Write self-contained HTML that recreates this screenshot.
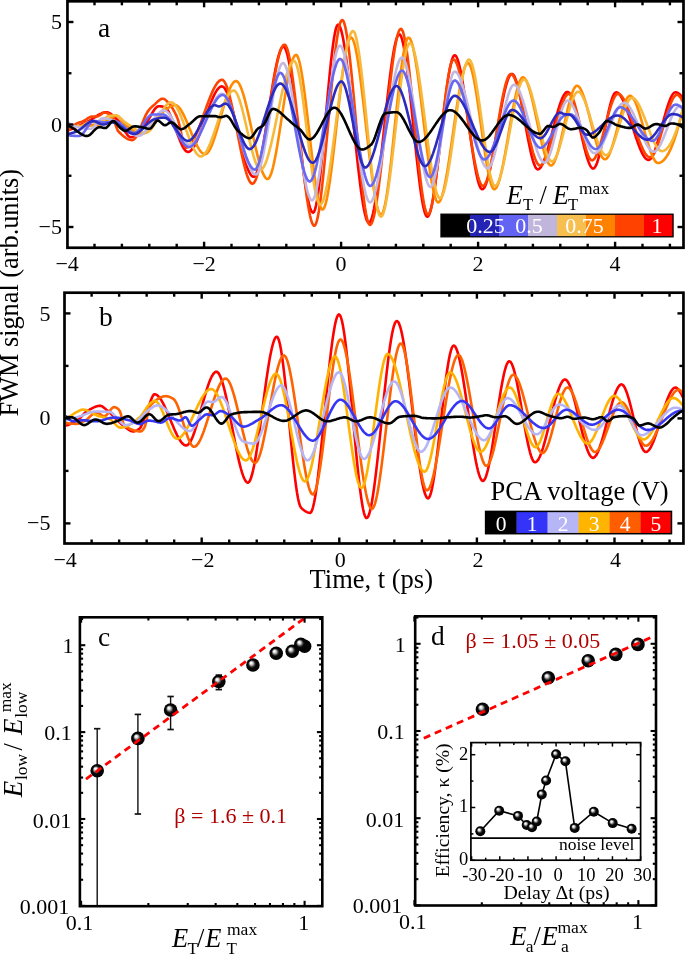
<!DOCTYPE html><html><head><meta charset="utf-8"><style>html,body{margin:0;padding:0;background:#fff;overflow:hidden}svg{display:block;will-change:transform}</style></head><body><svg width="685" height="955" viewBox="0 0 685 955" font-family="'Liberation Serif', serif">
<rect width="685" height="955" fill="#fff"/>
<defs><clipPath id="ca"><rect x="68" y="2" width="615" height="245"/></clipPath><clipPath id="cb"><rect x="66" y="294" width="617" height="249"/></clipPath></defs><g clip-path="url(#ca)">
<path d="M67.0,130.7 L68.0,130.3 L69.0,130.0 L70.0,129.6 L71.0,129.3 L72.0,128.9 L73.0,128.5 L74.0,128.0 L75.0,127.6 L76.0,127.2 L77.0,126.7 L78.0,126.2 L79.0,125.8 L80.0,125.3 L81.0,124.8 L82.0,124.3 L83.0,123.8 L84.0,123.4 L85.0,122.9 L86.0,122.4 L87.0,121.9 L88.0,121.4 L89.0,120.9 L90.0,120.4 L91.0,119.8 L92.0,119.1 L93.0,118.5 L94.0,117.8 L95.0,117.1 L96.0,116.5 L97.0,115.8 L98.0,115.2 L99.0,114.6 L100.0,114.0 L101.0,113.6 L102.0,113.1 L103.0,112.8 L104.0,112.5 L105.0,112.3 L106.0,112.2 L107.0,112.2 L108.0,112.5 L109.0,112.9 L110.0,113.4 L111.0,114.1 L112.0,114.8 L113.0,115.7 L114.0,116.6 L115.0,117.5 L116.0,118.5 L117.0,119.5 L118.0,120.4 L119.0,121.5 L120.0,122.8 L121.0,124.3 L122.0,126.0 L123.0,127.8 L124.0,129.6 L125.0,131.3 L126.0,132.9 L127.0,134.4 L128.0,135.6 L129.0,136.5 L130.0,137.1 L131.0,137.2 L132.0,137.1 L133.0,136.7 L134.0,136.2 L135.0,135.5 L136.0,134.6 L137.0,133.7 L138.0,132.6 L139.0,131.5 L140.0,130.4 L141.0,129.2 L142.0,128.0 L143.0,126.8 L144.0,125.6 L145.0,124.5 L146.0,123.3 L147.0,121.9 L148.0,120.3 L149.0,118.6 L150.0,116.9 L151.0,115.1 L152.0,113.4 L153.0,111.7 L154.0,110.2 L155.0,108.8 L156.0,107.7 L157.0,106.9 L158.0,106.4 L159.0,106.3 L160.0,106.3 L161.0,106.4 L162.0,106.5 L163.0,106.7 L164.0,106.9 L165.0,107.3 L166.0,108.1 L167.0,109.2 L168.0,110.7 L169.0,112.5 L170.0,114.5 L171.0,116.8 L172.0,119.2 L173.0,121.8 L174.0,124.5 L175.0,127.2 L176.0,130.0 L177.0,132.7 L178.0,135.5 L179.0,138.1 L180.0,140.6 L181.0,143.0 L182.0,145.1 L183.0,147.1 L184.0,148.7 L185.0,150.1 L186.0,151.1 L187.0,151.7 L188.0,152.0 L189.0,151.8 L190.0,151.3 L191.0,150.5 L192.0,149.4 L193.0,148.1 L194.0,146.5 L195.0,144.7 L196.0,142.7 L197.0,140.6 L198.0,138.2 L199.0,135.7 L200.0,133.1 L201.0,130.4 L202.0,127.6 L203.0,124.8 L204.0,121.9 L205.0,119.0 L206.0,116.1 L207.0,113.2 L208.0,110.4 L209.0,107.6 L210.0,104.9 L211.0,102.4 L212.0,99.9 L213.0,97.6 L214.0,95.4 L215.0,93.4 L216.0,91.6 L217.0,90.1 L218.0,88.8 L219.0,87.7 L220.0,87.0 L221.0,86.5 L222.0,86.4 L223.0,86.7 L224.0,87.5 L225.0,88.8 L226.0,90.5 L227.0,92.6 L228.0,95.1 L229.0,97.9 L230.0,101.1 L231.0,104.4 L232.0,108.1 L233.0,111.9 L234.0,115.8 L235.0,119.9 L236.0,124.1 L237.0,128.4 L238.0,132.6 L239.0,136.9 L240.0,141.1 L241.0,145.3 L242.0,149.3 L243.0,153.2 L244.0,156.9 L245.0,160.4 L246.0,163.7 L247.0,166.7 L248.0,169.3 L249.0,171.6 L250.0,173.5 L251.0,175.1 L252.0,176.1 L253.0,176.7 L254.0,176.7 L255.0,175.9 L256.0,174.4 L257.0,172.1 L258.0,169.1 L259.0,165.5 L260.0,161.3 L261.0,156.7 L262.0,151.6 L263.0,146.1 L264.0,140.3 L265.0,134.2 L266.0,127.9 L267.0,121.5 L268.0,115.0 L269.0,108.4 L270.0,101.9 L271.0,95.5 L272.0,89.2 L273.0,83.1 L274.0,77.3 L275.0,71.8 L276.0,66.7 L277.0,62.0 L278.0,57.9 L279.0,54.3 L280.0,51.3 L281.0,49.0 L282.0,47.4 L283.0,46.7 L284.0,46.8 L285.0,48.0 L286.0,50.2 L287.0,53.3 L288.0,57.3 L289.0,62.1 L290.0,67.6 L291.0,73.7 L292.0,80.3 L293.0,87.4 L294.0,95.0 L295.0,102.8 L296.0,110.9 L297.0,119.2 L298.0,127.5 L299.0,135.9 L300.0,144.2 L301.0,152.4 L302.0,160.4 L303.0,168.1 L304.0,175.4 L305.0,182.3 L306.0,188.7 L307.0,194.5 L308.0,199.6 L309.0,204.0 L310.0,207.6 L311.0,210.3 L312.0,212.0 L313.0,212.6 L314.0,211.9 L315.0,209.6 L316.0,205.6 L317.0,200.4 L318.0,193.8 L319.0,186.2 L320.0,177.6 L321.0,168.2 L322.0,158.1 L323.0,147.6 L324.0,136.6 L325.0,125.4 L326.0,114.1 L327.0,102.9 L328.0,91.9 L329.0,81.3 L330.0,71.1 L331.0,61.5 L332.0,52.8 L333.0,44.9 L334.0,38.2 L335.0,32.6 L336.0,28.4 L337.0,25.7 L338.0,24.7 L339.0,25.2 L340.0,26.8 L341.0,29.6 L342.0,33.4 L343.0,38.1 L344.0,43.7 L345.0,50.1 L346.0,57.1 L347.0,64.8 L348.0,72.9 L349.0,81.6 L350.0,90.6 L351.0,99.9 L352.0,109.3 L353.0,119.0 L354.0,128.6 L355.0,138.2 L356.0,147.7 L357.0,157.0 L358.0,166.0 L359.0,174.6 L360.0,182.8 L361.0,190.5 L362.0,197.5 L363.0,203.9 L364.0,209.4 L365.0,214.2 L366.0,218.0 L367.0,220.7 L368.0,222.4 L369.0,222.9 L370.0,222.2 L371.0,220.3 L372.0,217.4 L373.0,213.5 L374.0,208.8 L375.0,203.2 L376.0,196.8 L377.0,189.9 L378.0,182.3 L379.0,174.3 L380.0,165.8 L381.0,157.0 L382.0,148.0 L383.0,138.8 L384.0,129.5 L385.0,120.2 L386.0,111.0 L387.0,101.9 L388.0,93.1 L389.0,84.6 L390.0,76.5 L391.0,68.8 L392.0,61.7 L393.0,55.2 L394.0,49.5 L395.0,44.6 L396.0,40.5 L397.0,37.4 L398.0,35.3 L399.0,34.4 L400.0,34.6 L401.0,36.2 L402.0,39.1 L403.0,43.0 L404.0,48.0 L405.0,53.9 L406.0,60.6 L407.0,68.1 L408.0,76.2 L409.0,84.8 L410.0,93.9 L411.0,103.2 L412.0,112.9 L413.0,122.6 L414.0,132.4 L415.0,142.1 L416.0,151.6 L417.0,160.8 L418.0,169.7 L419.0,178.2 L420.0,186.0 L421.0,193.2 L422.0,199.6 L423.0,205.2 L424.0,209.7 L425.0,213.3 L426.0,215.6 L427.0,216.7 L428.0,216.4 L429.0,215.0 L430.0,212.4 L431.0,208.7 L432.0,204.1 L433.0,198.7 L434.0,192.5 L435.0,185.6 L436.0,178.2 L437.0,170.3 L438.0,162.1 L439.0,153.5 L440.0,144.8 L441.0,136.0 L442.0,127.2 L443.0,118.4 L444.0,109.9 L445.0,101.6 L446.0,93.7 L447.0,86.3 L448.0,79.5 L449.0,73.3 L450.0,67.8 L451.0,63.3 L452.0,59.6 L453.0,57.0 L454.0,55.5 L455.0,55.3 L456.0,56.1 L457.0,57.9 L458.0,60.5 L459.0,64.0 L460.0,68.2 L461.0,73.1 L462.0,78.5 L463.0,84.5 L464.0,90.8 L465.0,97.5 L466.0,104.5 L467.0,111.7 L468.0,119.0 L469.0,126.3 L470.0,133.5 L471.0,140.7 L472.0,147.6 L473.0,154.3 L474.0,160.6 L475.0,166.5 L476.0,171.9 L477.0,176.7 L478.0,180.9 L479.0,184.3 L480.0,186.8 L481.0,188.5 L482.0,189.3 L483.0,189.0 L484.0,188.1 L485.0,186.4 L486.0,184.1 L487.0,181.2 L488.0,177.8 L489.0,173.9 L490.0,169.6 L491.0,164.9 L492.0,159.9 L493.0,154.6 L494.0,149.1 L495.0,143.4 L496.0,137.7 L497.0,131.9 L498.0,126.0 L499.0,120.3 L500.0,114.6 L501.0,109.1 L502.0,103.8 L503.0,98.7 L504.0,94.0 L505.0,89.7 L506.0,85.7 L507.0,82.3 L508.0,79.3 L509.0,77.0 L510.0,75.2 L511.0,74.2 L512.0,73.9 L513.0,74.4 L514.0,75.6 L515.0,77.6 L516.0,80.3 L517.0,83.5 L518.0,87.3 L519.0,91.5 L520.0,96.1 L521.0,101.0 L522.0,106.1 L523.0,111.5 L524.0,116.9 L525.0,122.5 L526.0,128.0 L527.0,133.4 L528.0,138.7 L529.0,143.8 L530.0,148.6 L531.0,153.1 L532.0,157.2 L533.0,160.8 L534.0,163.8 L535.0,166.3 L536.0,168.1 L537.0,169.1 L538.0,169.4 L539.0,169.0 L540.0,168.2 L541.0,166.9 L542.0,165.2 L543.0,163.1 L544.0,160.7 L545.0,157.9 L546.0,154.9 L547.0,151.7 L548.0,148.3 L549.0,144.6 L550.0,140.9 L551.0,137.1 L552.0,133.2 L553.0,129.3 L554.0,125.4 L555.0,121.5 L556.0,117.8 L557.0,114.1 L558.0,110.6 L559.0,107.3 L560.0,104.2 L561.0,101.4 L562.0,98.9 L563.0,96.7 L564.0,94.9 L565.0,93.5 L566.0,92.5 L567.0,92.0 L568.0,92.0 L569.0,92.7 L570.0,93.9 L571.0,95.8 L572.0,98.1 L573.0,100.9 L574.0,104.1 L575.0,107.7 L576.0,111.5 L577.0,115.6 L578.0,119.8 L579.0,124.2 L580.0,128.7 L581.0,133.1 L582.0,137.6 L583.0,141.9 L584.0,146.1 L585.0,150.1 L586.0,153.9 L587.0,157.3 L588.0,160.4 L589.0,163.1 L590.0,165.3 L591.0,167.0 L592.0,168.1 L593.0,168.6 L594.0,168.3 L595.0,167.2 L596.0,165.4 L597.0,163.0 L598.0,159.9 L599.0,156.4 L600.0,152.4 L601.0,148.1 L602.0,143.4 L603.0,138.6 L604.0,133.7 L605.0,128.7 L606.0,123.7 L607.0,118.9 L608.0,114.2 L609.0,109.8 L610.0,105.7 L611.0,102.0 L612.0,98.8 L613.0,96.1 L614.0,94.1 L615.0,92.8 L616.0,92.3 L617.0,92.5 L618.0,93.0 L619.0,93.8 L620.0,95.0 L621.0,96.5 L622.0,98.2 L623.0,100.2 L624.0,102.4 L625.0,104.8 L626.0,107.4 L627.0,110.1 L628.0,113.0 L629.0,115.9 L630.0,119.0 L631.0,122.1 L632.0,125.2 L633.0,128.3 L634.0,131.4 L635.0,134.5 L636.0,137.5 L637.0,140.4 L638.0,143.3 L639.0,145.9 L640.0,148.4 L641.0,150.8 L642.0,152.9 L643.0,154.8 L644.0,156.4 L645.0,157.8 L646.0,158.8 L647.0,159.5 L648.0,159.9 L649.0,159.9 L650.0,159.4 L651.0,158.3 L652.0,156.8 L653.0,155.0 L654.0,152.7 L655.0,150.1 L656.0,147.2 L657.0,144.1 L658.0,140.7 L659.0,137.2 L660.0,133.6 L661.0,129.9 L662.0,126.1 L663.0,122.4 L664.0,118.7 L665.0,115.1 L666.0,111.5 L667.0,108.2 L668.0,105.1 L669.0,102.2 L670.0,99.6 L671.0,97.3 L672.0,95.4 L673.0,93.9 L674.0,92.9 L675.0,92.4 L676.0,92.3 L677.0,92.6 L678.0,93.0 L679.0,93.7 L680.0,94.5 L681.0,95.6 L682.0,96.8 L683.0,98.3 L684.0,99.9" fill="none" stroke="#ff0000" stroke-width="2.6" stroke-linejoin="round" stroke-linecap="round"/>
<path d="M67.0,131.7 L68.0,130.6 L69.0,129.6 L70.0,128.6 L71.0,127.6 L72.0,126.8 L73.0,126.0 L74.0,125.2 L75.0,124.5 L76.0,123.9 L77.0,123.4 L78.0,123.0 L79.0,122.6 L80.0,122.3 L81.0,122.0 L82.0,121.6 L83.0,121.2 L84.0,120.8 L85.0,120.2 L86.0,119.5 L87.0,118.8 L88.0,118.2 L89.0,117.6 L90.0,117.1 L91.0,116.8 L92.0,116.6 L93.0,116.6 L94.0,116.5 L95.0,116.5 L96.0,116.4 L97.0,116.4 L98.0,116.2 L99.0,115.8 L100.0,115.1 L101.0,114.4 L102.0,113.6 L103.0,113.0 L104.0,112.7 L105.0,112.6 L106.0,112.8 L107.0,113.1 L108.0,113.5 L109.0,114.0 L110.0,114.6 L111.0,115.3 L112.0,116.2 L113.0,118.0 L114.0,120.4 L115.0,123.3 L116.0,126.2 L117.0,128.8 L118.0,130.8 L119.0,132.0 L120.0,133.0 L121.0,134.0 L122.0,134.9 L123.0,135.7 L124.0,136.6 L125.0,137.3 L126.0,138.0 L127.0,138.6 L128.0,139.1 L129.0,139.5 L130.0,139.8 L131.0,140.0 L132.0,140.1 L133.0,140.0 L134.0,139.4 L135.0,138.4 L136.0,137.0 L137.0,135.3 L138.0,133.3 L139.0,131.1 L140.0,128.8 L141.0,126.4 L142.0,123.9 L143.0,121.4 L144.0,119.0 L145.0,116.8 L146.0,114.6 L147.0,112.8 L148.0,111.2 L149.0,109.9 L150.0,108.7 L151.0,107.7 L152.0,106.7 L153.0,105.8 L154.0,105.0 L155.0,104.1 L156.0,103.1 L157.0,102.2 L158.0,101.2 L159.0,100.4 L160.0,99.7 L161.0,99.1 L162.0,98.8 L163.0,98.7 L164.0,98.9 L165.0,99.5 L166.0,100.4 L167.0,101.4 L168.0,102.4 L169.0,103.4 L170.0,104.6 L171.0,106.0 L172.0,107.5 L173.0,109.2 L174.0,111.0 L175.0,112.9 L176.0,114.9 L177.0,117.1 L178.0,119.7 L179.0,123.3 L180.0,127.6 L181.0,132.3 L182.0,136.9 L183.0,141.1 L184.0,144.5 L185.0,146.8 L186.0,147.7 L187.0,147.5 L188.0,147.1 L189.0,146.3 L190.0,145.3 L191.0,144.1 L192.0,142.6 L193.0,141.0 L194.0,139.1 L195.0,137.1 L196.0,134.9 L197.0,132.5 L198.0,130.1 L199.0,127.5 L200.0,124.9 L201.0,122.1 L202.0,119.4 L203.0,116.6 L204.0,113.7 L205.0,110.9 L206.0,108.1 L207.0,105.3 L208.0,102.6 L209.0,100.0 L210.0,97.4 L211.0,94.9 L212.0,92.6 L213.0,90.4 L214.0,88.4 L215.0,86.5 L216.0,84.8 L217.0,83.4 L218.0,82.1 L219.0,81.1 L220.0,80.4 L221.0,80.0 L222.0,79.8 L223.0,80.1 L224.0,81.1 L225.0,82.6 L226.0,84.7 L227.0,87.3 L228.0,90.4 L229.0,93.8 L230.0,97.6 L231.0,101.7 L232.0,106.2 L233.0,110.8 L234.0,115.6 L235.0,120.6 L236.0,125.6 L237.0,130.8 L238.0,135.9 L239.0,141.0 L240.0,146.0 L241.0,150.9 L242.0,155.6 L243.0,160.1 L244.0,164.3 L245.0,168.3 L246.0,171.9 L247.0,175.1 L248.0,177.8 L249.0,180.1 L250.0,181.9 L251.0,183.1 L252.0,183.7 L253.0,183.6 L254.0,182.7 L255.0,181.2 L256.0,178.9 L257.0,176.0 L258.0,172.5 L259.0,168.5 L260.0,164.0 L261.0,159.1 L262.0,153.8 L263.0,148.2 L264.0,142.4 L265.0,136.2 L266.0,130.0 L267.0,123.6 L268.0,117.1 L269.0,110.6 L270.0,104.1 L271.0,97.7 L272.0,91.4 L273.0,85.3 L274.0,79.5 L275.0,73.9 L276.0,68.7 L277.0,63.8 L278.0,59.4 L279.0,55.4 L280.0,52.0 L281.0,49.2 L282.0,47.0 L283.0,45.4 L284.0,44.7 L285.0,44.7 L286.0,45.9 L287.0,48.2 L288.0,51.5 L289.0,55.7 L290.0,60.8 L291.0,66.7 L292.0,73.2 L293.0,80.4 L294.0,88.1 L295.0,96.2 L296.0,104.7 L297.0,113.5 L298.0,122.4 L299.0,131.5 L300.0,140.6 L301.0,149.7 L302.0,158.6 L303.0,167.4 L304.0,175.8 L305.0,183.8 L306.0,191.4 L307.0,198.5 L308.0,204.9 L309.0,210.6 L310.0,215.5 L311.0,219.6 L312.0,222.7 L313.0,224.8 L314.0,225.7 L315.0,225.4 L316.0,223.6 L317.0,220.4 L318.0,215.9 L319.0,210.2 L320.0,203.5 L321.0,195.9 L322.0,187.4 L323.0,178.2 L324.0,168.4 L325.0,158.2 L326.0,147.5 L327.0,136.7 L328.0,125.6 L329.0,114.6 L330.0,103.6 L331.0,92.8 L332.0,82.4 L333.0,72.3 L334.0,62.8 L335.0,54.0 L336.0,45.9 L337.0,38.7 L338.0,32.5 L339.0,27.5 L340.0,23.6 L341.0,21.1 L342.0,20.0 L343.0,20.4 L344.0,22.4 L345.0,25.8 L346.0,30.4 L347.0,36.2 L348.0,43.0 L349.0,50.7 L350.0,59.3 L351.0,68.6 L352.0,78.4 L353.0,88.7 L354.0,99.4 L355.0,110.3 L356.0,121.3 L357.0,132.4 L358.0,143.3 L359.0,154.1 L360.0,164.5 L361.0,174.4 L362.0,183.8 L363.0,192.5 L364.0,200.4 L365.0,207.4 L366.0,213.4 L367.0,218.3 L368.0,221.9 L369.0,224.2 L370.0,224.9 L371.0,224.3 L372.0,222.6 L373.0,219.8 L374.0,215.9 L375.0,211.2 L376.0,205.6 L377.0,199.3 L378.0,192.3 L379.0,184.7 L380.0,176.6 L381.0,168.1 L382.0,159.2 L383.0,150.0 L384.0,140.6 L385.0,131.1 L386.0,121.6 L387.0,112.1 L388.0,102.8 L389.0,93.6 L390.0,84.8 L391.0,76.3 L392.0,68.2 L393.0,60.7 L394.0,53.7 L395.0,47.5 L396.0,42.0 L397.0,37.4 L398.0,33.6 L399.0,30.9 L400.0,29.3 L401.0,28.8 L402.0,29.7 L403.0,31.9 L404.0,35.5 L405.0,40.2 L406.0,46.0 L407.0,52.8 L408.0,60.4 L409.0,68.7 L410.0,77.6 L411.0,87.0 L412.0,96.8 L413.0,106.9 L414.0,117.1 L415.0,127.4 L416.0,137.6 L417.0,147.7 L418.0,157.4 L419.0,166.8 L420.0,175.7 L421.0,183.9 L422.0,191.4 L423.0,198.0 L424.0,203.7 L425.0,208.4 L426.0,211.8 L427.0,214.0 L428.0,214.7 L429.0,214.0 L430.0,212.0 L431.0,208.8 L432.0,204.5 L433.0,199.3 L434.0,193.1 L435.0,186.2 L436.0,178.7 L437.0,170.6 L438.0,162.2 L439.0,153.4 L440.0,144.4 L441.0,135.3 L442.0,126.2 L443.0,117.3 L444.0,108.6 L445.0,100.3 L446.0,92.4 L447.0,85.1 L448.0,78.5 L449.0,72.7 L450.0,67.9 L451.0,64.0 L452.0,61.3 L453.0,59.8 L454.0,59.6 L455.0,60.3 L456.0,61.9 L457.0,64.2 L458.0,67.2 L459.0,70.7 L460.0,74.9 L461.0,79.5 L462.0,84.6 L463.0,90.0 L464.0,95.8 L465.0,101.8 L466.0,108.0 L467.0,114.4 L468.0,120.8 L469.0,127.3 L470.0,133.7 L471.0,140.0 L472.0,146.1 L473.0,152.1 L474.0,157.7 L475.0,163.0 L476.0,167.9 L477.0,172.3 L478.0,176.3 L479.0,179.6 L480.0,182.3 L481.0,184.3 L482.0,185.6 L483.0,186.0 L484.0,185.6 L485.0,184.3 L486.0,182.4 L487.0,179.7 L488.0,176.4 L489.0,172.6 L490.0,168.3 L491.0,163.5 L492.0,158.4 L493.0,153.0 L494.0,147.3 L495.0,141.4 L496.0,135.5 L497.0,129.4 L498.0,123.4 L499.0,117.4 L500.0,111.6 L501.0,106.0 L502.0,100.6 L503.0,95.6 L504.0,90.9 L505.0,86.7 L506.0,82.9 L507.0,79.8 L508.0,77.2 L509.0,75.4 L510.0,74.3 L511.0,74.1 L512.0,74.5 L513.0,75.5 L514.0,77.1 L515.0,79.2 L516.0,81.7 L517.0,84.7 L518.0,88.0 L519.0,91.7 L520.0,95.6 L521.0,99.7 L522.0,104.1 L523.0,108.6 L524.0,113.2 L525.0,117.9 L526.0,122.6 L527.0,127.3 L528.0,131.9 L529.0,136.4 L530.0,140.7 L531.0,144.8 L532.0,148.7 L533.0,152.3 L534.0,155.5 L535.0,158.4 L536.0,160.8 L537.0,162.8 L538.0,164.3 L539.0,165.2 L540.0,165.5 L541.0,165.2 L542.0,164.5 L543.0,163.4 L544.0,161.8 L545.0,159.8 L546.0,157.6 L547.0,155.0 L548.0,152.1 L549.0,149.1 L550.0,145.8 L551.0,142.4 L552.0,138.8 L553.0,135.2 L554.0,131.5 L555.0,127.8 L556.0,124.1 L557.0,120.4 L558.0,116.9 L559.0,113.5 L560.0,110.2 L561.0,107.1 L562.0,104.3 L563.0,101.7 L564.0,99.4 L565.0,97.5 L566.0,95.9 L567.0,94.7 L568.0,94.0 L569.0,93.8 L570.0,94.1 L571.0,95.2 L572.0,96.9 L573.0,99.1 L574.0,101.8 L575.0,105.0 L576.0,108.5 L577.0,112.3 L578.0,116.4 L579.0,120.6 L580.0,124.9 L581.0,129.2 L582.0,133.5 L583.0,137.8 L584.0,141.8 L585.0,145.6 L586.0,149.1 L587.0,152.3 L588.0,155.0 L589.0,157.3 L590.0,159.0 L591.0,160.0 L592.0,160.4 L593.0,160.1 L594.0,159.3 L595.0,157.9 L596.0,156.1 L597.0,153.9 L598.0,151.4 L599.0,148.5 L600.0,145.3 L601.0,142.0 L602.0,138.4 L603.0,134.7 L604.0,130.9 L605.0,127.1 L606.0,123.2 L607.0,119.4 L608.0,115.7 L609.0,112.2 L610.0,108.8 L611.0,105.6 L612.0,102.8 L613.0,100.2 L614.0,98.0 L615.0,96.2 L616.0,94.9 L617.0,94.0 L618.0,93.8 L619.0,93.9 L620.0,94.5 L621.0,95.3 L622.0,96.5 L623.0,97.9 L624.0,99.6 L625.0,101.5 L626.0,103.7 L627.0,106.0 L628.0,108.5 L629.0,111.1 L630.0,113.9 L631.0,116.7 L632.0,119.6 L633.0,122.5 L634.0,125.5 L635.0,128.5 L636.0,131.5 L637.0,134.4 L638.0,137.2 L639.0,139.9 L640.0,142.6 L641.0,145.0 L642.0,147.4 L643.0,149.5 L644.0,151.4 L645.0,153.1 L646.0,154.6 L647.0,155.7 L648.0,156.6 L649.0,157.1 L650.0,157.3 L651.0,157.0 L652.0,156.3 L653.0,155.2 L654.0,153.6 L655.0,151.7 L656.0,149.4 L657.0,146.9 L658.0,144.1 L659.0,141.1 L660.0,137.9 L661.0,134.6 L662.0,131.2 L663.0,127.8 L664.0,124.3 L665.0,120.8 L666.0,117.5 L667.0,114.2 L668.0,111.0 L669.0,108.0 L670.0,105.2 L671.0,102.7 L672.0,100.4 L673.0,98.5 L674.0,96.9 L675.0,95.8 L676.0,95.0 L677.0,94.8 L678.0,95.0 L679.0,95.8 L680.0,96.9 L681.0,98.3 L682.0,100.1 L683.0,102.0 L684.0,104.0" fill="none" stroke="#ff4400" stroke-width="2.6" stroke-linejoin="round" stroke-linecap="round"/>
<path d="M67.0,126.5 L68.0,126.5 L69.0,126.5 L70.0,126.5 L71.0,126.5 L72.0,126.5 L73.0,126.5 L74.0,126.4 L75.0,126.4 L76.0,126.4 L77.0,126.3 L78.0,126.3 L79.0,126.3 L80.0,126.2 L81.0,126.1 L82.0,126.1 L83.0,126.0 L84.0,126.0 L85.0,125.9 L86.0,125.8 L87.0,125.7 L88.0,125.7 L89.0,125.6 L90.0,125.5 L91.0,125.4 L92.0,125.3 L93.0,125.2 L94.0,125.1 L95.0,125.0 L96.0,124.9 L97.0,124.8 L98.0,124.7 L99.0,124.5 L100.0,124.4 L101.0,124.1 L102.0,123.7 L103.0,123.2 L104.0,122.7 L105.0,122.0 L106.0,121.4 L107.0,120.7 L108.0,120.0 L109.0,119.3 L110.0,118.6 L111.0,117.9 L112.0,117.4 L113.0,116.9 L114.0,116.4 L115.0,116.1 L116.0,115.9 L117.0,115.9 L118.0,116.3 L119.0,117.1 L120.0,118.2 L121.0,119.6 L122.0,121.1 L123.0,122.5 L124.0,123.8 L125.0,124.9 L126.0,125.7 L127.0,126.4 L128.0,127.1 L129.0,127.9 L130.0,128.6 L131.0,129.3 L132.0,129.9 L133.0,130.6 L134.0,131.2 L135.0,131.7 L136.0,132.2 L137.0,132.6 L138.0,133.0 L139.0,133.3 L140.0,133.5 L141.0,133.7 L142.0,133.7 L143.0,133.6 L144.0,133.3 L145.0,132.9 L146.0,132.3 L147.0,131.5 L148.0,130.6 L149.0,129.6 L150.0,128.5 L151.0,127.3 L152.0,126.0 L153.0,124.7 L154.0,123.4 L155.0,122.0 L156.0,120.6 L157.0,119.2 L158.0,117.8 L159.0,116.5 L160.0,115.2 L161.0,114.0 L162.0,112.9 L163.0,111.8 L164.0,110.8 L165.0,110.0 L166.0,109.3 L167.0,108.7 L168.0,108.0 L169.0,107.4 L170.0,106.8 L171.0,106.2 L172.0,105.7 L173.0,105.4 L174.0,105.1 L175.0,105.0 L176.0,105.2 L177.0,105.7 L178.0,106.4 L179.0,107.4 L180.0,108.7 L181.0,110.1 L182.0,111.8 L183.0,113.7 L184.0,115.7 L185.0,117.8 L186.0,120.0 L187.0,122.3 L188.0,124.7 L189.0,127.2 L190.0,129.6 L191.0,132.1 L192.0,134.5 L193.0,136.9 L194.0,139.2 L195.0,141.5 L196.0,143.6 L197.0,145.6 L198.0,147.4 L199.0,149.1 L200.0,150.6 L201.0,151.8 L202.0,152.8 L203.0,153.6 L204.0,154.1 L205.0,154.2 L206.0,154.0 L207.0,153.4 L208.0,152.3 L209.0,150.9 L210.0,149.1 L211.0,147.1 L212.0,144.7 L213.0,142.1 L214.0,139.3 L215.0,136.3 L216.0,133.1 L217.0,129.8 L218.0,126.4 L219.0,122.9 L220.0,119.4 L221.0,115.9 L222.0,112.3 L223.0,108.9 L224.0,105.4 L225.0,102.1 L226.0,99.0 L227.0,96.0 L228.0,93.1 L229.0,90.5 L230.0,88.2 L231.0,86.1 L232.0,84.4 L233.0,83.0 L234.0,81.9 L235.0,81.3 L236.0,81.0 L237.0,81.3 L238.0,82.2 L239.0,83.5 L240.0,85.4 L241.0,87.6 L242.0,90.3 L243.0,93.3 L244.0,96.7 L245.0,100.4 L246.0,104.3 L247.0,108.4 L248.0,112.7 L249.0,117.1 L250.0,121.7 L251.0,126.3 L252.0,131.0 L253.0,135.6 L254.0,140.2 L255.0,144.7 L256.0,149.1 L257.0,153.3 L258.0,157.4 L259.0,161.2 L260.0,164.8 L261.0,168.0 L262.0,170.9 L263.0,173.4 L264.0,175.5 L265.0,177.1 L266.0,178.3 L267.0,178.9 L268.0,179.0 L269.0,178.2 L270.0,176.5 L271.0,174.1 L272.0,171.0 L273.0,167.3 L274.0,162.9 L275.0,158.1 L276.0,152.9 L277.0,147.2 L278.0,141.3 L279.0,135.0 L280.0,128.7 L281.0,122.2 L282.0,115.6 L283.0,109.1 L284.0,102.6 L285.0,96.3 L286.0,90.2 L287.0,84.3 L288.0,78.8 L289.0,73.7 L290.0,69.1 L291.0,65.0 L292.0,61.5 L293.0,58.7 L294.0,56.6 L295.0,55.3 L296.0,54.8 L297.0,55.4 L298.0,57.3 L299.0,60.3 L300.0,64.3 L301.0,69.3 L302.0,75.0 L303.0,81.5 L304.0,88.6 L305.0,96.2 L306.0,104.3 L307.0,112.7 L308.0,121.3 L309.0,130.0 L310.0,138.8 L311.0,147.4 L312.0,155.9 L313.0,164.2 L314.0,172.0 L315.0,179.4 L316.0,186.2 L317.0,192.3 L318.0,197.7 L319.0,202.2 L320.0,205.7 L321.0,208.1 L322.0,209.4 L323.0,209.4 L324.0,208.2 L325.0,205.8 L326.0,202.4 L327.0,198.1 L328.0,192.8 L329.0,186.8 L330.0,180.1 L331.0,172.8 L332.0,164.9 L333.0,156.7 L334.0,148.1 L335.0,139.3 L336.0,130.3 L337.0,121.2 L338.0,112.2 L339.0,103.3 L340.0,94.5 L341.0,86.1 L342.0,78.0 L343.0,70.5 L344.0,63.4 L345.0,57.1 L346.0,51.4 L347.0,46.6 L348.0,42.7 L349.0,39.8 L350.0,38.0 L351.0,37.4 L352.0,38.0 L353.0,39.6 L354.0,42.3 L355.0,46.0 L356.0,50.5 L357.0,55.8 L358.0,61.8 L359.0,68.5 L360.0,75.7 L361.0,83.3 L362.0,91.4 L363.0,99.8 L364.0,108.4 L365.0,117.2 L366.0,126.0 L367.0,134.9 L368.0,143.7 L369.0,152.3 L370.0,160.7 L371.0,168.7 L372.0,176.4 L373.0,183.6 L374.0,190.2 L375.0,196.3 L376.0,201.6 L377.0,206.1 L378.0,209.7 L379.0,212.4 L380.0,214.1 L381.0,214.7 L382.0,214.0 L383.0,212.0 L384.0,208.9 L385.0,204.6 L386.0,199.4 L387.0,193.2 L388.0,186.3 L389.0,178.7 L390.0,170.5 L391.0,161.8 L392.0,152.7 L393.0,143.4 L394.0,133.8 L395.0,124.2 L396.0,114.6 L397.0,105.1 L398.0,95.9 L399.0,87.0 L400.0,78.5 L401.0,70.5 L402.0,63.1 L403.0,56.5 L404.0,50.7 L405.0,45.8 L406.0,42.0 L407.0,39.3 L408.0,37.8 L409.0,37.7 L410.0,38.7 L411.0,40.7 L412.0,43.6 L413.0,47.4 L414.0,52.0 L415.0,57.4 L416.0,63.3 L417.0,69.9 L418.0,76.9 L419.0,84.3 L420.0,92.1 L421.0,100.1 L422.0,108.3 L423.0,116.6 L424.0,125.0 L425.0,133.3 L426.0,141.5 L427.0,149.5 L428.0,157.2 L429.0,164.5 L430.0,171.5 L431.0,177.9 L432.0,183.7 L433.0,188.9 L434.0,193.4 L435.0,197.0 L436.0,199.8 L437.0,201.6 L438.0,202.4 L439.0,202.1 L440.0,200.9 L441.0,198.9 L442.0,196.1 L443.0,192.7 L444.0,188.5 L445.0,183.8 L446.0,178.6 L447.0,172.9 L448.0,166.9 L449.0,160.5 L450.0,153.9 L451.0,147.0 L452.0,140.1 L453.0,133.1 L454.0,126.0 L455.0,119.1 L456.0,112.2 L457.0,105.5 L458.0,99.1 L459.0,93.1 L460.0,87.3 L461.0,82.1 L462.0,77.3 L463.0,73.1 L464.0,69.6 L465.0,66.7 L466.0,64.6 L467.0,63.4 L468.0,63.0 L469.0,63.6 L470.0,65.3 L471.0,67.8 L472.0,71.2 L473.0,75.3 L474.0,80.1 L475.0,85.5 L476.0,91.4 L477.0,97.7 L478.0,104.3 L479.0,111.2 L480.0,118.3 L481.0,125.4 L482.0,132.6 L483.0,139.7 L484.0,146.6 L485.0,153.3 L486.0,159.7 L487.0,165.7 L488.0,171.1 L489.0,176.1 L490.0,180.3 L491.0,183.9 L492.0,186.6 L493.0,188.4 L494.0,189.2 L495.0,189.1 L496.0,188.1 L497.0,186.5 L498.0,184.2 L499.0,181.3 L500.0,177.8 L501.0,173.8 L502.0,169.4 L503.0,164.7 L504.0,159.6 L505.0,154.2 L506.0,148.6 L507.0,142.9 L508.0,137.1 L509.0,131.3 L510.0,125.4 L511.0,119.7 L512.0,114.1 L513.0,108.6 L514.0,103.5 L515.0,98.6 L516.0,94.1 L517.0,90.0 L518.0,86.4 L519.0,83.3 L520.0,80.8 L521.0,78.9 L522.0,77.7 L523.0,77.3 L524.0,77.7 L525.0,78.6 L526.0,80.2 L527.0,82.2 L528.0,84.8 L529.0,87.8 L530.0,91.1 L531.0,94.8 L532.0,98.8 L533.0,103.0 L534.0,107.5 L535.0,112.0 L536.0,116.7 L537.0,121.4 L538.0,126.1 L539.0,130.8 L540.0,135.4 L541.0,139.8 L542.0,144.0 L543.0,148.0 L544.0,151.7 L545.0,155.1 L546.0,158.1 L547.0,160.6 L548.0,162.7 L549.0,164.2 L550.0,165.2 L551.0,165.5 L552.0,165.2 L553.0,164.2 L554.0,162.6 L555.0,160.4 L556.0,157.8 L557.0,154.7 L558.0,151.3 L559.0,147.5 L560.0,143.4 L561.0,139.2 L562.0,134.8 L563.0,130.2 L564.0,125.6 L565.0,121.0 L566.0,116.5 L567.0,112.1 L568.0,107.8 L569.0,103.8 L570.0,100.0 L571.0,96.5 L572.0,93.5 L573.0,90.8 L574.0,88.7 L575.0,87.1 L576.0,86.1 L577.0,85.8 L578.0,86.0 L579.0,86.8 L580.0,88.1 L581.0,89.8 L582.0,92.0 L583.0,94.4 L584.0,97.3 L585.0,100.3 L586.0,103.7 L587.0,107.2 L588.0,110.9 L589.0,114.7 L590.0,118.6 L591.0,122.6 L592.0,126.5 L593.0,130.4 L594.0,134.2 L595.0,137.9 L596.0,141.4 L597.0,144.8 L598.0,147.9 L599.0,150.7 L600.0,153.1 L601.0,155.3 L602.0,157.0 L603.0,158.3 L604.0,159.1 L605.0,159.3 L606.0,159.1 L607.0,158.2 L608.0,156.8 L609.0,155.0 L610.0,152.7 L611.0,150.1 L612.0,147.2 L613.0,144.0 L614.0,140.6 L615.0,137.0 L616.0,133.3 L617.0,129.5 L618.0,125.7 L619.0,121.9 L620.0,118.2 L621.0,114.6 L622.0,111.2 L623.0,108.0 L624.0,105.0 L625.0,102.4 L626.0,100.2 L627.0,98.3 L628.0,97.0 L629.0,96.1 L630.0,95.8 L631.0,96.1 L632.0,96.8 L633.0,98.0 L634.0,99.5 L635.0,101.5 L636.0,103.7 L637.0,106.3 L638.0,109.1 L639.0,112.2 L640.0,115.4 L641.0,118.8 L642.0,122.3 L643.0,125.8 L644.0,129.4 L645.0,133.0 L646.0,136.6 L647.0,140.1 L648.0,143.4 L649.0,146.7 L650.0,149.7 L651.0,152.5 L652.0,155.1 L653.0,157.4 L654.0,159.3 L655.0,160.9 L656.0,162.1 L657.0,162.8 L658.0,163.0 L659.0,163.0 L660.0,162.7 L661.0,162.2 L662.0,161.6 L663.0,160.8 L664.0,159.9 L665.0,158.7 L666.0,157.4 L667.0,155.9 L668.0,154.3 L669.0,152.4 L670.0,150.4 L671.0,148.2 L672.0,145.8 L673.0,143.3 L674.0,140.6 L675.0,137.7 L676.0,134.7 L677.0,131.4 L678.0,128.0 L679.0,124.5 L680.0,120.7 L681.0,116.8 L682.0,112.7 L683.0,108.4 L684.0,104.0" fill="none" stroke="#ff8a00" stroke-width="2.6" stroke-linejoin="round" stroke-linecap="round"/>
<path d="M67.0,126.5 L68.0,126.5 L69.0,126.5 L70.0,126.5 L71.0,126.5 L72.0,126.5 L73.0,126.5 L74.0,126.5 L75.0,126.5 L76.0,126.4 L77.0,126.4 L78.0,126.4 L79.0,126.3 L80.0,126.2 L81.0,126.0 L82.0,125.6 L83.0,125.1 L84.0,124.5 L85.0,123.9 L86.0,123.4 L87.0,122.8 L88.0,122.4 L89.0,122.0 L90.0,121.9 L91.0,121.9 L92.0,122.0 L93.0,122.2 L94.0,122.4 L95.0,122.7 L96.0,123.0 L97.0,123.2 L98.0,123.4 L99.0,123.5 L100.0,123.3 L101.0,122.6 L102.0,121.8 L103.0,120.7 L104.0,119.6 L105.0,118.5 L106.0,117.5 L107.0,116.7 L108.0,116.3 L109.0,116.1 L110.0,115.9 L111.0,115.7 L112.0,115.6 L113.0,115.4 L114.0,115.3 L115.0,115.3 L116.0,115.3 L117.0,115.5 L118.0,116.0 L119.0,116.7 L120.0,117.6 L121.0,118.5 L122.0,119.5 L123.0,120.5 L124.0,121.4 L125.0,122.2 L126.0,122.8 L127.0,123.5 L128.0,124.2 L129.0,124.9 L130.0,125.6 L131.0,126.3 L132.0,127.0 L133.0,127.7 L134.0,128.4 L135.0,129.0 L136.0,129.6 L137.0,130.2 L138.0,130.7 L139.0,131.2 L140.0,131.7 L141.0,132.1 L142.0,132.4 L143.0,132.6 L144.0,132.8 L145.0,132.9 L146.0,132.9 L147.0,132.6 L148.0,132.1 L149.0,131.3 L150.0,130.4 L151.0,129.3 L152.0,128.0 L153.0,126.6 L154.0,125.0 L155.0,123.4 L156.0,121.7 L157.0,120.0 L158.0,118.2 L159.0,116.4 L160.0,114.6 L161.0,112.9 L162.0,111.2 L163.0,109.6 L164.0,108.1 L165.0,106.7 L166.0,105.5 L167.0,104.5 L168.0,103.6 L169.0,102.9 L170.0,102.5 L171.0,102.4 L172.0,102.5 L173.0,103.0 L174.0,103.8 L175.0,104.9 L176.0,106.3 L177.0,107.9 L178.0,109.8 L179.0,111.8 L180.0,114.0 L181.0,116.4 L182.0,118.9 L183.0,121.5 L184.0,124.1 L185.0,126.8 L186.0,129.6 L187.0,132.3 L188.0,135.0 L189.0,137.6 L190.0,140.2 L191.0,142.7 L192.0,145.0 L193.0,147.2 L194.0,149.3 L195.0,151.1 L196.0,152.7 L197.0,154.0 L198.0,155.1 L199.0,155.9 L200.0,156.4 L201.0,156.5 L202.0,156.2 L203.0,155.6 L204.0,154.7 L205.0,153.5 L206.0,152.1 L207.0,150.3 L208.0,148.4 L209.0,146.2 L210.0,143.9 L211.0,141.4 L212.0,138.7 L213.0,136.0 L214.0,133.1 L215.0,130.2 L216.0,127.2 L217.0,124.2 L218.0,121.2 L219.0,118.2 L220.0,115.3 L221.0,112.4 L222.0,109.6 L223.0,106.9 L224.0,104.3 L225.0,101.9 L226.0,99.6 L227.0,97.6 L228.0,95.7 L229.0,94.1 L230.0,92.8 L231.0,91.7 L232.0,91.0 L233.0,90.6 L234.0,90.5 L235.0,91.0 L236.0,92.1 L237.0,93.8 L238.0,95.9 L239.0,98.5 L240.0,101.5 L241.0,104.8 L242.0,108.4 L243.0,112.3 L244.0,116.4 L245.0,120.6 L246.0,125.0 L247.0,129.4 L248.0,133.8 L249.0,138.1 L250.0,142.4 L251.0,146.6 L252.0,150.5 L253.0,154.2 L254.0,157.6 L255.0,160.7 L256.0,163.4 L257.0,165.7 L258.0,167.5 L259.0,168.8 L260.0,169.5 L261.0,169.6 L262.0,169.0 L263.0,168.0 L264.0,166.5 L265.0,164.4 L266.0,162.0 L267.0,159.2 L268.0,156.0 L269.0,152.4 L270.0,148.6 L271.0,144.6 L272.0,140.3 L273.0,135.8 L274.0,131.2 L275.0,126.4 L276.0,121.6 L277.0,116.7 L278.0,111.9 L279.0,107.0 L280.0,102.2 L281.0,97.5 L282.0,92.9 L283.0,88.5 L284.0,84.3 L285.0,80.4 L286.0,76.7 L287.0,73.3 L288.0,70.2 L289.0,67.5 L290.0,65.3 L291.0,63.4 L292.0,62.1 L293.0,61.2 L294.0,60.9 L295.0,61.6 L296.0,63.3 L297.0,66.2 L298.0,70.0 L299.0,74.6 L300.0,80.1 L301.0,86.2 L302.0,92.9 L303.0,100.1 L304.0,107.7 L305.0,115.6 L306.0,123.7 L307.0,131.9 L308.0,140.1 L309.0,148.2 L310.0,156.1 L311.0,163.8 L312.0,171.1 L313.0,177.9 L314.0,184.1 L315.0,189.7 L316.0,194.6 L317.0,198.6 L318.0,201.6 L319.0,203.6 L320.0,204.4 L321.0,204.1 L322.0,202.9 L323.0,200.9 L324.0,198.0 L325.0,194.4 L326.0,190.1 L327.0,185.2 L328.0,179.7 L329.0,173.7 L330.0,167.3 L331.0,160.4 L332.0,153.3 L333.0,145.8 L334.0,138.2 L335.0,130.4 L336.0,122.5 L337.0,114.6 L338.0,106.7 L339.0,98.8 L340.0,91.2 L341.0,83.7 L342.0,76.5 L343.0,69.6 L344.0,63.0 L345.0,56.9 L346.0,51.3 L347.0,46.3 L348.0,41.9 L349.0,38.1 L350.0,35.1 L351.0,32.9 L352.0,31.5 L353.0,31.0 L354.0,31.7 L355.0,33.7 L356.0,37.0 L357.0,41.4 L358.0,46.8 L359.0,53.1 L360.0,60.2 L361.0,68.1 L362.0,76.5 L363.0,85.5 L364.0,94.9 L365.0,104.5 L366.0,114.4 L367.0,124.4 L368.0,134.3 L369.0,144.2 L370.0,153.9 L371.0,163.2 L372.0,172.1 L373.0,180.5 L374.0,188.3 L375.0,195.3 L376.0,201.6 L377.0,206.9 L378.0,211.1 L379.0,214.3 L380.0,216.2 L381.0,216.7 L382.0,216.0 L383.0,214.2 L384.0,211.3 L385.0,207.4 L386.0,202.6 L387.0,197.1 L388.0,190.8 L389.0,183.9 L390.0,176.4 L391.0,168.5 L392.0,160.2 L393.0,151.7 L394.0,142.9 L395.0,134.0 L396.0,125.0 L397.0,116.1 L398.0,107.3 L399.0,98.8 L400.0,90.5 L401.0,82.7 L402.0,75.3 L403.0,68.4 L404.0,62.2 L405.0,56.7 L406.0,52.1 L407.0,48.3 L408.0,45.5 L409.0,43.7 L410.0,43.1 L411.0,43.6 L412.0,45.1 L413.0,47.5 L414.0,50.7 L415.0,54.6 L416.0,59.3 L417.0,64.5 L418.0,70.3 L419.0,76.6 L420.0,83.3 L421.0,90.4 L422.0,97.7 L423.0,105.3 L424.0,113.0 L425.0,120.7 L426.0,128.5 L427.0,136.1 L428.0,143.7 L429.0,151.0 L430.0,158.1 L431.0,164.8 L432.0,171.1 L433.0,176.9 L434.0,182.2 L435.0,186.8 L436.0,190.8 L437.0,194.0 L438.0,196.3 L439.0,197.8 L440.0,198.3 L441.0,197.8 L442.0,196.4 L443.0,194.2 L444.0,191.1 L445.0,187.3 L446.0,182.9 L447.0,177.9 L448.0,172.4 L449.0,166.5 L450.0,160.2 L451.0,153.5 L452.0,146.7 L453.0,139.6 L454.0,132.5 L455.0,125.3 L456.0,118.2 L457.0,111.1 L458.0,104.3 L459.0,97.6 L460.0,91.3 L461.0,85.4 L462.0,79.9 L463.0,74.9 L464.0,70.5 L465.0,66.7 L466.0,63.7 L467.0,61.4 L468.0,60.0 L469.0,59.5 L470.0,60.1 L471.0,61.6 L472.0,64.2 L473.0,67.6 L474.0,71.7 L475.0,76.6 L476.0,82.1 L477.0,88.1 L478.0,94.5 L479.0,101.3 L480.0,108.3 L481.0,115.5 L482.0,122.8 L483.0,130.0 L484.0,137.2 L485.0,144.3 L486.0,151.0 L487.0,157.4 L488.0,163.4 L489.0,168.9 L490.0,173.8 L491.0,177.9 L492.0,181.3 L493.0,183.9 L494.0,185.5 L495.0,186.0 L496.0,185.6 L497.0,184.5 L498.0,182.8 L499.0,180.5 L500.0,177.6 L501.0,174.2 L502.0,170.4 L503.0,166.1 L504.0,161.6 L505.0,156.7 L506.0,151.6 L507.0,146.3 L508.0,140.9 L509.0,135.5 L510.0,129.9 L511.0,124.5 L512.0,119.1 L513.0,113.8 L514.0,108.7 L515.0,103.8 L516.0,99.3 L517.0,95.0 L518.0,91.2 L519.0,87.8 L520.0,84.9 L521.0,82.6 L522.0,80.9 L523.0,79.8 L524.0,79.4 L525.0,79.7 L526.0,80.6 L527.0,82.0 L528.0,83.9 L529.0,86.3 L530.0,89.1 L531.0,92.2 L532.0,95.7 L533.0,99.4 L534.0,103.3 L535.0,107.4 L536.0,111.7 L537.0,116.0 L538.0,120.4 L539.0,124.8 L540.0,129.1 L541.0,133.4 L542.0,137.5 L543.0,141.4 L544.0,145.1 L545.0,148.6 L546.0,151.7 L547.0,154.5 L548.0,156.9 L549.0,158.8 L550.0,160.2 L551.0,161.1 L552.0,161.4 L553.0,161.1 L554.0,160.2 L555.0,158.8 L556.0,157.0 L557.0,154.7 L558.0,152.0 L559.0,149.0 L560.0,145.7 L561.0,142.1 L562.0,138.4 L563.0,134.5 L564.0,130.6 L565.0,126.6 L566.0,122.5 L567.0,118.6 L568.0,114.7 L569.0,111.0 L570.0,107.4 L571.0,104.1 L572.0,101.1 L573.0,98.4 L574.0,96.1 L575.0,94.3 L576.0,92.9 L577.0,92.0 L578.0,91.7 L579.0,91.9 L580.0,92.6 L581.0,93.7 L582.0,95.2 L583.0,97.1 L584.0,99.2 L585.0,101.6 L586.0,104.3 L587.0,107.2 L588.0,110.2 L589.0,113.4 L590.0,116.7 L591.0,120.1 L592.0,123.5 L593.0,126.9 L594.0,130.2 L595.0,133.5 L596.0,136.7 L597.0,139.8 L598.0,142.7 L599.0,145.3 L600.0,147.7 L601.0,149.9 L602.0,151.7 L603.0,153.2 L604.0,154.3 L605.0,155.0 L606.0,155.2 L607.0,155.0 L608.0,154.3 L609.0,153.1 L610.0,151.6 L611.0,149.7 L612.0,147.5 L613.0,145.0 L614.0,142.3 L615.0,139.4 L616.0,136.3 L617.0,133.1 L618.0,129.9 L619.0,126.6 L620.0,123.2 L621.0,120.0 L622.0,116.8 L623.0,113.7 L624.0,110.8 L625.0,108.1 L626.0,105.6 L627.0,103.4 L628.0,101.5 L629.0,100.0 L630.0,98.8 L631.0,98.1 L632.0,97.8 L633.0,98.0 L634.0,98.5 L635.0,99.3 L636.0,100.4 L637.0,101.8 L638.0,103.4 L639.0,105.2 L640.0,107.2 L641.0,109.4 L642.0,111.7 L643.0,114.1 L644.0,116.6 L645.0,119.2 L646.0,121.8 L647.0,124.5 L648.0,127.2 L649.0,129.8 L650.0,132.4 L651.0,134.9 L652.0,137.3 L653.0,139.6 L654.0,141.8 L655.0,143.8 L656.0,145.6 L657.0,147.2 L658.0,148.6 L659.0,149.7 L660.0,150.5 L661.0,151.0 L662.0,151.2 L663.0,151.0 L664.0,150.7 L665.0,150.2 L666.0,149.4 L667.0,148.4 L668.0,147.3 L669.0,145.9 L670.0,144.4 L671.0,142.7 L672.0,140.8 L673.0,138.7 L674.0,136.4 L675.0,134.0 L676.0,131.5 L677.0,128.8 L678.0,125.9 L679.0,122.9 L680.0,119.8 L681.0,116.5 L682.0,113.2 L683.0,109.7 L684.0,106.0" fill="none" stroke="#f6b93b" stroke-width="2.6" stroke-linejoin="round" stroke-linecap="round"/>
<path d="M67.0,121.4 L68.0,122.2 L69.0,123.0 L70.0,123.8 L71.0,124.5 L72.0,125.1 L73.0,125.6 L74.0,126.1 L75.0,126.4 L76.0,126.7 L77.0,126.9 L78.0,127.2 L79.0,127.4 L80.0,127.6 L81.0,127.8 L82.0,128.0 L83.0,128.2 L84.0,128.3 L85.0,128.4 L86.0,128.6 L87.0,128.7 L88.0,128.7 L89.0,128.8 L90.0,128.8 L91.0,128.8 L92.0,128.4 L93.0,127.7 L94.0,126.7 L95.0,125.6 L96.0,124.4 L97.0,123.1 L98.0,121.9 L99.0,120.7 L100.0,119.7 L101.0,119.0 L102.0,118.5 L103.0,118.4 L104.0,118.4 L105.0,118.5 L106.0,118.6 L107.0,118.8 L108.0,119.0 L109.0,119.3 L110.0,119.6 L111.0,119.8 L112.0,120.1 L113.0,120.4 L114.0,120.7 L115.0,121.2 L116.0,121.7 L117.0,122.2 L118.0,122.9 L119.0,123.6 L120.0,124.3 L121.0,125.1 L122.0,125.9 L123.0,126.8 L124.0,127.6 L125.0,128.5 L126.0,129.3 L127.0,130.2 L128.0,131.0 L129.0,131.8 L130.0,132.5 L131.0,133.2 L132.0,133.9 L133.0,134.4 L134.0,134.9 L135.0,135.3 L136.0,135.6 L137.0,135.9 L138.0,136.0 L139.0,135.9 L140.0,135.7 L141.0,135.2 L142.0,134.6 L143.0,133.8 L144.0,132.8 L145.0,131.7 L146.0,130.5 L147.0,129.2 L148.0,127.8 L149.0,126.4 L150.0,124.9 L151.0,123.4 L152.0,121.9 L153.0,120.4 L154.0,118.9 L155.0,117.5 L156.0,116.2 L157.0,115.0 L158.0,113.8 L159.0,112.8 L160.0,112.0 L161.0,111.3 L162.0,110.8 L163.0,110.4 L164.0,110.4 L165.0,110.5 L166.0,111.0 L167.0,111.7 L168.0,112.7 L169.0,113.8 L170.0,115.1 L171.0,116.7 L172.0,118.3 L173.0,120.1 L174.0,121.9 L175.0,123.8 L176.0,125.8 L177.0,127.8 L178.0,129.8 L179.0,131.7 L180.0,133.6 L181.0,135.5 L182.0,137.2 L183.0,138.9 L184.0,140.3 L185.0,141.7 L186.0,142.8 L187.0,143.7 L188.0,144.4 L189.0,144.9 L190.0,145.0 L191.0,144.9 L192.0,144.4 L193.0,143.7 L194.0,142.8 L195.0,141.6 L196.0,140.3 L197.0,138.7 L198.0,137.0 L199.0,135.1 L200.0,133.1 L201.0,131.0 L202.0,128.8 L203.0,126.5 L204.0,124.2 L205.0,121.8 L206.0,119.4 L207.0,117.0 L208.0,114.6 L209.0,112.3 L210.0,110.0 L211.0,107.8 L212.0,105.6 L213.0,103.6 L214.0,101.8 L215.0,100.0 L216.0,98.5 L217.0,97.1 L218.0,96.0 L219.0,95.0 L220.0,94.3 L221.0,93.9 L222.0,93.8 L223.0,94.0 L224.0,94.6 L225.0,95.5 L226.0,96.9 L227.0,98.5 L228.0,100.4 L229.0,102.7 L230.0,105.1 L231.0,107.8 L232.0,110.7 L233.0,113.7 L234.0,116.9 L235.0,120.3 L236.0,123.7 L237.0,127.2 L238.0,130.7 L239.0,134.3 L240.0,137.9 L241.0,141.4 L242.0,144.9 L243.0,148.3 L244.0,151.6 L245.0,154.8 L246.0,157.9 L247.0,160.7 L248.0,163.4 L249.0,165.8 L250.0,168.0 L251.0,169.9 L252.0,171.6 L253.0,172.8 L254.0,173.8 L255.0,174.4 L256.0,174.5 L257.0,174.0 L258.0,172.6 L259.0,170.5 L260.0,167.6 L261.0,164.2 L262.0,160.1 L263.0,155.6 L264.0,150.6 L265.0,145.2 L266.0,139.6 L267.0,133.7 L268.0,127.7 L269.0,121.5 L270.0,115.4 L271.0,109.2 L272.0,103.2 L273.0,97.3 L274.0,91.7 L275.0,86.4 L276.0,81.5 L277.0,77.0 L278.0,73.0 L279.0,69.6 L280.0,66.8 L281.0,64.7 L282.0,63.4 L283.0,63.0 L284.0,63.5 L285.0,64.9 L286.0,67.1 L287.0,70.1 L288.0,73.8 L289.0,78.2 L290.0,83.1 L291.0,88.6 L292.0,94.5 L293.0,100.7 L294.0,107.3 L295.0,114.1 L296.0,121.1 L297.0,128.1 L298.0,135.2 L299.0,142.3 L300.0,149.3 L301.0,156.1 L302.0,162.6 L303.0,168.9 L304.0,174.8 L305.0,180.2 L306.0,185.1 L307.0,189.5 L308.0,193.2 L309.0,196.2 L310.0,198.5 L311.0,199.9 L312.0,200.4 L313.0,199.8 L314.0,198.1 L315.0,195.4 L316.0,191.7 L317.0,187.2 L318.0,182.0 L319.0,176.0 L320.0,169.5 L321.0,162.4 L322.0,155.0 L323.0,147.1 L324.0,139.1 L325.0,130.9 L326.0,122.5 L327.0,114.2 L328.0,106.0 L329.0,98.0 L330.0,90.2 L331.0,82.8 L332.0,75.8 L333.0,69.3 L334.0,63.4 L335.0,58.2 L336.0,53.8 L337.0,50.2 L338.0,47.6 L339.0,46.0 L340.0,45.6 L341.0,46.2 L342.0,47.8 L343.0,50.2 L344.0,53.5 L345.0,57.6 L346.0,62.3 L347.0,67.6 L348.0,73.5 L349.0,79.9 L350.0,86.7 L351.0,93.8 L352.0,101.2 L353.0,108.8 L354.0,116.6 L355.0,124.4 L356.0,132.2 L357.0,139.9 L358.0,147.5 L359.0,154.9 L360.0,162.0 L361.0,168.7 L362.0,175.1 L363.0,180.9 L364.0,186.2 L365.0,190.9 L366.0,194.8 L367.0,198.0 L368.0,200.4 L369.0,201.9 L370.0,202.4 L371.0,202.0 L372.0,200.8 L373.0,198.8 L374.0,196.2 L375.0,192.9 L376.0,189.0 L377.0,184.6 L378.0,179.8 L379.0,174.5 L380.0,168.8 L381.0,162.8 L382.0,156.5 L383.0,150.1 L384.0,143.4 L385.0,136.7 L386.0,129.9 L387.0,123.1 L388.0,116.4 L389.0,109.8 L390.0,103.3 L391.0,97.1 L392.0,91.1 L393.0,85.4 L394.0,80.1 L395.0,75.2 L396.0,70.8 L397.0,67.0 L398.0,63.7 L399.0,61.0 L400.0,59.1 L401.0,57.9 L402.0,57.5 L403.0,57.9 L404.0,59.3 L405.0,61.5 L406.0,64.4 L407.0,68.0 L408.0,72.3 L409.0,77.1 L410.0,82.4 L411.0,88.1 L412.0,94.1 L413.0,100.5 L414.0,107.0 L415.0,113.7 L416.0,120.5 L417.0,127.4 L418.0,134.1 L419.0,140.8 L420.0,147.2 L421.0,153.4 L422.0,159.3 L423.0,164.8 L424.0,169.9 L425.0,174.4 L426.0,178.4 L427.0,181.6 L428.0,184.2 L429.0,186.0 L430.0,186.9 L431.0,186.9 L432.0,185.7 L433.0,183.6 L434.0,180.5 L435.0,176.5 L436.0,171.9 L437.0,166.5 L438.0,160.6 L439.0,154.3 L440.0,147.6 L441.0,140.7 L442.0,133.6 L443.0,126.5 L444.0,119.3 L445.0,112.4 L446.0,105.6 L447.0,99.2 L448.0,93.3 L449.0,87.8 L450.0,83.0 L451.0,78.9 L452.0,75.6 L453.0,73.2 L454.0,71.9 L455.0,71.6 L456.0,72.0 L457.0,73.0 L458.0,74.3 L459.0,76.1 L460.0,78.3 L461.0,80.8 L462.0,83.7 L463.0,86.9 L464.0,90.3 L465.0,94.0 L466.0,97.9 L467.0,101.9 L468.0,106.1 L469.0,110.4 L470.0,114.7 L471.0,119.1 L472.0,123.5 L473.0,127.9 L474.0,132.2 L475.0,136.4 L476.0,140.5 L477.0,144.4 L478.0,148.2 L479.0,151.7 L480.0,155.0 L481.0,158.0 L482.0,160.7 L483.0,163.0 L484.0,165.0 L485.0,166.5 L486.0,167.6 L487.0,168.2 L488.0,168.3 L489.0,167.8 L490.0,166.6 L491.0,164.7 L492.0,162.4 L493.0,159.5 L494.0,156.3 L495.0,152.6 L496.0,148.6 L497.0,144.4 L498.0,139.9 L499.0,135.3 L500.0,130.6 L501.0,125.8 L502.0,121.1 L503.0,116.4 L504.0,111.8 L505.0,107.4 L506.0,103.2 L507.0,99.4 L508.0,95.8 L509.0,92.6 L510.0,89.9 L511.0,87.7 L512.0,86.1 L513.0,85.1 L514.0,84.7 L515.0,85.0 L516.0,85.7 L517.0,86.8 L518.0,88.4 L519.0,90.3 L520.0,92.5 L521.0,95.1 L522.0,97.9 L523.0,101.0 L524.0,104.3 L525.0,107.7 L526.0,111.3 L527.0,115.0 L528.0,118.7 L529.0,122.5 L530.0,126.4 L531.0,130.1 L532.0,133.9 L533.0,137.5 L534.0,141.1 L535.0,144.4 L536.0,147.6 L537.0,150.6 L538.0,153.3 L539.0,155.8 L540.0,157.9 L541.0,159.6 L542.0,161.0 L543.0,162.0 L544.0,162.5 L545.0,162.6 L546.0,162.0 L547.0,160.7 L548.0,158.9 L549.0,156.6 L550.0,153.9 L551.0,150.8 L552.0,147.4 L553.0,143.7 L554.0,139.8 L555.0,135.8 L556.0,131.8 L557.0,127.7 L558.0,123.7 L559.0,119.8 L560.0,116.1 L561.0,112.7 L562.0,109.5 L563.0,106.8 L564.0,104.4 L565.0,102.6 L566.0,101.3 L567.0,100.6 L568.0,100.6 L569.0,101.0 L570.0,101.8 L571.0,102.9 L572.0,104.4 L573.0,106.2 L574.0,108.2 L575.0,110.5 L576.0,112.9 L577.0,115.5 L578.0,118.2 L579.0,121.0 L580.0,123.9 L581.0,126.9 L582.0,129.8 L583.0,132.7 L584.0,135.5 L585.0,138.2 L586.0,140.8 L587.0,143.3 L588.0,145.5 L589.0,147.5 L590.0,149.3 L591.0,150.8 L592.0,151.9 L593.0,152.7 L594.0,153.1 L595.0,153.2 L596.0,152.8 L597.0,152.2 L598.0,151.3 L599.0,150.1 L600.0,148.7 L601.0,147.0 L602.0,145.2 L603.0,143.2 L604.0,141.0 L605.0,138.7 L606.0,136.4 L607.0,133.9 L608.0,131.4 L609.0,128.9 L610.0,126.3 L611.0,123.8 L612.0,121.3 L613.0,118.9 L614.0,116.5 L615.0,114.3 L616.0,112.2 L617.0,110.2 L618.0,108.4 L619.0,106.9 L620.0,105.5 L621.0,104.4 L622.0,103.6 L623.0,103.0 L624.0,102.8 L625.0,102.9 L626.0,103.3 L627.0,104.0 L628.0,105.0 L629.0,106.2 L630.0,107.6 L631.0,109.3 L632.0,111.1 L633.0,113.1 L634.0,115.3 L635.0,117.5 L636.0,119.8 L637.0,122.2 L638.0,124.7 L639.0,127.1 L640.0,129.6 L641.0,132.1 L642.0,134.5 L643.0,136.8 L644.0,139.1 L645.0,141.2 L646.0,143.2 L647.0,145.1 L648.0,146.7 L649.0,148.2 L650.0,149.5 L651.0,150.5 L652.0,151.2 L653.0,151.6 L654.0,151.8 L655.0,151.5 L656.0,150.9 L657.0,150.0 L658.0,148.7 L659.0,147.2 L660.0,145.4 L661.0,143.5 L662.0,141.3 L663.0,139.0 L664.0,136.5 L665.0,134.0 L666.0,131.4 L667.0,128.8 L668.0,126.2 L669.0,123.6 L670.0,121.0 L671.0,118.6 L672.0,116.3 L673.0,114.2 L674.0,112.2 L675.0,110.4 L676.0,108.9 L677.0,107.7 L678.0,106.8 L679.0,106.2 L680.0,106.0 L681.0,106.2 L682.0,106.7 L683.0,107.3 L684.0,108.1" fill="none" stroke="#c2b8e2" stroke-width="2.6" stroke-linejoin="round" stroke-linecap="round"/>
<path d="M67.0,134.8 L68.0,135.0 L69.0,135.3 L70.0,135.5 L71.0,135.6 L72.0,135.7 L73.0,135.8 L74.0,135.9 L75.0,135.9 L76.0,136.0 L77.0,136.0 L78.0,136.0 L79.0,136.0 L80.0,135.8 L81.0,135.3 L82.0,134.5 L83.0,133.4 L84.0,132.2 L85.0,130.8 L86.0,129.3 L87.0,127.8 L88.0,126.3 L89.0,124.9 L90.0,123.7 L91.0,122.6 L92.0,121.8 L93.0,121.2 L94.0,121.0 L95.0,121.0 L96.0,121.1 L97.0,121.2 L98.0,121.4 L99.0,121.6 L100.0,121.7 L101.0,121.9 L102.0,122.1 L103.0,122.2 L104.0,122.3 L105.0,122.4 L106.0,122.5 L107.0,122.4 L108.0,122.3 L109.0,122.2 L110.0,122.0 L111.0,121.9 L112.0,121.7 L113.0,121.6 L114.0,121.5 L115.0,121.4 L116.0,121.5 L117.0,121.8 L118.0,122.2 L119.0,122.7 L120.0,123.3 L121.0,124.1 L122.0,124.9 L123.0,125.7 L124.0,126.6 L125.0,127.5 L126.0,128.4 L127.0,129.2 L128.0,130.0 L129.0,130.8 L130.0,131.4 L131.0,132.0 L132.0,132.5 L133.0,132.8 L134.0,132.9 L135.0,132.8 L136.0,132.5 L137.0,131.8 L138.0,131.0 L139.0,129.9 L140.0,128.7 L141.0,127.3 L142.0,125.9 L143.0,124.4 L144.0,122.9 L145.0,121.4 L146.0,120.0 L147.0,118.7 L148.0,117.5 L149.0,116.4 L150.0,115.5 L151.0,114.9 L152.0,114.5 L153.0,114.5 L154.0,114.5 L155.0,114.5 L156.0,114.5 L157.0,114.5 L158.0,114.5 L159.0,114.5 L160.0,114.5 L161.0,114.5 L162.0,114.5 L163.0,114.5 L164.0,114.6 L165.0,115.1 L166.0,115.7 L167.0,116.6 L168.0,117.7 L169.0,119.0 L170.0,120.4 L171.0,121.9 L172.0,123.6 L173.0,125.3 L174.0,127.1 L175.0,129.0 L176.0,130.8 L177.0,132.7 L178.0,134.6 L179.0,136.4 L180.0,138.1 L181.0,139.7 L182.0,141.3 L183.0,142.7 L184.0,143.9 L185.0,145.0 L186.0,145.9 L187.0,146.5 L188.0,146.9 L189.0,147.1 L190.0,146.9 L191.0,146.5 L192.0,145.9 L193.0,145.0 L194.0,144.0 L195.0,142.7 L196.0,141.2 L197.0,139.6 L198.0,137.9 L199.0,136.0 L200.0,134.0 L201.0,131.9 L202.0,129.8 L203.0,127.6 L204.0,125.3 L205.0,123.0 L206.0,120.7 L207.0,118.4 L208.0,116.1 L209.0,113.8 L210.0,111.6 L211.0,109.5 L212.0,107.4 L213.0,105.4 L214.0,103.6 L215.0,101.9 L216.0,100.3 L217.0,98.9 L218.0,97.7 L219.0,96.7 L220.0,95.9 L221.0,95.4 L222.0,95.0 L223.0,95.0 L224.0,95.3 L225.0,96.1 L226.0,97.2 L227.0,98.7 L228.0,100.4 L229.0,102.5 L230.0,104.9 L231.0,107.4 L232.0,110.2 L233.0,113.2 L234.0,116.3 L235.0,119.6 L236.0,122.9 L237.0,126.4 L238.0,129.8 L239.0,133.3 L240.0,136.8 L241.0,140.3 L242.0,143.7 L243.0,147.0 L244.0,150.2 L245.0,153.2 L246.0,156.1 L247.0,158.7 L248.0,161.2 L249.0,163.3 L250.0,165.2 L251.0,166.8 L252.0,168.1 L253.0,169.0 L254.0,169.5 L255.0,169.6 L256.0,168.9 L257.0,167.4 L258.0,165.2 L259.0,162.4 L260.0,159.0 L261.0,155.0 L262.0,150.6 L263.0,145.8 L264.0,140.8 L265.0,135.4 L266.0,129.9 L267.0,124.3 L268.0,118.7 L269.0,113.1 L270.0,107.6 L271.0,102.2 L272.0,97.1 L273.0,92.3 L274.0,87.9 L275.0,83.9 L276.0,80.4 L277.0,77.5 L278.0,75.2 L279.0,73.7 L280.0,72.9 L281.0,73.0 L282.0,73.8 L283.0,75.3 L284.0,77.4 L285.0,80.1 L286.0,83.3 L287.0,87.0 L288.0,91.1 L289.0,95.6 L290.0,100.3 L291.0,105.4 L292.0,110.7 L293.0,116.1 L294.0,121.6 L295.0,127.2 L296.0,132.7 L297.0,138.3 L298.0,143.7 L299.0,148.9 L300.0,154.0 L301.0,158.8 L302.0,163.2 L303.0,167.3 L304.0,171.0 L305.0,174.3 L306.0,176.9 L307.0,179.1 L308.0,180.5 L309.0,181.4 L310.0,181.4 L311.0,180.7 L312.0,179.3 L313.0,177.3 L314.0,174.6 L315.0,171.3 L316.0,167.6 L317.0,163.3 L318.0,158.7 L319.0,153.7 L320.0,148.4 L321.0,142.9 L322.0,137.2 L323.0,131.3 L324.0,125.3 L325.0,119.3 L326.0,113.3 L327.0,107.3 L328.0,101.5 L329.0,95.8 L330.0,90.3 L331.0,85.1 L332.0,80.2 L333.0,75.7 L334.0,71.6 L335.0,68.0 L336.0,65.0 L337.0,62.4 L338.0,60.6 L339.0,59.4 L340.0,58.9 L341.0,59.2 L342.0,60.3 L343.0,62.2 L344.0,64.7 L345.0,67.9 L346.0,71.6 L347.0,75.8 L348.0,80.4 L349.0,85.5 L350.0,90.9 L351.0,96.6 L352.0,102.6 L353.0,108.7 L354.0,114.9 L355.0,121.2 L356.0,127.5 L357.0,133.8 L358.0,139.9 L359.0,145.9 L360.0,151.7 L361.0,157.3 L362.0,162.5 L363.0,167.3 L364.0,171.7 L365.0,175.6 L366.0,179.0 L367.0,181.8 L368.0,183.9 L369.0,185.3 L370.0,186.0 L371.0,185.8 L372.0,185.0 L373.0,183.6 L374.0,181.7 L375.0,179.1 L376.0,176.1 L377.0,172.7 L378.0,168.9 L379.0,164.7 L380.0,160.2 L381.0,155.4 L382.0,150.4 L383.0,145.3 L384.0,140.0 L385.0,134.6 L386.0,129.1 L387.0,123.7 L388.0,118.2 L389.0,112.9 L390.0,107.7 L391.0,102.6 L392.0,97.8 L393.0,93.2 L394.0,88.9 L395.0,85.0 L396.0,81.4 L397.0,78.3 L398.0,75.6 L399.0,73.5 L400.0,71.9 L401.0,70.9 L402.0,70.6 L403.0,71.0 L404.0,72.1 L405.0,74.0 L406.0,76.5 L407.0,79.5 L408.0,83.1 L409.0,87.1 L410.0,91.6 L411.0,96.4 L412.0,101.5 L413.0,106.8 L414.0,112.3 L415.0,117.9 L416.0,123.6 L417.0,129.3 L418.0,134.9 L419.0,140.4 L420.0,145.8 L421.0,150.9 L422.0,155.7 L423.0,160.2 L424.0,164.3 L425.0,167.9 L426.0,171.0 L427.0,173.6 L428.0,175.5 L429.0,176.7 L430.0,177.2 L431.0,176.8 L432.0,175.5 L433.0,173.5 L434.0,170.7 L435.0,167.2 L436.0,163.2 L437.0,158.6 L438.0,153.7 L439.0,148.4 L440.0,142.8 L441.0,137.0 L442.0,131.2 L443.0,125.3 L444.0,119.4 L445.0,113.7 L446.0,108.2 L447.0,102.9 L448.0,98.0 L449.0,93.6 L450.0,89.7 L451.0,86.3 L452.0,83.7 L453.0,81.7 L454.0,80.7 L455.0,80.4 L456.0,80.9 L457.0,81.8 L458.0,83.1 L459.0,84.9 L460.0,87.1 L461.0,89.6 L462.0,92.4 L463.0,95.5 L464.0,98.8 L465.0,102.4 L466.0,106.1 L467.0,109.9 L468.0,113.8 L469.0,117.8 L470.0,121.8 L471.0,125.8 L472.0,129.7 L473.0,133.5 L474.0,137.2 L475.0,140.8 L476.0,144.1 L477.0,147.3 L478.0,150.1 L479.0,152.7 L480.0,154.9 L481.0,156.7 L482.0,158.1 L483.0,159.0 L484.0,159.5 L485.0,159.5 L486.0,159.0 L487.0,158.2 L488.0,157.1 L489.0,155.6 L490.0,153.8 L491.0,151.8 L492.0,149.6 L493.0,147.1 L494.0,144.5 L495.0,141.8 L496.0,138.9 L497.0,135.9 L498.0,132.9 L499.0,129.9 L500.0,126.8 L501.0,123.8 L502.0,120.9 L503.0,118.0 L504.0,115.3 L505.0,112.7 L506.0,110.3 L507.0,108.0 L508.0,106.0 L509.0,104.3 L510.0,102.9 L511.0,101.7 L512.0,101.0 L513.0,100.6 L514.0,100.6 L515.0,100.9 L516.0,101.7 L517.0,102.7 L518.0,104.0 L519.0,105.6 L520.0,107.4 L521.0,109.4 L522.0,111.6 L523.0,114.0 L524.0,116.4 L525.0,119.0 L526.0,121.6 L527.0,124.2 L528.0,126.8 L529.0,129.4 L530.0,132.0 L531.0,134.4 L532.0,136.7 L533.0,138.9 L534.0,141.0 L535.0,142.8 L536.0,144.4 L537.0,145.7 L538.0,146.7 L539.0,147.4 L540.0,147.8 L541.0,147.8 L542.0,147.5 L543.0,147.0 L544.0,146.2 L545.0,145.2 L546.0,144.0 L547.0,142.6 L548.0,141.1 L549.0,139.4 L550.0,137.7 L551.0,135.8 L552.0,133.9 L553.0,132.0 L554.0,130.1 L555.0,128.2 L556.0,126.4 L557.0,124.6 L558.0,122.9 L559.0,121.3 L560.0,119.8 L561.0,118.5 L562.0,117.4 L563.0,116.5 L564.0,115.8 L565.0,115.4 L566.0,115.1 L567.0,114.8 L568.0,114.5 L569.0,114.3 L570.0,114.3 L571.0,114.4 L572.0,114.7 L573.0,115.4 L574.0,116.3 L575.0,117.5 L576.0,118.8 L577.0,120.4 L578.0,122.0 L579.0,123.8 L580.0,125.7 L581.0,127.7 L582.0,129.7 L583.0,131.8 L584.0,133.8 L585.0,135.8 L586.0,137.8 L587.0,139.7 L588.0,141.5 L589.0,143.1 L590.0,144.7 L591.0,146.0 L592.0,147.1 L593.0,148.0 L594.0,148.7 L595.0,149.0 L596.0,149.1 L597.0,148.8 L598.0,148.1 L599.0,147.0 L600.0,145.7 L601.0,144.1 L602.0,142.2 L603.0,140.2 L604.0,138.0 L605.0,135.6 L606.0,133.1 L607.0,130.6 L608.0,128.1 L609.0,125.5 L610.0,123.0 L611.0,120.5 L612.0,118.2 L613.0,116.0 L614.0,114.0 L615.0,112.1 L616.0,110.5 L617.0,109.2 L618.0,108.2 L619.0,107.6 L620.0,107.3 L621.0,107.3 L622.0,107.6 L623.0,108.0 L624.0,108.6 L625.0,109.3 L626.0,110.1 L627.0,111.1 L628.0,112.2 L629.0,113.4 L630.0,114.6 L631.0,116.0 L632.0,117.4 L633.0,118.9 L634.0,120.4 L635.0,121.9 L636.0,123.5 L637.0,125.0 L638.0,126.6 L639.0,128.1 L640.0,129.6 L641.0,131.1 L642.0,132.5 L643.0,133.8 L644.0,135.1 L645.0,136.2 L646.0,137.3 L647.0,138.2 L648.0,139.1 L649.0,139.7 L650.0,140.3 L651.0,140.7 L652.0,140.9 L653.0,140.9 L654.0,140.5 L655.0,139.8 L656.0,138.7 L657.0,137.4 L658.0,135.8 L659.0,134.0 L660.0,132.0 L661.0,129.8 L662.0,127.6 L663.0,125.2 L664.0,122.9 L665.0,120.5 L666.0,118.2 L667.0,115.9 L668.0,113.7 L669.0,111.7 L670.0,109.9 L671.0,108.3 L672.0,106.9 L673.0,105.8 L674.0,105.1 L675.0,104.7 L676.0,104.6 L677.0,104.8 L678.0,105.1 L679.0,105.6 L680.0,106.2 L681.0,107.0 L682.0,107.9 L683.0,109.0 L684.0,110.2" fill="none" stroke="#6868f2" stroke-width="2.6" stroke-linejoin="round" stroke-linecap="round"/>
<path d="M67.0,134.1 L68.0,134.0 L69.0,133.8 L70.0,133.5 L71.0,133.3 L72.0,133.0 L73.0,132.7 L74.0,132.4 L75.0,132.0 L76.0,131.7 L77.0,131.3 L78.0,130.8 L79.0,130.2 L80.0,129.5 L81.0,128.7 L82.0,127.9 L83.0,127.0 L84.0,126.2 L85.0,125.3 L86.0,124.5 L87.0,123.7 L88.0,123.0 L89.0,122.3 L90.0,121.8 L91.0,121.4 L92.0,121.1 L93.0,121.0 L94.0,121.1 L95.0,121.4 L96.0,121.8 L97.0,122.3 L98.0,122.8 L99.0,123.3 L100.0,123.8 L101.0,124.2 L102.0,124.4 L103.0,124.5 L104.0,124.4 L105.0,124.2 L106.0,123.9 L107.0,123.6 L108.0,123.3 L109.0,123.0 L110.0,122.7 L111.0,122.5 L112.0,122.5 L113.0,122.5 L114.0,122.7 L115.0,123.0 L116.0,123.4 L117.0,123.9 L118.0,124.5 L119.0,125.1 L120.0,125.8 L121.0,126.6 L122.0,127.3 L123.0,128.1 L124.0,128.8 L125.0,129.6 L126.0,130.3 L127.0,131.0 L128.0,131.7 L129.0,132.3 L130.0,132.8 L131.0,133.3 L132.0,133.6 L133.0,133.8 L134.0,133.9 L135.0,133.9 L136.0,133.7 L137.0,133.3 L138.0,132.7 L139.0,132.1 L140.0,131.3 L141.0,130.4 L142.0,129.5 L143.0,128.5 L144.0,127.5 L145.0,126.4 L146.0,125.4 L147.0,124.4 L148.0,123.4 L149.0,122.5 L150.0,121.7 L151.0,120.9 L152.0,120.3 L153.0,119.8 L154.0,119.5 L155.0,119.2 L156.0,118.9 L157.0,118.6 L158.0,118.4 L159.0,118.1 L160.0,117.9 L161.0,117.8 L162.0,117.6 L163.0,117.6 L164.0,117.5 L165.0,117.7 L166.0,118.0 L167.0,118.6 L168.0,119.3 L169.0,120.2 L170.0,121.3 L171.0,122.4 L172.0,123.7 L173.0,125.0 L174.0,126.4 L175.0,127.8 L176.0,129.3 L177.0,130.7 L178.0,132.2 L179.0,133.6 L180.0,134.9 L181.0,136.1 L182.0,137.3 L183.0,138.3 L184.0,139.2 L185.0,139.9 L186.0,140.4 L187.0,140.8 L188.0,140.9 L189.0,140.8 L190.0,140.3 L191.0,139.6 L192.0,138.7 L193.0,137.6 L194.0,136.3 L195.0,134.8 L196.0,133.2 L197.0,131.4 L198.0,129.6 L199.0,127.6 L200.0,125.7 L201.0,123.7 L202.0,121.7 L203.0,119.7 L204.0,117.7 L205.0,115.8 L206.0,114.0 L207.0,112.3 L208.0,110.7 L209.0,109.3 L210.0,108.1 L211.0,107.0 L212.0,106.2 L213.0,105.6 L214.0,105.3 L215.0,105.3 L216.0,105.5 L217.0,105.9 L218.0,106.3 L219.0,106.5 L220.0,106.3 L221.0,105.8 L222.0,105.2 L223.0,104.5 L224.0,104.0 L225.0,103.6 L226.0,103.6 L227.0,104.1 L228.0,105.0 L229.0,106.2 L230.0,107.8 L231.0,109.6 L232.0,111.7 L233.0,114.1 L234.0,116.6 L235.0,119.2 L236.0,122.0 L237.0,124.8 L238.0,127.6 L239.0,130.4 L240.0,133.2 L241.0,135.9 L242.0,138.4 L243.0,140.7 L244.0,142.9 L245.0,144.8 L246.0,146.4 L247.0,147.6 L248.0,148.5 L249.0,149.0 L250.0,149.1 L251.0,148.7 L252.0,148.0 L253.0,146.9 L254.0,145.5 L255.0,143.8 L256.0,141.8 L257.0,139.6 L258.0,137.1 L259.0,134.5 L260.0,131.7 L261.0,128.8 L262.0,125.8 L263.0,122.7 L264.0,119.5 L265.0,116.3 L266.0,113.1 L267.0,109.9 L268.0,106.8 L269.0,103.8 L270.0,100.9 L271.0,98.1 L272.0,95.5 L273.0,93.0 L274.0,90.8 L275.0,88.8 L276.0,87.1 L277.0,85.7 L278.0,84.6 L279.0,83.9 L280.0,83.5 L281.0,83.6 L282.0,84.1 L283.0,85.0 L284.0,86.2 L285.0,87.9 L286.0,89.8 L287.0,92.1 L288.0,94.6 L289.0,97.4 L290.0,100.4 L291.0,103.5 L292.0,106.8 L293.0,110.3 L294.0,113.9 L295.0,117.5 L296.0,121.1 L297.0,124.8 L298.0,128.5 L299.0,132.1 L300.0,135.7 L301.0,139.1 L302.0,142.5 L303.0,145.7 L304.0,148.7 L305.0,151.5 L306.0,154.0 L307.0,156.3 L308.0,158.3 L309.0,160.0 L310.0,161.3 L311.0,162.2 L312.0,162.7 L313.0,162.8 L314.0,162.3 L315.0,161.4 L316.0,159.9 L317.0,157.9 L318.0,155.5 L319.0,152.8 L320.0,149.7 L321.0,146.4 L322.0,142.7 L323.0,138.9 L324.0,134.9 L325.0,130.8 L326.0,126.6 L327.0,122.4 L328.0,118.1 L329.0,113.9 L330.0,109.8 L331.0,105.8 L332.0,101.9 L333.0,98.3 L334.0,94.9 L335.0,91.8 L336.0,89.0 L337.0,86.6 L338.0,84.6 L339.0,83.1 L340.0,82.0 L341.0,81.5 L342.0,81.6 L343.0,82.6 L344.0,84.3 L345.0,86.8 L346.0,89.9 L347.0,93.6 L348.0,97.8 L349.0,102.3 L350.0,107.2 L351.0,112.4 L352.0,117.7 L353.0,123.1 L354.0,128.6 L355.0,134.0 L356.0,139.2 L357.0,144.3 L358.0,149.0 L359.0,153.4 L360.0,157.3 L361.0,160.7 L362.0,163.5 L363.0,165.6 L364.0,167.0 L365.0,167.5 L366.0,167.4 L367.0,166.7 L368.0,165.6 L369.0,164.1 L370.0,162.2 L371.0,160.0 L372.0,157.5 L373.0,154.7 L374.0,151.6 L375.0,148.3 L376.0,144.9 L377.0,141.3 L378.0,137.6 L379.0,133.7 L380.0,129.9 L381.0,126.0 L382.0,122.1 L383.0,118.2 L384.0,114.5 L385.0,110.8 L386.0,107.2 L387.0,103.8 L388.0,100.7 L389.0,97.7 L390.0,95.0 L391.0,92.6 L392.0,90.5 L393.0,88.8 L394.0,87.4 L395.0,86.5 L396.0,86.0 L397.0,86.0 L398.0,86.6 L399.0,87.7 L400.0,89.3 L401.0,91.3 L402.0,93.8 L403.0,96.6 L404.0,99.7 L405.0,103.1 L406.0,106.7 L407.0,110.6 L408.0,114.6 L409.0,118.7 L410.0,122.9 L411.0,127.1 L412.0,131.3 L413.0,135.5 L414.0,139.5 L415.0,143.4 L416.0,147.2 L417.0,150.7 L418.0,154.0 L419.0,157.0 L420.0,159.6 L421.0,161.8 L422.0,163.6 L423.0,165.0 L424.0,165.8 L425.0,166.1 L426.0,165.9 L427.0,165.2 L428.0,164.1 L429.0,162.6 L430.0,160.8 L431.0,158.7 L432.0,156.2 L433.0,153.6 L434.0,150.7 L435.0,147.6 L436.0,144.3 L437.0,141.0 L438.0,137.5 L439.0,134.0 L440.0,130.4 L441.0,126.9 L442.0,123.4 L443.0,119.9 L444.0,116.6 L445.0,113.4 L446.0,110.4 L447.0,107.5 L448.0,104.9 L449.0,102.6 L450.0,100.5 L451.0,98.8 L452.0,97.4 L453.0,96.5 L454.0,95.9 L455.0,95.8 L456.0,96.0 L457.0,96.5 L458.0,97.2 L459.0,98.1 L460.0,99.2 L461.0,100.6 L462.0,102.0 L463.0,103.7 L464.0,105.5 L465.0,107.4 L466.0,109.4 L467.0,111.6 L468.0,113.8 L469.0,116.1 L470.0,118.4 L471.0,120.8 L472.0,123.2 L473.0,125.6 L474.0,127.9 L475.0,130.3 L476.0,132.6 L477.0,134.9 L478.0,137.1 L479.0,139.1 L480.0,141.1 L481.0,143.0 L482.0,144.8 L483.0,146.3 L484.0,147.8 L485.0,149.0 L486.0,150.1 L487.0,150.9 L488.0,151.5 L489.0,151.9 L490.0,152.0 L491.0,151.7 L492.0,150.9 L493.0,149.8 L494.0,148.2 L495.0,146.4 L496.0,144.3 L497.0,141.9 L498.0,139.4 L499.0,136.7 L500.0,133.9 L501.0,131.1 L502.0,128.3 L503.0,125.5 L504.0,122.8 L505.0,120.3 L506.0,117.9 L507.0,115.7 L508.0,113.9 L509.0,112.3 L510.0,111.1 L511.0,110.3 L512.0,110.0 L513.0,110.0 L514.0,110.3 L515.0,110.7 L516.0,111.3 L517.0,112.1 L518.0,113.0 L519.0,114.1 L520.0,115.2 L521.0,116.5 L522.0,117.8 L523.0,119.2 L524.0,120.6 L525.0,122.1 L526.0,123.6 L527.0,125.1 L528.0,126.6 L529.0,128.0 L530.0,129.4 L531.0,130.8 L532.0,132.1 L533.0,133.3 L534.0,134.4 L535.0,135.4 L536.0,136.3 L537.0,137.0 L538.0,137.6 L539.0,138.0 L540.0,138.2 L541.0,138.2 L542.0,137.8 L543.0,137.1 L544.0,136.1 L545.0,134.8 L546.0,133.4 L547.0,131.7 L548.0,129.9 L549.0,128.0 L550.0,126.1 L551.0,124.2 L552.0,122.2 L553.0,120.4 L554.0,118.6 L555.0,117.0 L556.0,115.6 L557.0,114.4 L558.0,113.5 L559.0,112.9 L560.0,112.6 L561.0,112.7 L562.0,113.2 L563.0,113.7 L564.0,114.1 L565.0,114.3 L566.0,114.4 L567.0,114.5 L568.0,114.5 L569.0,114.6 L570.0,114.8 L571.0,115.3 L572.0,116.1 L573.0,117.1 L574.0,118.4 L575.0,119.8 L576.0,121.4 L577.0,123.0 L578.0,124.7 L579.0,126.3 L580.0,128.0 L581.0,129.5 L582.0,130.9 L583.0,132.2 L584.0,133.3 L585.0,134.1 L586.0,134.6 L587.0,134.8 L588.0,134.7 L589.0,134.5 L590.0,134.2 L591.0,133.8 L592.0,133.4 L593.0,132.8 L594.0,132.2 L595.0,131.5 L596.0,130.7 L597.0,129.9 L598.0,129.0 L599.0,128.1 L600.0,127.2 L601.0,126.3 L602.0,125.4 L603.0,124.4 L604.0,123.5 L605.0,122.5 L606.0,121.6 L607.0,120.8 L608.0,119.9 L609.0,119.1 L610.0,118.4 L611.0,117.7 L612.0,117.1 L613.0,116.6 L614.0,116.2 L615.0,115.8 L616.0,115.6 L617.0,115.5 L618.0,115.5 L619.0,115.7 L620.0,116.0 L621.0,116.4 L622.0,117.0 L623.0,117.7 L624.0,118.4 L625.0,119.3 L626.0,120.3 L627.0,121.3 L628.0,122.4 L629.0,123.6 L630.0,124.7 L631.0,125.9 L632.0,127.1 L633.0,128.4 L634.0,129.6 L635.0,130.8 L636.0,131.9 L637.0,133.1 L638.0,134.1 L639.0,135.2 L640.0,136.1 L641.0,136.9 L642.0,137.7 L643.0,138.4 L644.0,138.9 L645.0,139.3 L646.0,139.6 L647.0,139.7 L648.0,139.6 L649.0,139.3 L650.0,138.8 L651.0,138.1 L652.0,137.3 L653.0,136.3 L654.0,135.2 L655.0,134.0 L656.0,132.7 L657.0,131.3 L658.0,129.8 L659.0,128.4 L660.0,126.9 L661.0,125.4 L662.0,123.9 L663.0,122.4 L664.0,121.0 L665.0,119.7 L666.0,118.5 L667.0,117.4 L668.0,116.4 L669.0,115.6 L670.0,114.9 L671.0,114.4 L672.0,114.1 L673.0,114.0 L674.0,114.1 L675.0,114.2 L676.0,114.4 L677.0,114.6 L678.0,114.9 L679.0,115.3 L680.0,115.8 L681.0,116.3 L682.0,116.9 L683.0,117.6 L684.0,118.3" fill="none" stroke="#2b2bbf" stroke-width="2.6" stroke-linejoin="round" stroke-linecap="round"/>
<path d="M67.0,125.5 L68.0,125.8 L69.0,126.2 L70.0,126.6 L71.0,127.0 L72.0,127.6 L73.0,128.2 L74.0,128.9 L75.0,129.6 L76.0,130.3 L77.0,131.1 L78.0,131.8 L79.0,132.5 L80.0,133.2 L81.0,133.9 L82.0,134.5 L83.0,135.0 L84.0,135.4 L85.0,135.7 L86.0,135.9 L87.0,136.0 L88.0,135.8 L89.0,135.4 L90.0,134.7 L91.0,133.8 L92.0,132.8 L93.0,131.7 L94.0,130.7 L95.0,129.6 L96.0,128.7 L97.0,128.0 L98.0,127.4 L99.0,127.2 L100.0,127.2 L101.0,127.3 L102.0,127.5 L103.0,127.7 L104.0,127.9 L105.0,128.0 L106.0,127.9 L107.0,127.2 L108.0,126.2 L109.0,125.0 L110.0,123.6 L111.0,122.4 L112.0,121.5 L113.0,121.0 L114.0,121.2 L115.0,121.8 L116.0,122.9 L117.0,124.1 L118.0,125.5 L119.0,126.7 L120.0,127.7 L121.0,128.5 L122.0,129.3 L123.0,130.1 L124.0,130.6 L125.0,130.9 L126.0,130.7 L127.0,130.4 L128.0,129.8 L129.0,129.1 L130.0,128.4 L131.0,127.7 L132.0,127.0 L133.0,126.6 L134.0,126.4 L135.0,126.4 L136.0,126.4 L137.0,126.5 L138.0,126.6 L139.0,126.8 L140.0,127.0 L141.0,127.1 L142.0,127.3 L143.0,127.5 L144.0,127.7 L145.0,127.9 L146.0,128.2 L147.0,128.5 L148.0,128.7 L149.0,128.8 L150.0,128.7 L151.0,128.2 L152.0,127.1 L153.0,125.7 L154.0,124.3 L155.0,122.8 L156.0,121.6 L157.0,120.8 L158.0,120.6 L159.0,121.0 L160.0,121.7 L161.0,122.6 L162.0,123.5 L163.0,124.4 L164.0,125.1 L165.0,125.3 L166.0,125.1 L167.0,124.5 L168.0,123.8 L169.0,123.1 L170.0,122.5 L171.0,122.2 L172.0,122.4 L173.0,122.9 L174.0,123.6 L175.0,124.5 L176.0,125.5 L177.0,126.5 L178.0,127.5 L179.0,128.3 L180.0,128.9 L181.0,129.2 L182.0,129.1 L183.0,128.8 L184.0,128.3 L185.0,127.7 L186.0,126.9 L187.0,126.1 L188.0,125.2 L189.0,124.4 L190.0,123.7 L191.0,122.9 L192.0,122.0 L193.0,121.1 L194.0,120.1 L195.0,119.2 L196.0,118.3 L197.0,117.5 L198.0,116.9 L199.0,116.5 L200.0,116.3 L201.0,116.3 L202.0,116.2 L203.0,116.2 L204.0,116.2 L205.0,116.2 L206.0,116.2 L207.0,116.1 L208.0,116.1 L209.0,116.1 L210.0,116.1 L211.0,116.1 L212.0,116.1 L213.0,116.1 L214.0,116.1 L215.0,116.1 L216.0,116.3 L217.0,116.6 L218.0,116.9 L219.0,117.1 L220.0,117.3 L221.0,117.3 L222.0,117.1 L223.0,116.7 L224.0,116.4 L225.0,116.1 L226.0,115.9 L227.0,116.0 L228.0,116.6 L229.0,117.5 L230.0,118.8 L231.0,120.2 L232.0,121.9 L233.0,123.6 L234.0,125.3 L235.0,127.0 L236.0,128.5 L237.0,129.8 L238.0,130.9 L239.0,131.7 L240.0,132.6 L241.0,133.5 L242.0,134.3 L243.0,135.2 L244.0,135.9 L245.0,136.6 L246.0,137.2 L247.0,137.7 L248.0,138.0 L249.0,138.2 L250.0,138.2 L251.0,137.7 L252.0,136.7 L253.0,135.5 L254.0,134.0 L255.0,132.5 L256.0,130.9 L257.0,129.6 L258.0,128.5 L259.0,127.8 L260.0,127.3 L261.0,126.8 L262.0,126.3 L263.0,125.6 L264.0,124.4 L265.0,122.7 L266.0,120.6 L267.0,118.4 L268.0,116.1 L269.0,113.9 L270.0,111.9 L271.0,110.4 L272.0,109.3 L273.0,108.9 L274.0,109.0 L275.0,109.3 L276.0,109.7 L277.0,110.2 L278.0,110.8 L279.0,111.5 L280.0,112.3 L281.0,113.2 L282.0,114.1 L283.0,115.0 L284.0,116.0 L285.0,116.9 L286.0,117.8 L287.0,118.7 L288.0,119.5 L289.0,120.4 L290.0,121.3 L291.0,122.2 L292.0,123.1 L293.0,124.0 L294.0,124.8 L295.0,125.6 L296.0,126.3 L297.0,127.0 L298.0,127.8 L299.0,128.6 L300.0,129.4 L301.0,130.4 L302.0,131.7 L303.0,133.0 L304.0,134.4 L305.0,135.8 L306.0,137.0 L307.0,138.1 L308.0,138.9 L309.0,139.4 L310.0,139.4 L311.0,139.2 L312.0,138.6 L313.0,137.8 L314.0,136.8 L315.0,135.6 L316.0,134.2 L317.0,132.7 L318.0,131.0 L319.0,129.2 L320.0,127.4 L321.0,125.5 L322.0,123.6 L323.0,121.7 L324.0,119.8 L325.0,117.9 L326.0,116.2 L327.0,114.5 L328.0,112.9 L329.0,111.6 L330.0,110.3 L331.0,109.3 L332.0,108.5 L333.0,108.0 L334.0,107.7 L335.0,107.7 L336.0,108.1 L337.0,108.7 L338.0,109.6 L339.0,110.8 L340.0,112.2 L341.0,113.7 L342.0,115.5 L343.0,117.3 L344.0,119.3 L345.0,121.5 L346.0,123.6 L347.0,125.9 L348.0,128.1 L349.0,130.4 L350.0,132.7 L351.0,134.9 L352.0,137.0 L353.0,139.1 L354.0,141.0 L355.0,142.8 L356.0,144.4 L357.0,145.9 L358.0,147.1 L359.0,148.1 L360.0,148.9 L361.0,149.3 L362.0,149.5 L363.0,149.4 L364.0,149.2 L365.0,148.8 L366.0,148.3 L367.0,147.8 L368.0,147.1 L369.0,146.4 L370.0,145.6 L371.0,144.8 L372.0,143.6 L373.0,141.9 L374.0,139.7 L375.0,137.2 L376.0,134.4 L377.0,131.4 L378.0,128.4 L379.0,125.5 L380.0,122.6 L381.0,120.0 L382.0,117.6 L383.0,115.7 L384.0,114.2 L385.0,113.4 L386.0,113.1 L387.0,113.0 L388.0,112.8 L389.0,112.7 L390.0,112.6 L391.0,112.5 L392.0,112.4 L393.0,112.3 L394.0,112.3 L395.0,112.2 L396.0,112.2 L397.0,112.2 L398.0,112.6 L399.0,113.3 L400.0,114.2 L401.0,115.4 L402.0,116.8 L403.0,118.5 L404.0,120.2 L405.0,122.1 L406.0,124.0 L407.0,126.0 L408.0,128.1 L409.0,130.1 L410.0,132.0 L411.0,133.9 L412.0,135.7 L413.0,137.3 L414.0,138.7 L415.0,139.9 L416.0,140.9 L417.0,141.5 L418.0,141.9 L419.0,141.9 L420.0,141.7 L421.0,141.4 L422.0,140.9 L423.0,140.2 L424.0,139.4 L425.0,138.5 L426.0,137.5 L427.0,136.3 L428.0,135.1 L429.0,133.8 L430.0,132.5 L431.0,131.1 L432.0,129.6 L433.0,128.1 L434.0,126.6 L435.0,125.1 L436.0,123.6 L437.0,122.2 L438.0,120.7 L439.0,119.3 L440.0,118.0 L441.0,116.7 L442.0,115.5 L443.0,114.4 L444.0,113.4 L445.0,112.5 L446.0,111.7 L447.0,111.1 L448.0,110.6 L449.0,110.3 L450.0,110.2 L451.0,110.2 L452.0,110.4 L453.0,110.8 L454.0,111.3 L455.0,111.9 L456.0,112.7 L457.0,113.6 L458.0,114.6 L459.0,115.7 L460.0,116.9 L461.0,118.1 L462.0,119.4 L463.0,120.7 L464.0,122.1 L465.0,123.5 L466.0,125.0 L467.0,126.4 L468.0,127.8 L469.0,129.2 L470.0,130.6 L471.0,131.9 L472.0,133.2 L473.0,134.4 L474.0,135.5 L475.0,136.6 L476.0,137.5 L477.0,138.3 L478.0,139.1 L479.0,139.6 L480.0,140.1 L481.0,140.4 L482.0,140.5 L483.0,140.4 L484.0,140.1 L485.0,139.7 L486.0,139.1 L487.0,138.3 L488.0,137.3 L489.0,136.3 L490.0,135.1 L491.0,133.8 L492.0,132.5 L493.0,131.1 L494.0,129.7 L495.0,128.3 L496.0,126.8 L497.0,125.4 L498.0,123.9 L499.0,122.6 L500.0,121.3 L501.0,120.0 L502.0,118.9 L503.0,117.8 L504.0,116.9 L505.0,116.2 L506.0,115.6 L507.0,115.1 L508.0,114.9 L509.0,114.9 L510.0,115.0 L511.0,115.2 L512.0,115.5 L513.0,115.9 L514.0,116.4 L515.0,116.9 L516.0,117.5 L517.0,118.2 L518.0,118.9 L519.0,119.7 L520.0,120.5 L521.0,121.4 L522.0,122.3 L523.0,123.2 L524.0,124.1 L525.0,125.0 L526.0,125.9 L527.0,126.8 L528.0,127.6 L529.0,128.5 L530.0,129.3 L531.0,130.0 L532.0,130.7 L533.0,131.4 L534.0,132.0 L535.0,132.5 L536.0,132.9 L537.0,133.3 L538.0,133.5 L539.0,133.7 L540.0,133.7 L541.0,133.4 L542.0,132.5 L543.0,131.4 L544.0,130.0 L545.0,128.7 L546.0,127.4 L547.0,126.5 L548.0,126.0 L549.0,126.0 L550.0,126.2 L551.0,126.5 L552.0,126.8 L553.0,127.0 L554.0,126.8 L555.0,126.4 L556.0,125.8 L557.0,125.2 L558.0,124.6 L559.0,124.1 L560.0,123.9 L561.0,124.0 L562.0,124.3 L563.0,124.8 L564.0,125.5 L565.0,126.2 L566.0,127.0 L567.0,127.7 L568.0,128.3 L569.0,128.8 L570.0,129.1 L571.0,129.2 L572.0,129.2 L573.0,129.0 L574.0,128.9 L575.0,128.7 L576.0,128.5 L577.0,128.3 L578.0,128.1 L579.0,127.9 L580.0,127.8 L581.0,127.8 L582.0,127.9 L583.0,128.1 L584.0,128.6 L585.0,129.1 L586.0,129.6 L587.0,130.5 L588.0,131.7 L589.0,133.3 L590.0,134.8 L591.0,136.2 L592.0,137.2 L593.0,137.6 L594.0,137.4 L595.0,136.9 L596.0,136.0 L597.0,134.9 L598.0,133.8 L599.0,132.7 L600.0,131.4 L601.0,129.7 L602.0,127.7 L603.0,125.7 L604.0,123.9 L605.0,122.4 L606.0,121.3 L607.0,121.0 L608.0,121.1 L609.0,121.4 L610.0,121.7 L611.0,122.1 L612.0,122.7 L613.0,123.2 L614.0,123.7 L615.0,124.3 L616.0,124.8 L617.0,125.2 L618.0,125.5 L619.0,125.8 L620.0,126.1 L621.0,126.4 L622.0,126.6 L623.0,126.9 L624.0,127.1 L625.0,127.4 L626.0,127.6 L627.0,127.7 L628.0,127.9 L629.0,127.9 L630.0,128.0 L631.0,127.9 L632.0,127.5 L633.0,126.9 L634.0,126.2 L635.0,125.5 L636.0,125.0 L637.0,124.6 L638.0,124.5 L639.0,124.8 L640.0,125.4 L641.0,126.1 L642.0,127.0 L643.0,127.7 L644.0,128.3 L645.0,128.6 L646.0,128.5 L647.0,128.3 L648.0,127.9 L649.0,127.4 L650.0,126.8 L651.0,126.1 L652.0,125.5 L653.0,125.0 L654.0,124.5 L655.0,124.2 L656.0,124.1 L657.0,124.1 L658.0,124.3 L659.0,124.5 L660.0,124.8 L661.0,125.1 L662.0,125.4 L663.0,125.6 L664.0,125.8 L665.0,125.9 L666.0,125.9 L667.0,125.4 L668.0,124.8 L669.0,124.2 L670.0,123.7 L671.0,123.5 L672.0,123.5 L673.0,123.5 L674.0,123.6 L675.0,123.8 L676.0,124.0 L677.0,124.3 L678.0,124.6 L679.0,125.1 L680.0,125.6 L681.0,126.2 L682.0,126.9 L683.0,127.7 L684.0,128.6" fill="none" stroke="#000000" stroke-width="2.6" stroke-linejoin="round" stroke-linecap="round"/>
</g>
<rect x="67.45" y="1.3" width="616.05" height="246.45" fill="none" stroke="#000" stroke-width="2.7"/>
<line x1="204.1" y1="247.75" x2="204.1" y2="241.75" stroke="#000" stroke-width="2.4" />
<line x1="204.1" y1="1.3" x2="204.1" y2="7.3" stroke="#000" stroke-width="2.4" />
<line x1="341.1" y1="247.75" x2="341.1" y2="241.75" stroke="#000" stroke-width="2.4" />
<line x1="341.1" y1="1.3" x2="341.1" y2="7.3" stroke="#000" stroke-width="2.4" />
<line x1="478.1" y1="247.75" x2="478.1" y2="241.75" stroke="#000" stroke-width="2.4" />
<line x1="478.1" y1="1.3" x2="478.1" y2="7.3" stroke="#000" stroke-width="2.4" />
<line x1="615.1" y1="247.75" x2="615.1" y2="241.75" stroke="#000" stroke-width="2.4" />
<line x1="615.1" y1="1.3" x2="615.1" y2="7.3" stroke="#000" stroke-width="2.4" />
<line x1="94.5" y1="247.75" x2="94.5" y2="243.75" stroke="#000" stroke-width="2.4" />
<line x1="94.5" y1="1.3" x2="94.5" y2="5.3" stroke="#000" stroke-width="2.4" />
<line x1="121.9" y1="247.75" x2="121.9" y2="243.75" stroke="#000" stroke-width="2.4" />
<line x1="121.9" y1="1.3" x2="121.9" y2="5.3" stroke="#000" stroke-width="2.4" />
<line x1="149.3" y1="247.75" x2="149.3" y2="243.75" stroke="#000" stroke-width="2.4" />
<line x1="149.3" y1="1.3" x2="149.3" y2="5.3" stroke="#000" stroke-width="2.4" />
<line x1="176.7" y1="247.75" x2="176.7" y2="243.75" stroke="#000" stroke-width="2.4" />
<line x1="176.7" y1="1.3" x2="176.7" y2="5.3" stroke="#000" stroke-width="2.4" />
<line x1="231.5" y1="247.75" x2="231.5" y2="243.75" stroke="#000" stroke-width="2.4" />
<line x1="231.5" y1="1.3" x2="231.5" y2="5.3" stroke="#000" stroke-width="2.4" />
<line x1="258.9" y1="247.75" x2="258.9" y2="243.75" stroke="#000" stroke-width="2.4" />
<line x1="258.9" y1="1.3" x2="258.9" y2="5.3" stroke="#000" stroke-width="2.4" />
<line x1="286.3" y1="247.75" x2="286.3" y2="243.75" stroke="#000" stroke-width="2.4" />
<line x1="286.3" y1="1.3" x2="286.3" y2="5.3" stroke="#000" stroke-width="2.4" />
<line x1="313.7" y1="247.75" x2="313.7" y2="243.75" stroke="#000" stroke-width="2.4" />
<line x1="313.7" y1="1.3" x2="313.7" y2="5.3" stroke="#000" stroke-width="2.4" />
<line x1="368.5" y1="247.75" x2="368.5" y2="243.75" stroke="#000" stroke-width="2.4" />
<line x1="368.5" y1="1.3" x2="368.5" y2="5.3" stroke="#000" stroke-width="2.4" />
<line x1="395.9" y1="247.75" x2="395.9" y2="243.75" stroke="#000" stroke-width="2.4" />
<line x1="395.9" y1="1.3" x2="395.9" y2="5.3" stroke="#000" stroke-width="2.4" />
<line x1="423.3" y1="247.75" x2="423.3" y2="243.75" stroke="#000" stroke-width="2.4" />
<line x1="423.3" y1="1.3" x2="423.3" y2="5.3" stroke="#000" stroke-width="2.4" />
<line x1="450.7" y1="247.75" x2="450.7" y2="243.75" stroke="#000" stroke-width="2.4" />
<line x1="450.7" y1="1.3" x2="450.7" y2="5.3" stroke="#000" stroke-width="2.4" />
<line x1="505.5" y1="247.75" x2="505.5" y2="243.75" stroke="#000" stroke-width="2.4" />
<line x1="505.5" y1="1.3" x2="505.5" y2="5.3" stroke="#000" stroke-width="2.4" />
<line x1="532.9" y1="247.75" x2="532.9" y2="243.75" stroke="#000" stroke-width="2.4" />
<line x1="532.9" y1="1.3" x2="532.9" y2="5.3" stroke="#000" stroke-width="2.4" />
<line x1="560.3" y1="247.75" x2="560.3" y2="243.75" stroke="#000" stroke-width="2.4" />
<line x1="560.3" y1="1.3" x2="560.3" y2="5.3" stroke="#000" stroke-width="2.4" />
<line x1="587.7" y1="247.75" x2="587.7" y2="243.75" stroke="#000" stroke-width="2.4" />
<line x1="587.7" y1="1.3" x2="587.7" y2="5.3" stroke="#000" stroke-width="2.4" />
<line x1="642.5" y1="247.75" x2="642.5" y2="243.75" stroke="#000" stroke-width="2.4" />
<line x1="642.5" y1="1.3" x2="642.5" y2="5.3" stroke="#000" stroke-width="2.4" />
<line x1="669.9" y1="247.75" x2="669.9" y2="243.75" stroke="#000" stroke-width="2.4" />
<line x1="669.9" y1="1.3" x2="669.9" y2="5.3" stroke="#000" stroke-width="2.4" />
<line x1="67.45" y1="227" x2="73.45" y2="227" stroke="#000" stroke-width="2.4" />
<line x1="683.5" y1="227" x2="677.5" y2="227" stroke="#000" stroke-width="2.4" />
<line x1="67.45" y1="124.5" x2="73.45" y2="124.5" stroke="#000" stroke-width="2.4" />
<line x1="683.5" y1="124.5" x2="677.5" y2="124.5" stroke="#000" stroke-width="2.4" />
<line x1="67.45" y1="22" x2="73.45" y2="22" stroke="#000" stroke-width="2.4" />
<line x1="683.5" y1="22" x2="677.5" y2="22" stroke="#000" stroke-width="2.4" />
<line x1="67.45" y1="175.75" x2="71.45" y2="175.75" stroke="#000" stroke-width="2.4" />
<line x1="683.5" y1="175.75" x2="679.5" y2="175.75" stroke="#000" stroke-width="2.4" />
<line x1="67.45" y1="73.25" x2="71.45" y2="73.25" stroke="#000" stroke-width="2.4" />
<line x1="683.5" y1="73.25" x2="679.5" y2="73.25" stroke="#000" stroke-width="2.4" />
<text x="67.1" y="271" font-size="22" text-anchor="middle" fill="#000" >−4</text>
<text x="204.1" y="271" font-size="22" text-anchor="middle" fill="#000" >−2</text>
<text x="341.1" y="271" font-size="22" text-anchor="middle" fill="#000" >0</text>
<text x="478.1" y="271" font-size="22" text-anchor="middle" fill="#000" >2</text>
<text x="615.1" y="271" font-size="22" text-anchor="middle" fill="#000" >4</text>
<text x="62" y="29.3" font-size="22" text-anchor="end" fill="#000" >5</text>
<text x="62" y="131.8" font-size="22" text-anchor="end" fill="#000" >0</text>
<text x="62" y="234.3" font-size="22" text-anchor="end" fill="#000" >−5</text>
<text x="98" y="36.5" font-size="27.5" text-anchor="start" fill="#000" >a</text>
<g clip-path="url(#cb)">
<path d="M65.0,425.8 L66.0,425.5 L67.0,425.3 L68.0,425.0 L69.0,424.6 L70.0,424.2 L71.0,423.7 L72.0,423.2 L73.0,422.7 L74.0,422.1 L75.0,421.5 L76.0,420.9 L77.0,420.2 L78.0,419.6 L79.0,418.9 L80.0,418.1 L81.0,417.1 L82.0,416.0 L83.0,414.9 L84.0,413.8 L85.0,412.7 L86.0,411.9 L87.0,411.2 L88.0,410.6 L89.0,410.0 L90.0,409.4 L91.0,408.9 L92.0,408.3 L93.0,407.8 L94.0,407.4 L95.0,406.9 L96.0,406.6 L97.0,406.3 L98.0,406.0 L99.0,405.9 L100.0,405.8 L101.0,405.9 L102.0,406.2 L103.0,406.9 L104.0,407.7 L105.0,408.6 L106.0,409.4 L107.0,410.2 L108.0,411.0 L109.0,411.9 L110.0,412.8 L111.0,413.8 L112.0,414.8 L113.0,415.8 L114.0,416.8 L115.0,417.8 L116.0,418.9 L117.0,419.9 L118.0,420.9 L119.0,421.9 L120.0,422.8 L121.0,423.7 L122.0,424.6 L123.0,425.4 L124.0,426.2 L125.0,426.9 L126.0,427.6 L127.0,428.4 L128.0,429.2 L129.0,429.9 L130.0,430.5 L131.0,431.0 L132.0,431.3 L133.0,431.4 L134.0,431.4 L135.0,431.1 L136.0,430.8 L137.0,430.3 L138.0,429.7 L139.0,429.1 L140.0,428.2 L141.0,426.7 L142.0,424.5 L143.0,422.0 L144.0,419.2 L145.0,416.4 L146.0,413.7 L147.0,411.2 L148.0,408.7 L149.0,405.8 L150.0,402.8 L151.0,400.0 L152.0,397.5 L153.0,395.6 L154.0,394.4 L155.0,394.3 L156.0,394.5 L157.0,395.1 L158.0,395.9 L159.0,397.0 L160.0,398.2 L161.0,399.7 L162.0,401.4 L163.0,403.2 L164.0,405.2 L165.0,407.2 L166.0,409.4 L167.0,411.7 L168.0,414.1 L169.0,416.5 L170.0,418.9 L171.0,421.3 L172.0,423.7 L173.0,426.1 L174.0,428.5 L175.0,430.7 L176.0,432.9 L177.0,435.0 L178.0,436.9 L179.0,438.7 L180.0,440.3 L181.0,441.8 L182.0,443.0 L183.0,444.0 L184.0,444.8 L185.0,445.3 L186.0,445.5 L187.0,445.3 L188.0,444.7 L189.0,443.7 L190.0,442.3 L191.0,440.5 L192.0,438.4 L193.0,436.0 L194.0,433.3 L195.0,430.4 L196.0,427.2 L197.0,424.0 L198.0,420.5 L199.0,417.0 L200.0,413.4 L201.0,409.7 L202.0,406.1 L203.0,402.4 L204.0,398.9 L205.0,395.4 L206.0,392.0 L207.0,388.8 L208.0,385.7 L209.0,382.9 L210.0,380.3 L211.0,378.0 L212.0,376.0 L213.0,374.4 L214.0,373.1 L215.0,372.2 L216.0,371.8 L217.0,371.9 L218.0,372.6 L219.0,373.9 L220.0,375.8 L221.0,378.2 L222.0,381.0 L223.0,384.3 L224.0,388.0 L225.0,392.1 L226.0,396.4 L227.0,401.0 L228.0,405.8 L229.0,410.8 L230.0,415.9 L231.0,421.2 L232.0,426.4 L233.0,431.7 L234.0,436.9 L235.0,442.1 L236.0,447.1 L237.0,452.0 L238.0,456.7 L239.0,461.1 L240.0,465.2 L241.0,469.0 L242.0,472.4 L243.0,475.4 L244.0,478.0 L245.0,480.0 L246.0,481.5 L247.0,482.4 L248.0,482.7 L249.0,482.0 L250.0,480.5 L251.0,478.0 L252.0,474.7 L253.0,470.6 L254.0,465.9 L255.0,460.6 L256.0,454.7 L257.0,448.4 L258.0,441.6 L259.0,434.6 L260.0,427.3 L261.0,419.9 L262.0,412.3 L263.0,404.8 L264.0,397.2 L265.0,389.8 L266.0,382.6 L267.0,375.7 L268.0,369.1 L269.0,362.9 L270.0,357.1 L271.0,352.0 L272.0,347.5 L273.0,343.6 L274.0,340.6 L275.0,338.3 L276.0,337.0 L277.0,336.7 L278.0,337.9 L279.0,340.5 L280.0,344.5 L281.0,349.8 L282.0,356.2 L283.0,363.5 L284.0,371.7 L285.0,380.6 L286.0,390.0 L287.0,399.9 L288.0,410.0 L289.0,420.4 L290.0,430.7 L291.0,441.0 L292.0,451.0 L293.0,460.6 L294.0,469.7 L295.0,478.1 L296.0,485.8 L297.0,492.5 L298.0,498.2 L299.0,502.7 L300.0,505.9 L301.0,507.6 L302.0,508.6 L303.0,509.5 L304.0,510.3 L305.0,511.0 L306.0,511.6 L307.0,512.1 L308.0,512.5 L309.0,512.8 L310.0,512.9 L311.0,512.3 L312.0,510.4 L313.0,507.3 L314.0,503.0 L315.0,497.7 L316.0,491.5 L317.0,484.4 L318.0,476.5 L319.0,468.0 L320.0,459.0 L321.0,449.5 L322.0,439.7 L323.0,429.6 L324.0,419.3 L325.0,409.0 L326.0,398.8 L327.0,388.7 L328.0,378.8 L329.0,369.3 L330.0,360.2 L331.0,351.7 L332.0,343.7 L333.0,336.6 L334.0,330.2 L335.0,324.8 L336.0,320.4 L337.0,317.2 L338.0,315.1 L339.0,314.4 L340.0,315.2 L341.0,317.5 L342.0,321.1 L343.0,326.0 L344.0,332.1 L345.0,339.1 L346.0,347.1 L347.0,355.9 L348.0,365.3 L349.0,375.3 L350.0,385.7 L351.0,396.5 L352.0,407.5 L353.0,418.5 L354.0,429.6 L355.0,440.4 L356.0,451.1 L357.0,461.4 L358.0,471.1 L359.0,480.3 L360.0,488.8 L361.0,496.4 L362.0,503.1 L363.0,508.7 L364.0,513.1 L365.0,516.2 L366.0,517.9 L367.0,518.0 L368.0,516.9 L369.0,514.6 L370.0,511.2 L371.0,506.8 L372.0,501.5 L373.0,495.3 L374.0,488.4 L375.0,480.9 L376.0,472.7 L377.0,464.1 L378.0,455.1 L379.0,445.7 L380.0,436.1 L381.0,426.4 L382.0,416.6 L383.0,406.9 L384.0,397.2 L385.0,387.7 L386.0,378.6 L387.0,369.8 L388.0,361.4 L389.0,353.6 L390.0,346.5 L391.0,340.0 L392.0,334.3 L393.0,329.5 L394.0,325.7 L395.0,323.0 L396.0,321.4 L397.0,321.0 L398.0,321.7 L399.0,323.5 L400.0,326.2 L401.0,329.7 L402.0,334.1 L403.0,339.2 L404.0,344.9 L405.0,351.3 L406.0,358.1 L407.0,365.5 L408.0,373.1 L409.0,381.1 L410.0,389.4 L411.0,397.8 L412.0,406.3 L413.0,414.8 L414.0,423.3 L415.0,431.7 L416.0,439.9 L417.0,447.8 L418.0,455.4 L419.0,462.6 L420.0,469.4 L421.0,475.6 L422.0,481.2 L423.0,486.2 L424.0,490.4 L425.0,493.8 L426.0,496.3 L427.0,497.9 L428.0,498.4 L429.0,497.7 L430.0,495.8 L431.0,492.6 L432.0,488.5 L433.0,483.3 L434.0,477.3 L435.0,470.6 L436.0,463.2 L437.0,455.3 L438.0,447.0 L439.0,438.4 L440.0,429.5 L441.0,420.6 L442.0,411.7 L443.0,403.0 L444.0,394.4 L445.0,386.2 L446.0,378.5 L447.0,371.3 L448.0,364.8 L449.0,359.0 L450.0,354.1 L451.0,350.2 L452.0,347.4 L453.0,345.9 L454.0,345.6 L455.0,346.3 L456.0,347.9 L457.0,350.3 L458.0,353.5 L459.0,357.3 L460.0,361.7 L461.0,366.7 L462.0,372.1 L463.0,378.0 L464.0,384.2 L465.0,390.7 L466.0,397.4 L467.0,404.2 L468.0,411.2 L469.0,418.1 L470.0,425.0 L471.0,431.8 L472.0,438.4 L473.0,444.8 L474.0,450.9 L475.0,456.6 L476.0,461.9 L477.0,466.6 L478.0,470.8 L479.0,474.4 L480.0,477.2 L481.0,479.3 L482.0,480.6 L483.0,481.0 L484.0,480.4 L485.0,478.8 L486.0,476.4 L487.0,473.2 L488.0,469.3 L489.0,464.8 L490.0,459.7 L491.0,454.1 L492.0,448.1 L493.0,441.8 L494.0,435.3 L495.0,428.6 L496.0,421.8 L497.0,415.0 L498.0,408.3 L499.0,401.7 L500.0,395.4 L501.0,389.3 L502.0,383.7 L503.0,378.5 L504.0,373.8 L505.0,369.8 L506.0,366.4 L507.0,363.8 L508.0,362.1 L509.0,361.3 L510.0,361.5 L511.0,362.5 L512.0,364.4 L513.0,367.0 L514.0,370.2 L515.0,374.0 L516.0,378.3 L517.0,383.0 L518.0,388.2 L519.0,393.6 L520.0,399.2 L521.0,405.0 L522.0,410.9 L523.0,416.8 L524.0,422.6 L525.0,428.3 L526.0,433.8 L527.0,439.0 L528.0,443.9 L529.0,448.3 L530.0,452.3 L531.0,455.7 L532.0,458.5 L533.0,460.6 L534.0,461.8 L535.0,462.3 L536.0,462.0 L537.0,461.2 L538.0,460.0 L539.0,458.3 L540.0,456.2 L541.0,453.7 L542.0,450.9 L543.0,447.8 L544.0,444.4 L545.0,440.8 L546.0,437.1 L547.0,433.2 L548.0,429.1 L549.0,425.1 L550.0,420.9 L551.0,416.8 L552.0,412.7 L553.0,408.7 L554.0,404.8 L555.0,401.0 L556.0,397.4 L557.0,394.1 L558.0,391.0 L559.0,388.2 L560.0,385.7 L561.0,383.6 L562.0,381.9 L563.0,380.6 L564.0,379.8 L565.0,379.5 L566.0,379.8 L567.0,380.7 L568.0,382.1 L569.0,383.9 L570.0,386.2 L571.0,388.9 L572.0,391.9 L573.0,395.2 L574.0,398.7 L575.0,402.5 L576.0,406.5 L577.0,410.6 L578.0,414.7 L579.0,418.9 L580.0,423.1 L581.0,427.3 L582.0,431.4 L583.0,435.3 L584.0,439.1 L585.0,442.6 L586.0,445.9 L587.0,448.9 L588.0,451.5 L589.0,453.7 L590.0,455.5 L591.0,456.8 L592.0,457.6 L593.0,457.9 L594.0,457.6 L595.0,456.7 L596.0,455.5 L597.0,453.8 L598.0,451.7 L599.0,449.3 L600.0,446.5 L601.0,443.5 L602.0,440.3 L603.0,436.9 L604.0,433.3 L605.0,429.5 L606.0,425.7 L607.0,421.9 L608.0,418.0 L609.0,414.2 L610.0,410.5 L611.0,406.8 L612.0,403.3 L613.0,400.0 L614.0,396.9 L615.0,394.0 L616.0,391.5 L617.0,389.3 L618.0,387.4 L619.0,386.0 L620.0,385.0 L621.0,384.4 L622.0,384.5 L623.0,385.1 L624.0,386.4 L625.0,388.2 L626.0,390.5 L627.0,393.2 L628.0,396.3 L629.0,399.7 L630.0,403.4 L631.0,407.3 L632.0,411.3 L633.0,415.5 L634.0,419.7 L635.0,423.8 L636.0,427.9 L637.0,431.8 L638.0,435.6 L639.0,439.1 L640.0,442.3 L641.0,445.1 L642.0,447.6 L643.0,449.5 L644.0,450.9 L645.0,451.8 L646.0,452.0 L647.0,451.7 L648.0,451.0 L649.0,449.9 L650.0,448.5 L651.0,446.8 L652.0,444.7 L653.0,442.5 L654.0,440.0 L655.0,437.3 L656.0,434.4 L657.0,431.4 L658.0,428.3 L659.0,425.1 L660.0,421.9 L661.0,418.6 L662.0,415.4 L663.0,412.2 L664.0,409.0 L665.0,406.0 L666.0,403.1 L667.0,400.3 L668.0,397.8 L669.0,395.4 L670.0,393.3 L671.0,391.5 L672.0,390.0 L673.0,388.8 L674.0,388.0 L675.0,387.6 L676.0,387.6 L677.0,388.1 L678.0,389.0 L679.0,390.2 L680.0,391.7 L681.0,393.5 L682.0,395.4 L683.0,397.4" fill="none" stroke="#ff0000" stroke-width="2.6" stroke-linejoin="round" stroke-linecap="round"/>
<path d="M65.0,422.6 L66.0,422.9 L67.0,423.1 L68.0,423.3 L69.0,423.5 L70.0,423.6 L71.0,423.7 L72.0,423.8 L73.0,423.8 L74.0,423.8 L75.0,423.9 L76.0,423.9 L77.0,423.8 L78.0,423.7 L79.0,423.4 L80.0,423.1 L81.0,422.6 L82.0,422.1 L83.0,421.6 L84.0,421.0 L85.0,420.5 L86.0,419.9 L87.0,419.2 L88.0,418.4 L89.0,417.5 L90.0,416.5 L91.0,415.6 L92.0,414.7 L93.0,414.0 L94.0,413.3 L95.0,412.8 L96.0,412.6 L97.0,412.6 L98.0,412.9 L99.0,413.4 L100.0,414.1 L101.0,414.9 L102.0,415.5 L103.0,416.0 L104.0,416.3 L105.0,416.1 L106.0,415.5 L107.0,414.5 L108.0,413.3 L109.0,412.0 L110.0,410.6 L111.0,409.3 L112.0,408.2 L113.0,407.4 L114.0,407.1 L115.0,407.2 L116.0,407.5 L117.0,408.1 L118.0,408.9 L119.0,409.8 L120.0,411.5 L121.0,414.7 L122.0,418.7 L123.0,422.3 L124.0,424.8 L125.0,425.7 L126.0,426.4 L127.0,427.1 L128.0,427.7 L129.0,428.3 L130.0,428.8 L131.0,429.3 L132.0,429.7 L133.0,430.1 L134.0,430.4 L135.0,430.7 L136.0,430.9 L137.0,431.1 L138.0,431.3 L139.0,431.4 L140.0,431.4 L141.0,431.4 L142.0,430.8 L143.0,429.7 L144.0,428.2 L145.0,426.3 L146.0,422.5 L147.0,417.7 L148.0,412.8 L149.0,408.6 L150.0,406.2 L151.0,405.0 L152.0,403.9 L153.0,402.9 L154.0,401.9 L155.0,401.1 L156.0,400.2 L157.0,399.5 L158.0,398.8 L159.0,398.2 L160.0,397.7 L161.0,397.2 L162.0,396.9 L163.0,396.6 L164.0,396.3 L165.0,396.2 L166.0,396.1 L167.0,396.2 L168.0,396.4 L169.0,396.7 L170.0,397.1 L171.0,397.6 L172.0,398.1 L173.0,398.7 L174.0,399.4 L175.0,400.6 L176.0,402.3 L177.0,404.4 L178.0,406.8 L179.0,409.6 L180.0,412.5 L181.0,415.6 L182.0,418.9 L183.0,422.2 L184.0,425.5 L185.0,428.8 L186.0,432.0 L187.0,435.0 L188.0,437.8 L189.0,440.3 L190.0,442.4 L191.0,444.2 L192.0,445.6 L193.0,446.5 L194.0,446.8 L195.0,446.5 L196.0,446.0 L197.0,445.0 L198.0,443.7 L199.0,442.2 L200.0,440.3 L201.0,438.2 L202.0,435.8 L203.0,433.3 L204.0,430.6 L205.0,427.7 L206.0,424.7 L207.0,421.6 L208.0,418.4 L209.0,415.2 L210.0,412.0 L211.0,408.7 L212.0,405.5 L213.0,402.4 L214.0,399.3 L215.0,396.4 L216.0,393.6 L217.0,390.9 L218.0,388.4 L219.0,386.2 L220.0,384.2 L221.0,382.4 L222.0,381.0 L223.0,379.8 L224.0,379.0 L225.0,378.6 L226.0,378.5 L227.0,379.1 L228.0,380.1 L229.0,381.6 L230.0,383.6 L231.0,386.0 L232.0,388.8 L233.0,391.9 L234.0,395.2 L235.0,398.9 L236.0,402.7 L237.0,406.7 L238.0,410.9 L239.0,415.1 L240.0,419.4 L241.0,423.7 L242.0,428.0 L243.0,432.2 L244.0,436.3 L245.0,440.3 L246.0,444.0 L247.0,447.6 L248.0,450.8 L249.0,453.8 L250.0,456.4 L251.0,458.7 L252.0,460.5 L253.0,461.8 L254.0,462.6 L255.0,462.9 L256.0,462.5 L257.0,461.4 L258.0,459.7 L259.0,457.3 L260.0,454.4 L261.0,450.9 L262.0,447.1 L263.0,442.8 L264.0,438.1 L265.0,433.2 L266.0,428.0 L267.0,422.7 L268.0,417.2 L269.0,411.7 L270.0,406.1 L271.0,400.5 L272.0,395.1 L273.0,389.7 L274.0,384.6 L275.0,379.7 L276.0,375.1 L277.0,370.9 L278.0,367.0 L279.0,363.6 L280.0,360.7 L281.0,358.4 L282.0,356.7 L283.0,355.7 L284.0,355.4 L285.0,356.0 L286.0,357.5 L287.0,359.9 L288.0,363.0 L289.0,366.9 L290.0,371.4 L291.0,376.4 L292.0,382.0 L293.0,388.1 L294.0,394.5 L295.0,401.2 L296.0,408.1 L297.0,415.2 L298.0,422.4 L299.0,429.6 L300.0,436.8 L301.0,443.8 L302.0,450.7 L303.0,457.3 L304.0,463.6 L305.0,469.5 L306.0,475.0 L307.0,479.9 L308.0,484.2 L309.0,487.8 L310.0,490.8 L311.0,492.9 L312.0,494.1 L313.0,494.4 L314.0,493.6 L315.0,491.6 L316.0,488.7 L317.0,484.7 L318.0,480.0 L319.0,474.5 L320.0,468.3 L321.0,461.5 L322.0,454.2 L323.0,446.6 L324.0,438.6 L325.0,430.3 L326.0,422.0 L327.0,413.6 L328.0,405.2 L329.0,396.9 L330.0,388.9 L331.0,381.1 L332.0,373.8 L333.0,366.9 L334.0,360.6 L335.0,354.9 L336.0,350.0 L337.0,345.9 L338.0,342.8 L339.0,340.6 L340.0,339.5 L341.0,339.6 L342.0,340.7 L343.0,342.7 L344.0,345.6 L345.0,349.2 L346.0,353.6 L347.0,358.6 L348.0,364.3 L349.0,370.4 L350.0,377.1 L351.0,384.1 L352.0,391.5 L353.0,399.1 L354.0,406.9 L355.0,414.9 L356.0,423.0 L357.0,431.0 L358.0,439.0 L359.0,446.9 L360.0,454.6 L361.0,462.1 L362.0,469.2 L363.0,476.0 L364.0,482.3 L365.0,488.1 L366.0,493.3 L367.0,497.9 L368.0,501.8 L369.0,504.9 L370.0,507.1 L371.0,508.5 L372.0,508.9 L373.0,508.2 L374.0,506.4 L375.0,503.6 L376.0,499.9 L377.0,495.3 L378.0,489.9 L379.0,483.9 L380.0,477.2 L381.0,470.0 L382.0,462.4 L383.0,454.4 L384.0,446.2 L385.0,437.7 L386.0,429.2 L387.0,420.6 L388.0,412.1 L389.0,403.7 L390.0,395.5 L391.0,387.6 L392.0,380.1 L393.0,373.1 L394.0,366.6 L395.0,360.8 L396.0,355.6 L397.0,351.3 L398.0,347.8 L399.0,345.3 L400.0,343.8 L401.0,343.5 L402.0,344.3 L403.0,346.4 L404.0,349.5 L405.0,353.6 L406.0,358.6 L407.0,364.4 L408.0,370.8 L409.0,377.8 L410.0,385.3 L411.0,393.2 L412.0,401.4 L413.0,409.8 L414.0,418.2 L415.0,426.6 L416.0,434.9 L417.0,443.0 L418.0,450.8 L419.0,458.2 L420.0,465.0 L421.0,471.3 L422.0,476.8 L423.0,481.6 L424.0,485.4 L425.0,488.2 L426.0,489.9 L427.0,490.4 L428.0,489.9 L429.0,488.7 L430.0,486.8 L431.0,484.1 L432.0,480.9 L433.0,477.2 L434.0,472.9 L435.0,468.2 L436.0,463.0 L437.0,457.6 L438.0,451.8 L439.0,445.8 L440.0,439.6 L441.0,433.3 L442.0,426.9 L443.0,420.4 L444.0,414.0 L445.0,407.7 L446.0,401.4 L447.0,395.4 L448.0,389.5 L449.0,384.0 L450.0,378.7 L451.0,373.9 L452.0,369.5 L453.0,365.6 L454.0,362.2 L455.0,359.4 L456.0,357.2 L457.0,355.8 L458.0,355.0 L459.0,355.1 L460.0,356.0 L461.0,357.7 L462.0,360.0 L463.0,363.0 L464.0,366.5 L465.0,370.6 L466.0,375.1 L467.0,379.9 L468.0,385.1 L469.0,390.6 L470.0,396.3 L471.0,402.1 L472.0,408.0 L473.0,414.0 L474.0,419.9 L475.0,425.7 L476.0,431.3 L477.0,436.8 L478.0,441.9 L479.0,446.7 L480.0,451.1 L481.0,455.1 L482.0,458.5 L483.0,461.4 L484.0,463.6 L485.0,465.1 L486.0,465.8 L487.0,465.7 L488.0,464.9 L489.0,463.5 L490.0,461.4 L491.0,458.8 L492.0,455.7 L493.0,452.1 L494.0,448.1 L495.0,443.9 L496.0,439.3 L497.0,434.6 L498.0,429.6 L499.0,424.6 L500.0,419.5 L501.0,414.5 L502.0,409.5 L503.0,404.6 L504.0,399.9 L505.0,395.4 L506.0,391.2 L507.0,387.4 L508.0,383.9 L509.0,381.0 L510.0,378.5 L511.0,376.6 L512.0,375.3 L513.0,374.8 L514.0,374.9 L515.0,375.5 L516.0,376.6 L517.0,378.2 L518.0,380.2 L519.0,382.5 L520.0,385.2 L521.0,388.2 L522.0,391.4 L523.0,394.9 L524.0,398.6 L525.0,402.4 L526.0,406.3 L527.0,410.3 L528.0,414.3 L529.0,418.3 L530.0,422.3 L531.0,426.2 L532.0,429.9 L533.0,433.6 L534.0,437.0 L535.0,440.2 L536.0,443.1 L537.0,445.8 L538.0,448.0 L539.0,449.9 L540.0,451.4 L541.0,452.5 L542.0,453.0 L543.0,453.0 L544.0,452.4 L545.0,451.2 L546.0,449.6 L547.0,447.4 L548.0,444.9 L549.0,442.1 L550.0,438.9 L551.0,435.5 L552.0,431.9 L553.0,428.1 L554.0,424.2 L555.0,420.3 L556.0,416.4 L557.0,412.5 L558.0,408.7 L559.0,405.1 L560.0,401.7 L561.0,398.5 L562.0,395.6 L563.0,393.1 L564.0,391.0 L565.0,389.4 L566.0,388.2 L567.0,387.6 L568.0,387.6 L569.0,388.1 L570.0,389.0 L571.0,390.4 L572.0,392.1 L573.0,394.2 L574.0,396.6 L575.0,399.3 L576.0,402.2 L577.0,405.3 L578.0,408.5 L579.0,411.9 L580.0,415.4 L581.0,418.9 L582.0,422.4 L583.0,425.9 L584.0,429.3 L585.0,432.6 L586.0,435.8 L587.0,438.8 L588.0,441.6 L589.0,444.1 L590.0,446.4 L591.0,448.3 L592.0,449.9 L593.0,451.0 L594.0,451.8 L595.0,452.0 L596.0,451.8 L597.0,451.2 L598.0,450.2 L599.0,448.9 L600.0,447.4 L601.0,445.5 L602.0,443.4 L603.0,441.1 L604.0,438.7 L605.0,436.1 L606.0,433.4 L607.0,430.6 L608.0,427.8 L609.0,425.0 L610.0,422.2 L611.0,419.5 L612.0,416.8 L613.0,414.3 L614.0,411.9 L615.0,409.7 L616.0,407.8 L617.0,406.0 L618.0,404.6 L619.0,403.5 L620.0,402.7 L621.0,402.3 L622.0,402.3 L623.0,402.7 L624.0,403.5 L625.0,404.7 L626.0,406.2 L627.0,407.9 L628.0,409.9 L629.0,412.1 L630.0,414.5 L631.0,417.0 L632.0,419.6 L633.0,422.2 L634.0,424.9 L635.0,427.6 L636.0,430.2 L637.0,432.7 L638.0,435.1 L639.0,437.4 L640.0,439.5 L641.0,441.3 L642.0,442.8 L643.0,444.1 L644.0,445.0 L645.0,445.6 L646.0,445.7 L647.0,445.5 L648.0,445.0 L649.0,444.2 L650.0,443.2 L651.0,441.9 L652.0,440.5 L653.0,438.8 L654.0,437.0 L655.0,435.0 L656.0,432.9 L657.0,430.6 L658.0,428.3 L659.0,425.9 L660.0,423.4 L661.0,420.9 L662.0,418.3 L663.0,415.7 L664.0,413.2 L665.0,410.7 L666.0,408.2 L667.0,405.9 L668.0,403.6 L669.0,401.4 L670.0,399.3 L671.0,397.4 L672.0,395.7 L673.0,394.1 L674.0,392.7 L675.0,391.6 L676.0,390.7 L677.0,390.1 L678.0,389.7 L679.0,389.7 L680.0,390.1 L681.0,391.0 L682.0,392.0 L683.0,393.2" fill="none" stroke="#ff6200" stroke-width="2.6" stroke-linejoin="round" stroke-linecap="round"/>
<path d="M65.0,421.3 L66.0,420.3 L67.0,419.3 L68.0,418.4 L69.0,417.5 L70.0,416.6 L71.0,415.8 L72.0,415.0 L73.0,414.3 L74.0,413.6 L75.0,413.0 L76.0,412.4 L77.0,411.9 L78.0,411.3 L79.0,410.8 L80.0,410.3 L81.0,409.9 L82.0,409.6 L83.0,409.6 L84.0,409.7 L85.0,409.8 L86.0,410.1 L87.0,410.4 L88.0,410.8 L89.0,411.3 L90.0,411.8 L91.0,412.3 L92.0,412.9 L93.0,413.4 L94.0,414.0 L95.0,414.5 L96.0,415.0 L97.0,415.5 L98.0,415.9 L99.0,416.2 L100.0,416.5 L101.0,416.8 L102.0,417.0 L103.0,417.2 L104.0,417.4 L105.0,417.6 L106.0,417.9 L107.0,418.1 L108.0,418.4 L109.0,418.7 L110.0,419.2 L111.0,419.9 L112.0,420.8 L113.0,421.8 L114.0,422.8 L115.0,423.9 L116.0,425.0 L117.0,425.9 L118.0,426.7 L119.0,427.3 L120.0,427.6 L121.0,427.6 L122.0,427.5 L123.0,427.4 L124.0,427.1 L125.0,426.8 L126.0,426.5 L127.0,426.0 L128.0,425.5 L129.0,425.0 L130.0,424.4 L131.0,423.8 L132.0,423.1 L133.0,422.4 L134.0,421.7 L135.0,420.9 L136.0,420.2 L137.0,419.4 L138.0,418.6 L139.0,417.8 L140.0,416.9 L141.0,415.9 L142.0,414.6 L143.0,413.2 L144.0,411.7 L145.0,410.1 L146.0,408.6 L147.0,407.2 L148.0,405.8 L149.0,404.6 L150.0,403.7 L151.0,402.8 L152.0,402.0 L153.0,401.3 L154.0,400.8 L155.0,400.8 L156.0,401.2 L157.0,402.0 L158.0,403.1 L159.0,404.6 L160.0,406.3 L161.0,408.3 L162.0,410.5 L163.0,412.8 L164.0,415.2 L165.0,417.7 L166.0,420.3 L167.0,422.8 L168.0,425.3 L169.0,427.7 L170.0,430.0 L171.0,432.0 L172.0,433.9 L173.0,435.6 L174.0,436.9 L175.0,437.9 L176.0,438.5 L177.0,438.8 L178.0,438.6 L179.0,438.3 L180.0,437.7 L181.0,436.9 L182.0,435.9 L183.0,434.7 L184.0,433.3 L185.0,431.8 L186.0,430.2 L187.0,428.4 L188.0,426.6 L189.0,424.6 L190.0,422.6 L191.0,420.5 L192.0,418.4 L193.0,416.2 L194.0,414.0 L195.0,411.8 L196.0,409.6 L197.0,407.5 L198.0,405.4 L199.0,403.4 L200.0,401.4 L201.0,399.5 L202.0,397.7 L203.0,396.1 L204.0,394.6 L205.0,393.2 L206.0,392.0 L207.0,391.0 L208.0,390.2 L209.0,389.5 L210.0,389.2 L211.0,389.0 L212.0,389.1 L213.0,389.6 L214.0,390.4 L215.0,391.5 L216.0,392.9 L217.0,394.5 L218.0,396.3 L219.0,398.4 L220.0,400.7 L221.0,403.1 L222.0,405.7 L223.0,408.4 L224.0,411.3 L225.0,414.2 L226.0,417.2 L227.0,420.2 L228.0,423.3 L229.0,426.4 L230.0,429.5 L231.0,432.5 L232.0,435.5 L233.0,438.4 L234.0,441.2 L235.0,444.0 L236.0,446.5 L237.0,449.0 L238.0,451.2 L239.0,453.2 L240.0,455.1 L241.0,456.7 L242.0,458.0 L243.0,459.1 L244.0,459.8 L245.0,460.3 L246.0,460.4 L247.0,460.0 L248.0,459.1 L249.0,457.7 L250.0,455.8 L251.0,453.6 L252.0,450.9 L253.0,448.0 L254.0,444.7 L255.0,441.2 L256.0,437.4 L257.0,433.5 L258.0,429.4 L259.0,425.2 L260.0,420.9 L261.0,416.6 L262.0,412.3 L263.0,408.0 L264.0,403.9 L265.0,399.8 L266.0,395.9 L267.0,392.2 L268.0,388.7 L269.0,385.5 L270.0,382.6 L271.0,380.0 L272.0,377.8 L273.0,376.1 L274.0,374.8 L275.0,373.9 L276.0,373.7 L277.0,374.0 L278.0,375.1 L279.0,376.9 L280.0,379.3 L281.0,382.2 L282.0,385.7 L283.0,389.6 L284.0,393.9 L285.0,398.5 L286.0,403.4 L287.0,408.6 L288.0,414.0 L289.0,419.5 L290.0,425.0 L291.0,430.6 L292.0,436.2 L293.0,441.6 L294.0,447.0 L295.0,452.1 L296.0,457.0 L297.0,461.7 L298.0,465.9 L299.0,469.8 L300.0,473.2 L301.0,476.0 L302.0,478.4 L303.0,480.1 L304.0,481.1 L305.0,481.4 L306.0,480.9 L307.0,479.7 L308.0,477.7 L309.0,475.1 L310.0,471.9 L311.0,468.2 L312.0,463.9 L313.0,459.3 L314.0,454.2 L315.0,448.8 L316.0,443.2 L317.0,437.3 L318.0,431.3 L319.0,425.1 L320.0,418.9 L321.0,412.7 L322.0,406.6 L323.0,400.6 L324.0,394.7 L325.0,389.0 L326.0,383.6 L327.0,378.6 L328.0,373.9 L329.0,369.7 L330.0,365.9 L331.0,362.7 L332.0,360.1 L333.0,358.2 L334.0,356.9 L335.0,356.5 L336.0,356.9 L337.0,358.4 L338.0,360.9 L339.0,364.3 L340.0,368.4 L341.0,373.3 L342.0,378.8 L343.0,384.9 L344.0,391.4 L345.0,398.3 L346.0,405.5 L347.0,412.8 L348.0,420.3 L349.0,427.8 L350.0,435.2 L351.0,442.5 L352.0,449.5 L353.0,456.2 L354.0,462.5 L355.0,468.3 L356.0,473.6 L357.0,478.1 L358.0,481.9 L359.0,484.8 L360.0,486.8 L361.0,487.8 L362.0,487.7 L363.0,486.5 L364.0,484.2 L365.0,481.0 L366.0,477.0 L367.0,472.2 L368.0,466.7 L369.0,460.6 L370.0,454.1 L371.0,447.1 L372.0,439.9 L373.0,432.4 L374.0,424.8 L375.0,417.1 L376.0,409.5 L377.0,402.0 L378.0,394.7 L379.0,387.8 L380.0,381.2 L381.0,375.2 L382.0,369.7 L383.0,364.9 L384.0,360.8 L385.0,357.6 L386.0,355.4 L387.0,354.1 L388.0,354.0 L389.0,354.4 L390.0,355.4 L391.0,356.7 L392.0,358.6 L393.0,360.8 L394.0,363.3 L395.0,366.2 L396.0,369.5 L397.0,373.0 L398.0,376.7 L399.0,380.7 L400.0,384.9 L401.0,389.3 L402.0,393.8 L403.0,398.4 L404.0,403.1 L405.0,407.8 L406.0,412.6 L407.0,417.4 L408.0,422.1 L409.0,426.8 L410.0,431.5 L411.0,436.0 L412.0,440.3 L413.0,444.5 L414.0,448.6 L415.0,452.3 L416.0,455.9 L417.0,459.1 L418.0,462.1 L419.0,464.7 L420.0,466.9 L421.0,468.8 L422.0,470.2 L423.0,471.2 L424.0,471.7 L425.0,471.6 L426.0,470.8 L427.0,469.1 L428.0,466.7 L429.0,463.7 L430.0,460.0 L431.0,455.9 L432.0,451.3 L433.0,446.3 L434.0,441.1 L435.0,435.5 L436.0,429.9 L437.0,424.1 L438.0,418.3 L439.0,412.6 L440.0,406.9 L441.0,401.5 L442.0,396.3 L443.0,391.4 L444.0,387.0 L445.0,383.0 L446.0,379.5 L447.0,376.6 L448.0,374.5 L449.0,373.0 L450.0,372.4 L451.0,372.6 L452.0,373.2 L453.0,374.3 L454.0,375.8 L455.0,377.7 L456.0,380.0 L457.0,382.5 L458.0,385.4 L459.0,388.5 L460.0,391.8 L461.0,395.3 L462.0,399.0 L463.0,402.8 L464.0,406.6 L465.0,410.5 L466.0,414.4 L467.0,418.3 L468.0,422.2 L469.0,425.9 L470.0,429.6 L471.0,433.0 L472.0,436.3 L473.0,439.4 L474.0,442.2 L475.0,444.7 L476.0,446.9 L477.0,448.7 L478.0,450.1 L479.0,451.2 L480.0,451.7 L481.0,451.8 L482.0,451.4 L483.0,450.6 L484.0,449.4 L485.0,447.9 L486.0,446.0 L487.0,443.9 L488.0,441.5 L489.0,438.9 L490.0,436.1 L491.0,433.1 L492.0,430.1 L493.0,426.9 L494.0,423.6 L495.0,420.3 L496.0,417.0 L497.0,413.7 L498.0,410.5 L499.0,407.4 L500.0,404.4 L501.0,401.5 L502.0,398.8 L503.0,396.4 L504.0,394.1 L505.0,392.2 L506.0,390.5 L507.0,389.2 L508.0,388.2 L509.0,387.7 L510.0,387.5 L511.0,387.9 L512.0,388.8 L513.0,390.1 L514.0,391.8 L515.0,393.9 L516.0,396.3 L517.0,399.0 L518.0,401.9 L519.0,405.0 L520.0,408.3 L521.0,411.6 L522.0,415.1 L523.0,418.6 L524.0,422.0 L525.0,425.4 L526.0,428.7 L527.0,431.9 L528.0,434.9 L529.0,437.7 L530.0,440.1 L531.0,442.3 L532.0,444.2 L533.0,445.6 L534.0,446.6 L535.0,447.1 L536.0,447.1 L537.0,446.5 L538.0,445.3 L539.0,443.7 L540.0,441.6 L541.0,439.2 L542.0,436.4 L543.0,433.3 L544.0,430.1 L545.0,426.7 L546.0,423.2 L547.0,419.6 L548.0,416.1 L549.0,412.6 L550.0,409.3 L551.0,406.1 L552.0,403.2 L553.0,400.6 L554.0,398.3 L555.0,396.4 L556.0,395.0 L557.0,394.1 L558.0,393.8 L559.0,394.0 L560.0,394.5 L561.0,395.3 L562.0,396.3 L563.0,397.6 L564.0,399.1 L565.0,400.9 L566.0,402.8 L567.0,404.8 L568.0,407.0 L569.0,409.3 L570.0,411.7 L571.0,414.2 L572.0,416.7 L573.0,419.2 L574.0,421.7 L575.0,424.2 L576.0,426.7 L577.0,429.0 L578.0,431.3 L579.0,433.4 L580.0,435.4 L581.0,437.3 L582.0,438.9 L583.0,440.4 L584.0,441.6 L585.0,442.5 L586.0,443.2 L587.0,443.5 L588.0,443.6 L589.0,443.2 L590.0,442.5 L591.0,441.4 L592.0,440.1 L593.0,438.5 L594.0,436.6 L595.0,434.5 L596.0,432.3 L597.0,429.9 L598.0,427.3 L599.0,424.7 L600.0,422.1 L601.0,419.4 L602.0,416.7 L603.0,414.0 L604.0,411.4 L605.0,408.9 L606.0,406.6 L607.0,404.4 L608.0,402.3 L609.0,400.5 L610.0,399.0 L611.0,397.7 L612.0,396.8 L613.0,396.2 L614.0,395.9 L615.0,396.0 L616.0,396.4 L617.0,397.1 L618.0,398.0 L619.0,399.1 L620.0,400.4 L621.0,401.9 L622.0,403.6 L623.0,405.4 L624.0,407.3 L625.0,409.3 L626.0,411.4 L627.0,413.5 L628.0,415.7 L629.0,417.9 L630.0,420.1 L631.0,422.3 L632.0,424.4 L633.0,426.5 L634.0,428.5 L635.0,430.3 L636.0,432.1 L637.0,433.7 L638.0,435.2 L639.0,436.5 L640.0,437.5 L641.0,438.4 L642.0,439.0 L643.0,439.3 L644.0,439.4 L645.0,439.2 L646.0,438.7 L647.0,438.0 L648.0,437.0 L649.0,435.9 L650.0,434.6 L651.0,433.1 L652.0,431.5 L653.0,429.8 L654.0,427.9 L655.0,426.0 L656.0,424.0 L657.0,421.9 L658.0,419.9 L659.0,417.8 L660.0,415.7 L661.0,413.6 L662.0,411.6 L663.0,409.7 L664.0,407.8 L665.0,406.1 L666.0,404.5 L667.0,403.0 L668.0,401.6 L669.0,400.5 L670.0,399.5 L671.0,398.8 L672.0,398.3 L673.0,398.1 L674.0,398.1 L675.0,398.3 L676.0,398.7 L677.0,399.4 L678.0,400.1 L679.0,401.0 L680.0,402.1 L681.0,403.2 L682.0,404.5 L683.0,405.8" fill="none" stroke="#ffb300" stroke-width="2.6" stroke-linejoin="round" stroke-linecap="round"/>
<path d="M65.0,420.5 L66.0,420.2 L67.0,420.0 L68.0,419.7 L69.0,419.4 L70.0,419.2 L71.0,418.9 L72.0,418.6 L73.0,418.3 L74.0,418.0 L75.0,417.8 L76.0,417.5 L77.0,417.2 L78.0,416.9 L79.0,416.6 L80.0,416.3 L81.0,416.0 L82.0,415.6 L83.0,415.2 L84.0,414.8 L85.0,414.4 L86.0,414.0 L87.0,413.6 L88.0,413.2 L89.0,412.8 L90.0,412.5 L91.0,412.2 L92.0,411.9 L93.0,411.7 L94.0,411.5 L95.0,411.5 L96.0,411.5 L97.0,411.5 L98.0,411.5 L99.0,411.5 L100.0,411.5 L101.0,411.5 L102.0,411.6 L103.0,411.6 L104.0,411.7 L105.0,411.7 L106.0,411.8 L107.0,411.8 L108.0,411.9 L109.0,412.0 L110.0,412.1 L111.0,412.2 L112.0,412.8 L113.0,413.7 L114.0,414.8 L115.0,415.8 L116.0,416.8 L117.0,417.8 L118.0,418.9 L119.0,420.1 L120.0,421.2 L121.0,422.3 L122.0,423.3 L123.0,424.1 L124.0,424.7 L125.0,425.1 L126.0,425.1 L127.0,425.0 L128.0,424.8 L129.0,424.6 L130.0,424.3 L131.0,423.9 L132.0,423.5 L133.0,423.1 L134.0,422.7 L135.0,422.3 L136.0,421.7 L137.0,421.0 L138.0,420.2 L139.0,419.3 L140.0,418.4 L141.0,417.4 L142.0,416.3 L143.0,415.3 L144.0,414.2 L145.0,413.2 L146.0,412.2 L147.0,411.3 L148.0,410.4 L149.0,409.6 L150.0,408.9 L151.0,408.3 L152.0,407.7 L153.0,407.0 L154.0,406.4 L155.0,405.9 L156.0,405.6 L157.0,405.4 L158.0,405.4 L159.0,405.6 L160.0,405.9 L161.0,406.3 L162.0,406.8 L163.0,407.4 L164.0,408.2 L165.0,409.0 L166.0,409.8 L167.0,410.8 L168.0,411.8 L169.0,412.8 L170.0,413.9 L171.0,415.1 L172.0,416.2 L173.0,417.4 L174.0,418.5 L175.0,419.7 L176.0,420.9 L177.0,422.0 L178.0,423.1 L179.0,424.2 L180.0,425.2 L181.0,426.2 L182.0,427.1 L183.0,427.9 L184.0,428.7 L185.0,429.3 L186.0,429.9 L187.0,430.4 L188.0,430.7 L189.0,430.9 L190.0,431.0 L191.0,430.8 L192.0,430.1 L193.0,428.9 L194.0,427.4 L195.0,425.6 L196.0,423.5 L197.0,421.3 L198.0,418.9 L199.0,416.4 L200.0,414.0 L201.0,411.6 L202.0,409.3 L203.0,407.2 L204.0,405.3 L205.0,403.8 L206.0,402.6 L207.0,401.9 L208.0,401.6 L209.0,401.6 L210.0,401.7 L211.0,401.9 L212.0,402.0 L213.0,402.0 L214.0,401.8 L215.0,401.3 L216.0,400.6 L217.0,399.7 L218.0,398.8 L219.0,398.0 L220.0,397.4 L221.0,397.0 L222.0,397.0 L223.0,397.5 L224.0,398.5 L225.0,399.9 L226.0,401.6 L227.0,403.6 L228.0,406.0 L229.0,408.5 L230.0,411.2 L231.0,414.1 L232.0,417.0 L233.0,419.9 L234.0,422.9 L235.0,425.8 L236.0,428.6 L237.0,431.2 L238.0,433.7 L239.0,435.9 L240.0,437.8 L241.0,439.4 L242.0,440.6 L243.0,441.3 L244.0,441.7 L245.0,442.0 L246.0,442.3 L247.0,442.6 L248.0,442.9 L249.0,443.1 L250.0,443.3 L251.0,443.4 L252.0,443.5 L253.0,443.6 L254.0,443.6 L255.0,443.2 L256.0,442.4 L257.0,441.2 L258.0,439.6 L259.0,437.8 L260.0,435.7 L261.0,433.3 L262.0,430.7 L263.0,428.0 L264.0,425.0 L265.0,422.0 L266.0,418.9 L267.0,415.8 L268.0,412.6 L269.0,409.5 L270.0,406.4 L271.0,403.4 L272.0,400.5 L273.0,397.8 L274.0,395.2 L275.0,392.9 L276.0,390.8 L277.0,389.1 L278.0,387.6 L279.0,386.5 L280.0,385.8 L281.0,385.4 L282.0,385.6 L283.0,386.4 L284.0,387.8 L285.0,389.7 L286.0,392.0 L287.0,394.8 L288.0,397.9 L289.0,401.3 L290.0,405.0 L291.0,408.9 L292.0,413.0 L293.0,417.2 L294.0,421.4 L295.0,425.7 L296.0,429.9 L297.0,434.1 L298.0,438.1 L299.0,442.0 L300.0,445.6 L301.0,448.9 L302.0,451.9 L303.0,454.6 L304.0,456.8 L305.0,458.5 L306.0,459.7 L307.0,460.3 L308.0,460.3 L309.0,459.8 L310.0,458.8 L311.0,457.4 L312.0,455.5 L313.0,453.3 L314.0,450.7 L315.0,447.8 L316.0,444.6 L317.0,441.2 L318.0,437.5 L319.0,433.7 L320.0,429.8 L321.0,425.7 L322.0,421.5 L323.0,417.3 L324.0,413.2 L325.0,409.0 L326.0,404.9 L327.0,400.8 L328.0,397.0 L329.0,393.2 L330.0,389.7 L331.0,386.4 L332.0,383.3 L333.0,380.6 L334.0,378.2 L335.0,376.1 L336.0,374.4 L337.0,373.2 L338.0,372.5 L339.0,372.2 L340.0,372.6 L341.0,373.8 L342.0,375.6 L343.0,378.2 L344.0,381.2 L345.0,384.8 L346.0,388.8 L347.0,393.2 L348.0,397.8 L349.0,402.7 L350.0,407.8 L351.0,413.0 L352.0,418.2 L353.0,423.3 L354.0,428.4 L355.0,433.3 L356.0,438.0 L357.0,442.3 L358.0,446.3 L359.0,449.9 L360.0,453.0 L361.0,455.5 L362.0,457.4 L363.0,458.5 L364.0,458.9 L365.0,458.7 L366.0,458.0 L367.0,456.8 L368.0,455.2 L369.0,453.3 L370.0,451.0 L371.0,448.4 L372.0,445.5 L373.0,442.4 L374.0,439.1 L375.0,435.6 L376.0,431.9 L377.0,428.2 L378.0,424.4 L379.0,420.6 L380.0,416.7 L381.0,412.9 L382.0,409.2 L383.0,405.5 L384.0,402.0 L385.0,398.6 L386.0,395.5 L387.0,392.6 L388.0,389.9 L389.0,387.5 L390.0,385.5 L391.0,383.9 L392.0,382.6 L393.0,381.8 L394.0,381.5 L395.0,381.6 L396.0,382.3 L397.0,383.6 L398.0,385.3 L399.0,387.4 L400.0,389.9 L401.0,392.7 L402.0,395.8 L403.0,399.2 L404.0,402.8 L405.0,406.5 L406.0,410.3 L407.0,414.3 L408.0,418.2 L409.0,422.1 L410.0,426.0 L411.0,429.7 L412.0,433.3 L413.0,436.7 L414.0,439.9 L415.0,442.8 L416.0,445.4 L417.0,447.6 L418.0,449.3 L419.0,450.7 L420.0,451.5 L421.0,451.8 L422.0,451.6 L423.0,450.9 L424.0,449.9 L425.0,448.5 L426.0,446.8 L427.0,444.8 L428.0,442.5 L429.0,440.0 L430.0,437.2 L431.0,434.3 L432.0,431.3 L433.0,428.2 L434.0,424.9 L435.0,421.6 L436.0,418.3 L437.0,415.1 L438.0,411.8 L439.0,408.6 L440.0,405.6 L441.0,402.6 L442.0,399.9 L443.0,397.3 L444.0,395.0 L445.0,392.9 L446.0,391.1 L447.0,389.7 L448.0,388.6 L449.0,387.8 L450.0,387.5 L451.0,387.6 L452.0,388.0 L453.0,388.5 L454.0,389.4 L455.0,390.4 L456.0,391.6 L457.0,393.0 L458.0,394.6 L459.0,396.3 L460.0,398.2 L461.0,400.2 L462.0,402.2 L463.0,404.4 L464.0,406.6 L465.0,408.9 L466.0,411.2 L467.0,413.5 L468.0,415.9 L469.0,418.2 L470.0,420.5 L471.0,422.7 L472.0,424.9 L473.0,427.0 L474.0,429.0 L475.0,430.9 L476.0,432.7 L477.0,434.3 L478.0,435.7 L479.0,437.0 L480.0,438.1 L481.0,439.0 L482.0,439.7 L483.0,440.1 L484.0,440.2 L485.0,440.1 L486.0,439.5 L487.0,438.5 L488.0,437.1 L489.0,435.5 L490.0,433.5 L491.0,431.4 L492.0,429.1 L493.0,426.6 L494.0,424.0 L495.0,421.3 L496.0,418.6 L497.0,415.9 L498.0,413.3 L499.0,410.7 L500.0,408.3 L501.0,406.0 L502.0,403.9 L503.0,402.1 L504.0,400.6 L505.0,399.4 L506.0,398.5 L507.0,398.1 L508.0,398.1 L509.0,398.3 L510.0,398.8 L511.0,399.5 L512.0,400.4 L513.0,401.4 L514.0,402.6 L515.0,404.0 L516.0,405.5 L517.0,407.1 L518.0,408.7 L519.0,410.5 L520.0,412.3 L521.0,414.1 L522.0,416.0 L523.0,417.9 L524.0,419.7 L525.0,421.5 L526.0,423.3 L527.0,425.0 L528.0,426.6 L529.0,428.1 L530.0,429.5 L531.0,430.7 L532.0,431.8 L533.0,432.8 L534.0,433.5 L535.0,434.0 L536.0,434.3 L537.0,434.3 L538.0,434.1 L539.0,433.5 L540.0,432.6 L541.0,431.5 L542.0,430.1 L543.0,428.6 L544.0,426.9 L545.0,425.0 L546.0,423.1 L547.0,421.2 L548.0,419.1 L549.0,417.2 L550.0,415.2 L551.0,413.3 L552.0,411.5 L553.0,409.9 L554.0,408.4 L555.0,407.1 L556.0,406.0 L557.0,405.2 L558.0,404.7 L559.0,404.5 L560.0,404.6 L561.0,404.8 L562.0,405.0 L563.0,405.4 L564.0,405.9 L565.0,406.4 L566.0,407.0 L567.0,407.7 L568.0,408.5 L569.0,409.3 L570.0,410.2 L571.0,411.1 L572.0,412.1 L573.0,413.1 L574.0,414.1 L575.0,415.1 L576.0,416.2 L577.0,417.2 L578.0,418.3 L579.0,419.4 L580.0,420.4 L581.0,421.4 L582.0,422.4 L583.0,423.4 L584.0,424.3 L585.0,425.2 L586.0,426.0 L587.0,426.7 L588.0,427.4 L589.0,428.1 L590.0,428.6 L591.0,429.1 L592.0,429.5 L593.0,429.7 L594.0,429.9 L595.0,429.9 L596.0,429.8 L597.0,429.5 L598.0,428.9 L599.0,428.2 L600.0,427.3 L601.0,426.3 L602.0,425.1 L603.0,423.8 L604.0,422.5 L605.0,421.0 L606.0,419.6 L607.0,418.1 L608.0,416.6 L609.0,415.1 L610.0,413.7 L611.0,412.3 L612.0,411.0 L613.0,409.7 L614.0,408.6 L615.0,407.7 L616.0,406.9 L617.0,406.3 L618.0,405.8 L619.0,405.6 L620.0,405.7 L621.0,406.0 L622.0,406.7 L623.0,407.7 L624.0,408.9 L625.0,410.3 L626.0,411.9 L627.0,413.6 L628.0,415.5 L629.0,417.4 L630.0,419.4 L631.0,421.4 L632.0,423.4 L633.0,425.3 L634.0,427.2 L635.0,428.9 L636.0,430.5 L637.0,431.9 L638.0,433.1 L639.0,434.1 L640.0,434.8 L641.0,435.1 L642.0,435.2 L643.0,435.1 L644.0,434.8 L645.0,434.4 L646.0,433.9 L647.0,433.3 L648.0,432.6 L649.0,431.8 L650.0,431.0 L651.0,430.0 L652.0,429.0 L653.0,428.0 L654.0,426.9 L655.0,425.7 L656.0,424.5 L657.0,423.3 L658.0,422.1 L659.0,420.9 L660.0,419.7 L661.0,418.5 L662.0,417.3 L663.0,416.2 L664.0,415.0 L665.0,414.0 L666.0,413.0 L667.0,412.0 L668.0,411.1 L669.0,410.3 L670.0,409.6 L671.0,409.0 L672.0,408.5 L673.0,408.1 L674.0,407.8 L675.0,407.7 L676.0,407.7 L677.0,407.8 L678.0,408.0 L679.0,408.3 L680.0,408.6 L681.0,409.0 L682.0,409.5 L683.0,410.0" fill="none" stroke="#b6b6f6" stroke-width="2.6" stroke-linejoin="round" stroke-linecap="round"/>
<path d="M65.0,415.9 L66.0,416.8 L67.0,417.7 L68.0,418.6 L69.0,419.4 L70.0,420.0 L71.0,420.6 L72.0,421.0 L73.0,421.2 L74.0,421.3 L75.0,421.3 L76.0,421.2 L77.0,421.1 L78.0,420.9 L79.0,420.7 L80.0,420.5 L81.0,420.4 L82.0,420.3 L83.0,420.3 L84.0,420.3 L85.0,420.4 L86.0,420.5 L87.0,420.6 L88.0,420.7 L89.0,420.8 L90.0,420.9 L91.0,421.0 L92.0,421.2 L93.0,421.2 L94.0,421.3 L95.0,421.3 L96.0,421.3 L97.0,421.3 L98.0,421.1 L99.0,421.0 L100.0,420.8 L101.0,420.5 L102.0,420.3 L103.0,420.0 L104.0,419.7 L105.0,419.4 L106.0,419.1 L107.0,418.8 L108.0,418.5 L109.0,418.3 L110.0,418.0 L111.0,417.9 L112.0,417.7 L113.0,417.6 L114.0,417.6 L115.0,417.6 L116.0,417.6 L117.0,417.7 L118.0,417.8 L119.0,418.0 L120.0,418.1 L121.0,418.3 L122.0,418.5 L123.0,418.7 L124.0,419.0 L125.0,419.2 L126.0,419.5 L127.0,419.7 L128.0,420.0 L129.0,420.2 L130.0,420.5 L131.0,420.8 L132.0,421.3 L133.0,421.7 L134.0,422.2 L135.0,422.7 L136.0,423.1 L137.0,423.5 L138.0,423.8 L139.0,424.0 L140.0,424.1 L141.0,423.9 L142.0,423.6 L143.0,423.1 L144.0,422.5 L145.0,421.9 L146.0,421.4 L147.0,420.9 L148.0,420.6 L149.0,420.5 L150.0,420.6 L151.0,420.7 L152.0,420.9 L153.0,421.1 L154.0,421.3 L155.0,421.6 L156.0,421.8 L157.0,422.1 L158.0,422.3 L159.0,422.4 L160.0,422.6 L161.0,422.6 L162.0,422.4 L163.0,422.0 L164.0,421.4 L165.0,420.6 L166.0,419.8 L167.0,419.1 L168.0,418.5 L169.0,418.1 L170.0,418.0 L171.0,418.1 L172.0,418.3 L173.0,418.5 L174.0,418.9 L175.0,419.2 L176.0,419.6 L177.0,419.9 L178.0,420.2 L179.0,420.4 L180.0,420.5 L181.0,420.3 L182.0,419.7 L183.0,418.7 L184.0,417.8 L185.0,417.2 L186.0,417.3 L187.0,418.4 L188.0,420.2 L189.0,422.3 L190.0,424.2 L191.0,425.4 L192.0,425.7 L193.0,425.4 L194.0,424.9 L195.0,424.1 L196.0,423.1 L197.0,422.1 L198.0,421.1 L199.0,420.1 L200.0,419.3 L201.0,418.4 L202.0,417.4 L203.0,416.5 L204.0,415.6 L205.0,414.9 L206.0,414.5 L207.0,414.4 L208.0,414.5 L209.0,414.7 L210.0,414.9 L211.0,415.1 L212.0,415.2 L213.0,415.2 L214.0,415.1 L215.0,414.5 L216.0,413.8 L217.0,413.0 L218.0,412.2 L219.0,411.5 L220.0,411.1 L221.0,411.1 L222.0,411.2 L223.0,411.5 L224.0,412.0 L225.0,412.5 L226.0,413.1 L227.0,413.8 L228.0,414.4 L229.0,415.1 L230.0,415.7 L231.0,416.5 L232.0,417.4 L233.0,418.4 L234.0,419.4 L235.0,420.5 L236.0,421.6 L237.0,422.6 L238.0,423.6 L239.0,424.5 L240.0,425.3 L241.0,425.9 L242.0,426.4 L243.0,426.6 L244.0,426.6 L245.0,426.5 L246.0,426.3 L247.0,426.0 L248.0,425.6 L249.0,425.2 L250.0,424.7 L251.0,424.2 L252.0,423.7 L253.0,423.1 L254.0,422.4 L255.0,421.8 L256.0,421.2 L257.0,420.6 L258.0,420.0 L259.0,419.4 L260.0,418.8 L261.0,418.2 L262.0,417.6 L263.0,416.9 L264.0,416.1 L265.0,415.3 L266.0,414.5 L267.0,413.6 L268.0,412.8 L269.0,411.9 L270.0,411.1 L271.0,410.2 L272.0,409.4 L273.0,408.7 L274.0,408.0 L275.0,407.3 L276.0,406.7 L277.0,406.2 L278.0,405.8 L279.0,405.5 L280.0,405.3 L281.0,405.2 L282.0,405.2 L283.0,405.5 L284.0,406.0 L285.0,406.6 L286.0,407.4 L287.0,408.3 L288.0,409.4 L289.0,410.6 L290.0,411.9 L291.0,413.3 L292.0,414.8 L293.0,416.3 L294.0,417.9 L295.0,419.6 L296.0,421.2 L297.0,422.9 L298.0,424.6 L299.0,426.3 L300.0,427.9 L301.0,429.5 L302.0,431.1 L303.0,432.5 L304.0,433.9 L305.0,435.2 L306.0,436.4 L307.0,437.5 L308.0,438.5 L309.0,439.2 L310.0,439.9 L311.0,440.3 L312.0,440.6 L313.0,440.7 L314.0,440.4 L315.0,439.9 L316.0,439.1 L317.0,438.1 L318.0,436.8 L319.0,435.4 L320.0,433.8 L321.0,432.0 L322.0,430.0 L323.0,428.0 L324.0,425.9 L325.0,423.7 L326.0,421.5 L327.0,419.3 L328.0,417.1 L329.0,414.9 L330.0,412.8 L331.0,410.7 L332.0,408.8 L333.0,407.0 L334.0,405.3 L335.0,403.8 L336.0,402.5 L337.0,401.4 L338.0,400.6 L339.0,400.0 L340.0,399.7 L341.0,399.8 L342.0,400.0 L343.0,400.5 L344.0,401.2 L345.0,402.1 L346.0,403.2 L347.0,404.4 L348.0,405.8 L349.0,407.3 L350.0,408.9 L351.0,410.5 L352.0,412.3 L353.0,414.1 L354.0,415.9 L355.0,417.7 L356.0,419.6 L357.0,421.4 L358.0,423.2 L359.0,424.9 L360.0,426.5 L361.0,428.1 L362.0,429.6 L363.0,430.9 L364.0,432.1 L365.0,433.1 L366.0,433.9 L367.0,434.6 L368.0,435.0 L369.0,435.2 L370.0,435.1 L371.0,434.8 L372.0,434.2 L373.0,433.4 L374.0,432.3 L375.0,431.1 L376.0,429.7 L377.0,428.1 L378.0,426.4 L379.0,424.7 L380.0,422.8 L381.0,420.9 L382.0,419.0 L383.0,417.0 L384.0,415.1 L385.0,413.2 L386.0,411.4 L387.0,409.6 L388.0,407.9 L389.0,406.4 L390.0,405.0 L391.0,403.8 L392.0,402.8 L393.0,402.1 L394.0,401.5 L395.0,401.2 L396.0,401.2 L397.0,401.4 L398.0,401.8 L399.0,402.4 L400.0,403.2 L401.0,404.1 L402.0,405.1 L403.0,406.3 L404.0,407.6 L405.0,409.0 L406.0,410.5 L407.0,412.0 L408.0,413.7 L409.0,415.3 L410.0,417.0 L411.0,418.8 L412.0,420.5 L413.0,422.3 L414.0,424.0 L415.0,425.7 L416.0,427.3 L417.0,428.9 L418.0,430.4 L419.0,431.9 L420.0,433.2 L421.0,434.5 L422.0,435.6 L423.0,436.6 L424.0,437.4 L425.0,438.1 L426.0,438.6 L427.0,438.9 L428.0,439.0 L429.0,438.9 L430.0,438.6 L431.0,438.1 L432.0,437.5 L433.0,436.7 L434.0,435.8 L435.0,434.8 L436.0,433.6 L437.0,432.4 L438.0,431.0 L439.0,429.6 L440.0,428.1 L441.0,426.5 L442.0,424.9 L443.0,423.2 L444.0,421.6 L445.0,419.9 L446.0,418.2 L447.0,416.5 L448.0,414.9 L449.0,413.3 L450.0,411.7 L451.0,410.2 L452.0,408.8 L453.0,407.5 L454.0,406.2 L455.0,405.1 L456.0,404.0 L457.0,403.1 L458.0,402.4 L459.0,401.8 L460.0,401.3 L461.0,401.0 L462.0,401.0 L463.0,401.1 L464.0,401.4 L465.0,402.0 L466.0,402.7 L467.0,403.6 L468.0,404.6 L469.0,405.7 L470.0,407.0 L471.0,408.3 L472.0,409.7 L473.0,411.2 L474.0,412.7 L475.0,414.2 L476.0,415.7 L477.0,417.2 L478.0,418.7 L479.0,420.2 L480.0,421.6 L481.0,422.9 L482.0,424.1 L483.0,425.2 L484.0,426.2 L485.0,427.0 L486.0,427.6 L487.0,428.1 L488.0,428.4 L489.0,428.5 L490.0,428.3 L491.0,427.8 L492.0,427.0 L493.0,426.1 L494.0,424.9 L495.0,423.6 L496.0,422.1 L497.0,420.6 L498.0,419.0 L499.0,417.3 L500.0,415.7 L501.0,414.0 L502.0,412.4 L503.0,410.9 L504.0,409.5 L505.0,408.3 L506.0,407.2 L507.0,406.3 L508.0,405.7 L509.0,405.3 L510.0,405.2 L511.0,405.3 L512.0,405.4 L513.0,405.7 L514.0,406.1 L515.0,406.6 L516.0,407.2 L517.0,407.8 L518.0,408.5 L519.0,409.3 L520.0,410.1 L521.0,411.0 L522.0,411.9 L523.0,412.9 L524.0,413.9 L525.0,414.8 L526.0,415.9 L527.0,416.9 L528.0,417.9 L529.0,418.9 L530.0,419.9 L531.0,420.8 L532.0,421.8 L533.0,422.7 L534.0,423.5 L535.0,424.3 L536.0,425.1 L537.0,425.7 L538.0,426.3 L539.0,426.9 L540.0,427.3 L541.0,427.6 L542.0,427.9 L543.0,428.0 L544.0,428.1 L545.0,427.9 L546.0,427.5 L547.0,427.0 L548.0,426.4 L549.0,425.6 L550.0,424.6 L551.0,423.6 L552.0,422.6 L553.0,421.4 L554.0,420.2 L555.0,419.0 L556.0,417.8 L557.0,416.7 L558.0,415.5 L559.0,414.4 L560.0,413.4 L561.0,412.5 L562.0,411.6 L563.0,410.9 L564.0,410.4 L565.0,410.0 L566.0,409.8 L567.0,409.8 L568.0,409.9 L569.0,410.2 L570.0,410.6 L571.0,411.0 L572.0,411.6 L573.0,412.2 L574.0,412.9 L575.0,413.7 L576.0,414.5 L577.0,415.3 L578.0,416.2 L579.0,417.1 L580.0,417.9 L581.0,418.8 L582.0,419.7 L583.0,420.5 L584.0,421.3 L585.0,422.0 L586.0,422.7 L587.0,423.2 L588.0,423.8 L589.0,424.2 L590.0,424.5 L591.0,424.6 L592.0,424.7 L593.0,424.6 L594.0,424.4 L595.0,424.1 L596.0,423.7 L597.0,423.2 L598.0,422.7 L599.0,422.0 L600.0,421.4 L601.0,420.6 L602.0,419.8 L603.0,419.0 L604.0,418.2 L605.0,417.3 L606.0,416.5 L607.0,415.6 L608.0,414.8 L609.0,414.0 L610.0,413.3 L611.0,412.6 L612.0,411.9 L613.0,411.4 L614.0,410.8 L615.0,410.4 L616.0,410.1 L617.0,409.9 L618.0,409.8 L619.0,409.8 L620.0,410.0 L621.0,410.3 L622.0,410.7 L623.0,411.1 L624.0,411.7 L625.0,412.4 L626.0,413.2 L627.0,414.0 L628.0,414.8 L629.0,415.8 L630.0,416.7 L631.0,417.7 L632.0,418.7 L633.0,419.7 L634.0,420.7 L635.0,421.7 L636.0,422.7 L637.0,423.7 L638.0,424.6 L639.0,425.5 L640.0,426.3 L641.0,427.1 L642.0,427.8 L643.0,428.4 L644.0,429.0 L645.0,429.4 L646.0,429.7 L647.0,429.9 L648.0,429.9 L649.0,429.9 L650.0,429.7 L651.0,429.5 L652.0,429.2 L653.0,428.8 L654.0,428.3 L655.0,427.7 L656.0,427.1 L657.0,426.4 L658.0,425.7 L659.0,424.9 L660.0,424.1 L661.0,423.3 L662.0,422.5 L663.0,421.6 L664.0,420.7 L665.0,419.9 L666.0,419.0 L667.0,418.1 L668.0,417.3 L669.0,416.5 L670.0,415.7 L671.0,414.9 L672.0,414.2 L673.0,413.6 L674.0,413.0 L675.0,412.4 L676.0,411.9 L677.0,411.6 L678.0,411.2 L679.0,411.0 L680.0,410.9 L681.0,410.9 L682.0,411.4 L683.0,412.1" fill="none" stroke="#3636f5" stroke-width="2.6" stroke-linejoin="round" stroke-linecap="round"/>
<path d="M65.0,416.9 L66.0,416.9 L67.0,417.0 L68.0,417.0 L69.0,417.1 L70.0,417.2 L71.0,417.3 L72.0,417.3 L73.0,417.6 L74.0,418.1 L75.0,418.7 L76.0,419.5 L77.0,420.4 L78.0,421.3 L79.0,422.3 L80.0,423.1 L81.0,423.9 L82.0,424.5 L83.0,424.9 L84.0,425.1 L85.0,425.0 L86.0,424.7 L87.0,424.2 L88.0,423.6 L89.0,422.8 L90.0,422.1 L91.0,421.4 L92.0,420.7 L93.0,420.1 L94.0,419.7 L95.0,419.5 L96.0,419.5 L97.0,419.7 L98.0,420.0 L99.0,420.5 L100.0,421.0 L101.0,421.6 L102.0,422.2 L103.0,422.8 L104.0,423.2 L105.0,423.6 L106.0,423.8 L107.0,423.9 L108.0,423.8 L109.0,423.6 L110.0,423.4 L111.0,423.2 L112.0,422.9 L113.0,422.5 L114.0,422.2 L115.0,421.8 L116.0,421.4 L117.0,421.1 L118.0,420.7 L119.0,420.3 L120.0,419.8 L121.0,419.3 L122.0,418.7 L123.0,418.1 L124.0,417.5 L125.0,417.0 L126.0,416.6 L127.0,416.4 L128.0,416.3 L129.0,416.5 L130.0,417.0 L131.0,417.8 L132.0,418.7 L133.0,419.6 L134.0,420.6 L135.0,421.5 L136.0,422.1 L137.0,422.5 L138.0,422.6 L139.0,422.3 L140.0,421.7 L141.0,420.9 L142.0,420.0 L143.0,418.9 L144.0,417.9 L145.0,416.8 L146.0,415.9 L147.0,415.1 L148.0,414.5 L149.0,414.2 L150.0,414.3 L151.0,414.8 L152.0,415.5 L153.0,416.6 L154.0,417.7 L155.0,418.8 L156.0,419.8 L157.0,420.6 L158.0,421.0 L159.0,421.1 L160.0,420.8 L161.0,420.3 L162.0,419.6 L163.0,418.8 L164.0,417.9 L165.0,417.0 L166.0,416.2 L167.0,415.5 L168.0,414.9 L169.0,414.6 L170.0,414.5 L171.0,414.5 L172.0,414.4 L173.0,414.3 L174.0,414.3 L175.0,414.2 L176.0,414.1 L177.0,413.9 L178.0,413.7 L179.0,413.5 L180.0,413.2 L181.0,413.0 L182.0,412.7 L183.0,412.4 L184.0,412.1 L185.0,411.9 L186.0,411.6 L187.0,411.4 L188.0,411.3 L189.0,411.1 L190.0,411.1 L191.0,411.1 L192.0,411.2 L193.0,411.4 L194.0,411.8 L195.0,412.1 L196.0,412.5 L197.0,412.7 L198.0,412.7 L199.0,412.5 L200.0,411.9 L201.0,411.2 L202.0,410.3 L203.0,409.4 L204.0,408.6 L205.0,407.9 L206.0,407.5 L207.0,407.5 L208.0,407.9 L209.0,408.6 L210.0,409.6 L211.0,410.9 L212.0,412.3 L213.0,413.9 L214.0,415.5 L215.0,417.1 L216.0,418.7 L217.0,420.1 L218.0,421.4 L219.0,422.4 L220.0,423.2 L221.0,423.6 L222.0,423.6 L223.0,423.1 L224.0,422.2 L225.0,421.1 L226.0,419.8 L227.0,418.4 L228.0,417.1 L229.0,415.9 L230.0,415.0 L231.0,414.4 L232.0,414.2 L233.0,413.9 L234.0,413.6 L235.0,413.4 L236.0,413.2 L237.0,413.0 L238.0,412.8 L239.0,412.6 L240.0,412.5 L241.0,412.4 L242.0,412.3 L243.0,412.2 L244.0,412.1 L245.0,412.1 L246.0,412.1 L247.0,412.1 L248.0,412.0 L249.0,412.0 L250.0,412.0 L251.0,412.0 L252.0,412.0 L253.0,411.9 L254.0,411.9 L255.0,411.9 L256.0,411.9 L257.0,411.9 L258.0,411.9 L259.0,411.9 L260.0,411.9 L261.0,411.9 L262.0,412.1 L263.0,412.3 L264.0,412.6 L265.0,412.9 L266.0,413.3 L267.0,413.8 L268.0,414.2 L269.0,414.8 L270.0,415.3 L271.0,415.9 L272.0,416.4 L273.0,417.0 L274.0,417.6 L275.0,418.1 L276.0,418.6 L277.0,419.1 L278.0,419.5 L279.0,419.9 L280.0,420.3 L281.0,420.6 L282.0,420.8 L283.0,420.9 L284.0,420.9 L285.0,420.8 L286.0,420.7 L287.0,420.4 L288.0,420.0 L289.0,419.5 L290.0,419.0 L291.0,418.4 L292.0,417.8 L293.0,417.1 L294.0,416.4 L295.0,415.7 L296.0,415.0 L297.0,414.3 L298.0,413.6 L299.0,413.0 L300.0,412.4 L301.0,411.9 L302.0,411.4 L303.0,411.0 L304.0,410.7 L305.0,410.5 L306.0,410.4 L307.0,410.5 L308.0,410.6 L309.0,411.0 L310.0,411.4 L311.0,411.9 L312.0,412.5 L313.0,413.1 L314.0,413.8 L315.0,414.6 L316.0,415.3 L317.0,416.1 L318.0,416.9 L319.0,417.6 L320.0,418.4 L321.0,419.0 L322.0,419.7 L323.0,420.2 L324.0,420.7 L325.0,421.0 L326.0,421.2 L327.0,421.3 L328.0,421.3 L329.0,421.2 L330.0,421.1 L331.0,420.9 L332.0,420.6 L333.0,420.3 L334.0,420.0 L335.0,419.7 L336.0,419.4 L337.0,419.0 L338.0,418.7 L339.0,418.4 L340.0,418.1 L341.0,417.9 L342.0,417.7 L343.0,417.5 L344.0,417.4 L345.0,417.3 L346.0,417.4 L347.0,417.7 L348.0,418.1 L349.0,418.5 L350.0,419.1 L351.0,419.6 L352.0,420.1 L353.0,420.6 L354.0,421.0 L355.0,421.2 L356.0,421.3 L357.0,421.3 L358.0,421.1 L359.0,420.9 L360.0,420.5 L361.0,420.2 L362.0,419.8 L363.0,419.3 L364.0,418.9 L365.0,418.5 L366.0,418.1 L367.0,417.8 L368.0,417.6 L369.0,417.4 L370.0,417.3 L371.0,417.4 L372.0,417.5 L373.0,417.8 L374.0,418.0 L375.0,418.4 L376.0,418.8 L377.0,419.2 L378.0,419.7 L379.0,420.2 L380.0,420.6 L381.0,421.1 L382.0,421.6 L383.0,422.0 L384.0,422.4 L385.0,422.7 L386.0,423.0 L387.0,423.3 L388.0,423.4 L389.0,423.4 L390.0,423.3 L391.0,422.9 L392.0,422.3 L393.0,421.5 L394.0,420.7 L395.0,419.8 L396.0,418.9 L397.0,418.1 L398.0,417.5 L399.0,417.0 L400.0,416.7 L401.0,416.6 L402.0,416.5 L403.0,416.4 L404.0,416.3 L405.0,416.2 L406.0,416.2 L407.0,416.1 L408.0,416.0 L409.0,416.0 L410.0,416.0 L411.0,415.9 L412.0,415.9 L413.0,415.9 L414.0,415.9 L415.0,415.9 L416.0,416.1 L417.0,416.3 L418.0,416.6 L419.0,416.8 L420.0,417.1 L421.0,417.4 L422.0,417.7 L423.0,417.9 L424.0,418.0 L425.0,418.0 L426.0,418.1 L427.0,418.2 L428.0,418.2 L429.0,418.3 L430.0,418.3 L431.0,418.3 L432.0,418.4 L433.0,418.4 L434.0,418.4 L435.0,418.4 L436.0,418.4 L437.0,418.3 L438.0,418.3 L439.0,418.2 L440.0,418.1 L441.0,418.0 L442.0,417.9 L443.0,417.7 L444.0,417.6 L445.0,417.5 L446.0,417.4 L447.0,417.3 L448.0,417.3 L449.0,417.2 L450.0,417.2 L451.0,417.1 L452.0,417.0 L453.0,417.0 L454.0,416.9 L455.0,416.9 L456.0,416.8 L457.0,416.8 L458.0,416.7 L459.0,416.7 L460.0,416.7 L461.0,416.7 L462.0,416.8 L463.0,416.9 L464.0,417.0 L465.0,417.1 L466.0,417.3 L467.0,417.4 L468.0,417.5 L469.0,417.5 L470.0,417.6 L471.0,417.5 L472.0,417.5 L473.0,417.4 L474.0,417.3 L475.0,417.1 L476.0,417.0 L477.0,416.8 L478.0,416.6 L479.0,416.5 L480.0,416.3 L481.0,416.1 L482.0,415.9 L483.0,415.7 L484.0,415.5 L485.0,415.3 L486.0,415.3 L487.0,415.3 L488.0,415.4 L489.0,415.6 L490.0,415.9 L491.0,416.2 L492.0,416.6 L493.0,416.9 L494.0,417.1 L495.0,417.3 L496.0,417.3 L497.0,417.3 L498.0,417.2 L499.0,417.1 L500.0,416.9 L501.0,416.7 L502.0,416.6 L503.0,416.4 L504.0,416.3 L505.0,416.3 L506.0,416.5 L507.0,416.9 L508.0,417.5 L509.0,418.3 L510.0,419.2 L511.0,420.2 L512.0,421.1 L513.0,422.0 L514.0,422.8 L515.0,423.4 L516.0,423.8 L517.0,423.9 L518.0,423.7 L519.0,423.5 L520.0,423.1 L521.0,422.6 L522.0,422.0 L523.0,421.3 L524.0,420.5 L525.0,419.7 L526.0,418.9 L527.0,418.0 L528.0,417.2 L529.0,416.3 L530.0,415.5 L531.0,414.7 L532.0,414.0 L533.0,413.3 L534.0,412.7 L535.0,412.3 L536.0,411.9 L537.0,411.7 L538.0,411.7 L539.0,411.8 L540.0,412.0 L541.0,412.3 L542.0,412.7 L543.0,413.1 L544.0,413.6 L545.0,414.1 L546.0,414.5 L547.0,415.0 L548.0,415.3 L549.0,415.6 L550.0,415.9 L551.0,416.2 L552.0,416.5 L553.0,416.8 L554.0,417.0 L555.0,417.3 L556.0,417.5 L557.0,417.7 L558.0,417.9 L559.0,418.1 L560.0,418.1 L561.0,418.2 L562.0,418.1 L563.0,417.9 L564.0,417.6 L565.0,417.2 L566.0,416.9 L567.0,416.7 L568.0,416.8 L569.0,417.0 L570.0,417.4 L571.0,417.9 L572.0,418.4 L573.0,418.7 L574.0,418.8 L575.0,418.8 L576.0,418.7 L577.0,418.6 L578.0,418.4 L579.0,418.2 L580.0,418.0 L581.0,417.9 L582.0,417.7 L583.0,417.6 L584.0,417.6 L585.0,417.6 L586.0,417.7 L587.0,417.9 L588.0,418.2 L589.0,418.5 L590.0,418.8 L591.0,419.0 L592.0,419.2 L593.0,419.2 L594.0,419.1 L595.0,418.9 L596.0,418.6 L597.0,418.2 L598.0,417.9 L599.0,417.5 L600.0,417.3 L601.0,417.2 L602.0,417.2 L603.0,417.8 L604.0,418.7 L605.0,419.7 L606.0,420.6 L607.0,421.2 L608.0,421.3 L609.0,420.9 L610.0,420.2 L611.0,419.3 L612.0,418.4 L613.0,417.6 L614.0,417.2 L615.0,417.0 L616.0,416.8 L617.0,416.7 L618.0,416.5 L619.0,416.4 L620.0,416.3 L621.0,416.2 L622.0,416.2 L623.0,416.1 L624.0,416.1 L625.0,416.1 L626.0,416.2 L627.0,416.3 L628.0,416.5 L629.0,416.7 L630.0,417.0 L631.0,417.4 L632.0,417.7 L633.0,418.1 L634.0,418.9 L635.0,420.1 L636.0,421.7 L637.0,423.3 L638.0,424.6 L639.0,425.4 L640.0,425.5 L641.0,425.4 L642.0,425.1 L643.0,424.8 L644.0,424.4 L645.0,424.0 L646.0,423.7 L647.0,423.5 L648.0,423.4 L649.0,423.5 L650.0,423.8 L651.0,424.1 L652.0,424.6 L653.0,425.1 L654.0,425.6 L655.0,426.2 L656.0,426.7 L657.0,427.1 L658.0,427.4 L659.0,427.6 L660.0,427.6 L661.0,427.4 L662.0,427.0 L663.0,426.4 L664.0,425.7 L665.0,425.0 L666.0,424.2 L667.0,423.4 L668.0,422.6 L669.0,421.5 L670.0,420.4 L671.0,419.4 L672.0,418.5 L673.0,417.7 L674.0,416.8 L675.0,416.0 L676.0,415.2 L677.0,414.4 L678.0,413.7 L679.0,413.0 L680.0,412.3 L681.0,411.6 L682.0,411.0 L683.0,410.4" fill="none" stroke="#000000" stroke-width="2.6" stroke-linejoin="round" stroke-linecap="round"/>
</g>
<rect x="64.5" y="292.7" width="618.95" height="250.8" fill="none" stroke="#000" stroke-width="2.7"/>
<line x1="201.7" y1="543.5" x2="201.7" y2="537.5" stroke="#000" stroke-width="2.4" />
<line x1="201.7" y1="292.7" x2="201.7" y2="298.7" stroke="#000" stroke-width="2.4" />
<line x1="339.3" y1="543.5" x2="339.3" y2="537.5" stroke="#000" stroke-width="2.4" />
<line x1="339.3" y1="292.7" x2="339.3" y2="298.7" stroke="#000" stroke-width="2.4" />
<line x1="476.9" y1="543.5" x2="476.9" y2="537.5" stroke="#000" stroke-width="2.4" />
<line x1="476.9" y1="292.7" x2="476.9" y2="298.7" stroke="#000" stroke-width="2.4" />
<line x1="614.5" y1="543.5" x2="614.5" y2="537.5" stroke="#000" stroke-width="2.4" />
<line x1="614.5" y1="292.7" x2="614.5" y2="298.7" stroke="#000" stroke-width="2.4" />
<line x1="91.62" y1="543.5" x2="91.62" y2="539.5" stroke="#000" stroke-width="2.4" />
<line x1="91.62" y1="292.7" x2="91.62" y2="296.7" stroke="#000" stroke-width="2.4" />
<line x1="119.14" y1="543.5" x2="119.14" y2="539.5" stroke="#000" stroke-width="2.4" />
<line x1="119.14" y1="292.7" x2="119.14" y2="296.7" stroke="#000" stroke-width="2.4" />
<line x1="146.66" y1="543.5" x2="146.66" y2="539.5" stroke="#000" stroke-width="2.4" />
<line x1="146.66" y1="292.7" x2="146.66" y2="296.7" stroke="#000" stroke-width="2.4" />
<line x1="174.18" y1="543.5" x2="174.18" y2="539.5" stroke="#000" stroke-width="2.4" />
<line x1="174.18" y1="292.7" x2="174.18" y2="296.7" stroke="#000" stroke-width="2.4" />
<line x1="229.22" y1="543.5" x2="229.22" y2="539.5" stroke="#000" stroke-width="2.4" />
<line x1="229.22" y1="292.7" x2="229.22" y2="296.7" stroke="#000" stroke-width="2.4" />
<line x1="256.74" y1="543.5" x2="256.74" y2="539.5" stroke="#000" stroke-width="2.4" />
<line x1="256.74" y1="292.7" x2="256.74" y2="296.7" stroke="#000" stroke-width="2.4" />
<line x1="284.26" y1="543.5" x2="284.26" y2="539.5" stroke="#000" stroke-width="2.4" />
<line x1="284.26" y1="292.7" x2="284.26" y2="296.7" stroke="#000" stroke-width="2.4" />
<line x1="311.78" y1="543.5" x2="311.78" y2="539.5" stroke="#000" stroke-width="2.4" />
<line x1="311.78" y1="292.7" x2="311.78" y2="296.7" stroke="#000" stroke-width="2.4" />
<line x1="366.82" y1="543.5" x2="366.82" y2="539.5" stroke="#000" stroke-width="2.4" />
<line x1="366.82" y1="292.7" x2="366.82" y2="296.7" stroke="#000" stroke-width="2.4" />
<line x1="394.34" y1="543.5" x2="394.34" y2="539.5" stroke="#000" stroke-width="2.4" />
<line x1="394.34" y1="292.7" x2="394.34" y2="296.7" stroke="#000" stroke-width="2.4" />
<line x1="421.86" y1="543.5" x2="421.86" y2="539.5" stroke="#000" stroke-width="2.4" />
<line x1="421.86" y1="292.7" x2="421.86" y2="296.7" stroke="#000" stroke-width="2.4" />
<line x1="449.38" y1="543.5" x2="449.38" y2="539.5" stroke="#000" stroke-width="2.4" />
<line x1="449.38" y1="292.7" x2="449.38" y2="296.7" stroke="#000" stroke-width="2.4" />
<line x1="504.42" y1="543.5" x2="504.42" y2="539.5" stroke="#000" stroke-width="2.4" />
<line x1="504.42" y1="292.7" x2="504.42" y2="296.7" stroke="#000" stroke-width="2.4" />
<line x1="531.94" y1="543.5" x2="531.94" y2="539.5" stroke="#000" stroke-width="2.4" />
<line x1="531.94" y1="292.7" x2="531.94" y2="296.7" stroke="#000" stroke-width="2.4" />
<line x1="559.46" y1="543.5" x2="559.46" y2="539.5" stroke="#000" stroke-width="2.4" />
<line x1="559.46" y1="292.7" x2="559.46" y2="296.7" stroke="#000" stroke-width="2.4" />
<line x1="586.98" y1="543.5" x2="586.98" y2="539.5" stroke="#000" stroke-width="2.4" />
<line x1="586.98" y1="292.7" x2="586.98" y2="296.7" stroke="#000" stroke-width="2.4" />
<line x1="642.02" y1="543.5" x2="642.02" y2="539.5" stroke="#000" stroke-width="2.4" />
<line x1="642.02" y1="292.7" x2="642.02" y2="296.7" stroke="#000" stroke-width="2.4" />
<line x1="669.54" y1="543.5" x2="669.54" y2="539.5" stroke="#000" stroke-width="2.4" />
<line x1="669.54" y1="292.7" x2="669.54" y2="296.7" stroke="#000" stroke-width="2.4" />
<line x1="64.5" y1="523.4" x2="70.5" y2="523.4" stroke="#000" stroke-width="2.4" />
<line x1="683.45" y1="523.4" x2="677.45" y2="523.4" stroke="#000" stroke-width="2.4" />
<line x1="64.5" y1="418.4" x2="70.5" y2="418.4" stroke="#000" stroke-width="2.4" />
<line x1="683.45" y1="418.4" x2="677.45" y2="418.4" stroke="#000" stroke-width="2.4" />
<line x1="64.5" y1="313.4" x2="70.5" y2="313.4" stroke="#000" stroke-width="2.4" />
<line x1="683.45" y1="313.4" x2="677.45" y2="313.4" stroke="#000" stroke-width="2.4" />
<line x1="64.5" y1="470.9" x2="68.5" y2="470.9" stroke="#000" stroke-width="2.4" />
<line x1="683.45" y1="470.9" x2="679.45" y2="470.9" stroke="#000" stroke-width="2.4" />
<line x1="64.5" y1="365.9" x2="68.5" y2="365.9" stroke="#000" stroke-width="2.4" />
<line x1="683.45" y1="365.9" x2="679.45" y2="365.9" stroke="#000" stroke-width="2.4" />
<text x="65.1" y="566.7" font-size="22" text-anchor="middle" fill="#000" >−4</text>
<text x="202.7" y="566.7" font-size="22" text-anchor="middle" fill="#000" >−2</text>
<text x="340.3" y="566.7" font-size="22" text-anchor="middle" fill="#000" >0</text>
<text x="477.9" y="566.7" font-size="22" text-anchor="middle" fill="#000" >2</text>
<text x="615.5" y="566.7" font-size="22" text-anchor="middle" fill="#000" >4</text>
<text x="50.5" y="320.7" font-size="22" text-anchor="end" fill="#000" >5</text>
<text x="50.5" y="424.7" font-size="22" text-anchor="end" fill="#000" >0</text>
<text x="50.5" y="530.1" font-size="22" text-anchor="end" fill="#000" >−5</text>
<text x="99" y="325.5" font-size="27.5" text-anchor="start" fill="#000" >b</text>
<rect x="441.00" y="214.2" width="29.30" height="22.6" fill="#000000"/>
<rect x="470.00" y="214.2" width="29.30" height="22.6" fill="#2424b4"/>
<rect x="499.00" y="214.2" width="29.30" height="22.6" fill="#6464f4"/>
<rect x="528.00" y="214.2" width="29.30" height="22.6" fill="#c0b6dc"/>
<rect x="557.00" y="214.2" width="29.30" height="22.6" fill="#f6bf50"/>
<rect x="586.00" y="214.2" width="29.30" height="22.6" fill="#ff8200"/>
<rect x="615.00" y="214.2" width="29.30" height="22.6" fill="#ff4200"/>
<rect x="644.00" y="214.2" width="29.30" height="22.6" fill="#ff0000"/>
<rect x="441.0" y="214.2" width="232.00" height="22.6" fill="none" stroke="#000" stroke-width="1.3"/>
<text x="466.3" y="233.2" font-size="22" fill="#fff">0.25</text>
<text x="515.3" y="233.2" font-size="22" fill="#fff">0.5</text>
<text x="565.2" y="233.2" font-size="22" fill="#fff">0.75</text>
<text x="651.6" y="233.2" font-size="22" fill="#fff">1</text>
<text x="506.6" y="204.4" font-size="26.5" font-style="italic">E</text>
<text x="523" y="210.1" font-size="16.5">T</text>
<text x="539.5" y="204.4" font-size="26.5">/</text>
<text x="552.8" y="204.4" font-size="26.5" font-style="italic">E</text>
<text x="568" y="210.1" font-size="16.5">T</text>
<text x="579" y="194" font-size="17.5">max</text>
<rect x="485.60" y="511.4" width="31.28" height="22.3" fill="#000000"/>
<rect x="516.58" y="511.4" width="31.28" height="22.3" fill="#3434f8"/>
<rect x="547.56" y="511.4" width="31.28" height="22.3" fill="#b6b6f6"/>
<rect x="578.54" y="511.4" width="31.28" height="22.3" fill="#ffb400"/>
<rect x="609.52" y="511.4" width="31.28" height="22.3" fill="#ff5e00"/>
<rect x="640.50" y="511.4" width="31.28" height="22.3" fill="#ff0000"/>
<rect x="485.6" y="511.4" width="185.88" height="22.3" fill="none" stroke="#000" stroke-width="1.5"/>
<text x="501.09" y="531.3" font-size="21.5" fill="#fff" text-anchor="middle">0</text>
<text x="532.07" y="531.3" font-size="21.5" fill="#fff" text-anchor="middle">1</text>
<text x="563.05" y="531.3" font-size="21.5" fill="#fff" text-anchor="middle">2</text>
<text x="594.03" y="531.3" font-size="21.5" fill="#fff" text-anchor="middle">3</text>
<text x="625.01" y="531.3" font-size="21.5" fill="#fff" text-anchor="middle">4</text>
<text x="655.99" y="531.3" font-size="21.5" fill="#fff" text-anchor="middle">5</text>
<text x="490.5" y="500.2" font-size="26.5">PCA voltage (V)</text>
<text x="371.3" y="587.7" font-size="26.5" text-anchor="middle" fill="#000" >Time, t (ps)</text>
<text transform="translate(18.4,292.7) rotate(-90)" font-size="26.3" text-anchor="middle">FWM signal (arb.units)</text>
<defs><radialGradient id="ball" cx="0.5" cy="0.5" r="0.5" fx="0.35" fy="0.33">
<stop offset="0" stop-color="#ffffff"/><stop offset="0.14" stop-color="#f4f4f4"/><stop offset="0.3" stop-color="#a8a8a8"/><stop offset="0.45" stop-color="#404040"/><stop offset="0.58" stop-color="#080808"/><stop offset="1" stop-color="#000"/></radialGradient></defs>
<line x1="97.2" y1="728.7" x2="97.2" y2="906" stroke="#111" stroke-width="1.4"/>
<line x1="94.0" y1="728.7" x2="100.4" y2="728.7" stroke="#111" stroke-width="1.7"/>
<line x1="137.9" y1="714.4" x2="137.9" y2="814" stroke="#111" stroke-width="1.4"/>
<line x1="134.70000000000002" y1="714.4" x2="141.1" y2="714.4" stroke="#111" stroke-width="1.7"/>
<line x1="134.70000000000002" y1="814" x2="141.1" y2="814" stroke="#111" stroke-width="1.7"/>
<line x1="170.6" y1="696.5" x2="170.6" y2="729.5" stroke="#111" stroke-width="1.4"/>
<line x1="167.4" y1="696.5" x2="173.79999999999998" y2="696.5" stroke="#111" stroke-width="1.7"/>
<line x1="167.4" y1="729.5" x2="173.79999999999998" y2="729.5" stroke="#111" stroke-width="1.7"/>
<line x1="218.8" y1="675.1" x2="218.8" y2="689.6" stroke="#111" stroke-width="1.4"/>
<line x1="215.60000000000002" y1="675.1" x2="222.0" y2="675.1" stroke="#111" stroke-width="1.7"/>
<line x1="215.60000000000002" y1="689.6" x2="222.0" y2="689.6" stroke="#111" stroke-width="1.7"/>
<circle cx="97.20" cy="770.80" r="6.8" fill="url(#ball)"/>
<circle cx="137.90" cy="738.40" r="6.8" fill="url(#ball)"/>
<circle cx="170.60" cy="710.00" r="6.8" fill="url(#ball)"/>
<circle cx="218.80" cy="681.50" r="6.8" fill="url(#ball)"/>
<circle cx="252.90" cy="665.00" r="6.8" fill="url(#ball)"/>
<circle cx="276.20" cy="653.30" r="6.8" fill="url(#ball)"/>
<circle cx="292.20" cy="651.30" r="6.8" fill="url(#ball)"/>
<circle cx="304.60" cy="646.30" r="6.8" fill="url(#ball)"/>
<circle cx="300.90" cy="644.30" r="6.8" fill="url(#ball)"/>
<line x1="86" y1="779.1" x2="303.7" y2="618.8" stroke="#ff0000" stroke-width="2.8" stroke-dasharray="7 4.97"/>
<rect x="79.9" y="617.3" width="242.4" height="288.9" fill="none" stroke="#000" stroke-width="2.6"/>
<line x1="81.1" y1="906.2" x2="81.1" y2="900.8" stroke="#000" stroke-width="2.1" />
<line x1="81.1" y1="617.3" x2="81.1" y2="622.7" stroke="#000" stroke-width="2.1" />
<line x1="304.6" y1="906.2" x2="304.6" y2="900.8" stroke="#000" stroke-width="2.1" />
<line x1="304.6" y1="617.3" x2="304.6" y2="622.7" stroke="#000" stroke-width="2.1" />
<line x1="148.38" y1="906.2" x2="148.38" y2="903" stroke="#000" stroke-width="2.1" />
<line x1="148.38" y1="617.3" x2="148.38" y2="620.5" stroke="#000" stroke-width="2.1" />
<line x1="187.74" y1="906.2" x2="187.74" y2="903" stroke="#000" stroke-width="2.1" />
<line x1="187.74" y1="617.3" x2="187.74" y2="620.5" stroke="#000" stroke-width="2.1" />
<line x1="215.66" y1="906.2" x2="215.66" y2="903" stroke="#000" stroke-width="2.1" />
<line x1="215.66" y1="617.3" x2="215.66" y2="620.5" stroke="#000" stroke-width="2.1" />
<line x1="237.32" y1="906.2" x2="237.32" y2="903" stroke="#000" stroke-width="2.1" />
<line x1="237.32" y1="617.3" x2="237.32" y2="620.5" stroke="#000" stroke-width="2.1" />
<line x1="255.02" y1="906.2" x2="255.02" y2="903" stroke="#000" stroke-width="2.1" />
<line x1="255.02" y1="617.3" x2="255.02" y2="620.5" stroke="#000" stroke-width="2.1" />
<line x1="269.98" y1="906.2" x2="269.98" y2="903" stroke="#000" stroke-width="2.1" />
<line x1="269.98" y1="617.3" x2="269.98" y2="620.5" stroke="#000" stroke-width="2.1" />
<line x1="282.94" y1="906.2" x2="282.94" y2="903" stroke="#000" stroke-width="2.1" />
<line x1="282.94" y1="617.3" x2="282.94" y2="620.5" stroke="#000" stroke-width="2.1" />
<line x1="294.37" y1="906.2" x2="294.37" y2="903" stroke="#000" stroke-width="2.1" />
<line x1="294.37" y1="617.3" x2="294.37" y2="620.5" stroke="#000" stroke-width="2.1" />
<line x1="79.9" y1="645.2" x2="85.3" y2="645.2" stroke="#000" stroke-width="2.1" />
<line x1="322.3" y1="645.2" x2="316.9" y2="645.2" stroke="#000" stroke-width="2.1" />
<line x1="79.9" y1="732.1" x2="85.3" y2="732.1" stroke="#000" stroke-width="2.1" />
<line x1="322.3" y1="732.1" x2="316.9" y2="732.1" stroke="#000" stroke-width="2.1" />
<line x1="79.9" y1="819" x2="85.3" y2="819" stroke="#000" stroke-width="2.1" />
<line x1="322.3" y1="819" x2="316.9" y2="819" stroke="#000" stroke-width="2.1" />
<line x1="79.9" y1="905.9" x2="85.3" y2="905.9" stroke="#000" stroke-width="2.1" />
<line x1="322.3" y1="905.9" x2="316.9" y2="905.9" stroke="#000" stroke-width="2.1" />
<line x1="79.9" y1="879.74" x2="83.1" y2="879.74" stroke="#000" stroke-width="2.1" />
<line x1="322.3" y1="879.74" x2="319.1" y2="879.74" stroke="#000" stroke-width="2.1" />
<line x1="79.9" y1="864.44" x2="83.1" y2="864.44" stroke="#000" stroke-width="2.1" />
<line x1="322.3" y1="864.44" x2="319.1" y2="864.44" stroke="#000" stroke-width="2.1" />
<line x1="79.9" y1="853.58" x2="83.1" y2="853.58" stroke="#000" stroke-width="2.1" />
<line x1="322.3" y1="853.58" x2="319.1" y2="853.58" stroke="#000" stroke-width="2.1" />
<line x1="79.9" y1="845.16" x2="83.1" y2="845.16" stroke="#000" stroke-width="2.1" />
<line x1="322.3" y1="845.16" x2="319.1" y2="845.16" stroke="#000" stroke-width="2.1" />
<line x1="79.9" y1="838.28" x2="83.1" y2="838.28" stroke="#000" stroke-width="2.1" />
<line x1="322.3" y1="838.28" x2="319.1" y2="838.28" stroke="#000" stroke-width="2.1" />
<line x1="79.9" y1="832.46" x2="83.1" y2="832.46" stroke="#000" stroke-width="2.1" />
<line x1="322.3" y1="832.46" x2="319.1" y2="832.46" stroke="#000" stroke-width="2.1" />
<line x1="79.9" y1="827.42" x2="83.1" y2="827.42" stroke="#000" stroke-width="2.1" />
<line x1="322.3" y1="827.42" x2="319.1" y2="827.42" stroke="#000" stroke-width="2.1" />
<line x1="79.9" y1="822.98" x2="83.1" y2="822.98" stroke="#000" stroke-width="2.1" />
<line x1="322.3" y1="822.98" x2="319.1" y2="822.98" stroke="#000" stroke-width="2.1" />
<line x1="79.9" y1="792.84" x2="83.1" y2="792.84" stroke="#000" stroke-width="2.1" />
<line x1="322.3" y1="792.84" x2="319.1" y2="792.84" stroke="#000" stroke-width="2.1" />
<line x1="79.9" y1="777.54" x2="83.1" y2="777.54" stroke="#000" stroke-width="2.1" />
<line x1="322.3" y1="777.54" x2="319.1" y2="777.54" stroke="#000" stroke-width="2.1" />
<line x1="79.9" y1="766.68" x2="83.1" y2="766.68" stroke="#000" stroke-width="2.1" />
<line x1="322.3" y1="766.68" x2="319.1" y2="766.68" stroke="#000" stroke-width="2.1" />
<line x1="79.9" y1="758.26" x2="83.1" y2="758.26" stroke="#000" stroke-width="2.1" />
<line x1="322.3" y1="758.26" x2="319.1" y2="758.26" stroke="#000" stroke-width="2.1" />
<line x1="79.9" y1="751.38" x2="83.1" y2="751.38" stroke="#000" stroke-width="2.1" />
<line x1="322.3" y1="751.38" x2="319.1" y2="751.38" stroke="#000" stroke-width="2.1" />
<line x1="79.9" y1="745.56" x2="83.1" y2="745.56" stroke="#000" stroke-width="2.1" />
<line x1="322.3" y1="745.56" x2="319.1" y2="745.56" stroke="#000" stroke-width="2.1" />
<line x1="79.9" y1="740.52" x2="83.1" y2="740.52" stroke="#000" stroke-width="2.1" />
<line x1="322.3" y1="740.52" x2="319.1" y2="740.52" stroke="#000" stroke-width="2.1" />
<line x1="79.9" y1="736.08" x2="83.1" y2="736.08" stroke="#000" stroke-width="2.1" />
<line x1="322.3" y1="736.08" x2="319.1" y2="736.08" stroke="#000" stroke-width="2.1" />
<line x1="79.9" y1="705.94" x2="83.1" y2="705.94" stroke="#000" stroke-width="2.1" />
<line x1="322.3" y1="705.94" x2="319.1" y2="705.94" stroke="#000" stroke-width="2.1" />
<line x1="79.9" y1="690.64" x2="83.1" y2="690.64" stroke="#000" stroke-width="2.1" />
<line x1="322.3" y1="690.64" x2="319.1" y2="690.64" stroke="#000" stroke-width="2.1" />
<line x1="79.9" y1="679.78" x2="83.1" y2="679.78" stroke="#000" stroke-width="2.1" />
<line x1="322.3" y1="679.78" x2="319.1" y2="679.78" stroke="#000" stroke-width="2.1" />
<line x1="79.9" y1="671.36" x2="83.1" y2="671.36" stroke="#000" stroke-width="2.1" />
<line x1="322.3" y1="671.36" x2="319.1" y2="671.36" stroke="#000" stroke-width="2.1" />
<line x1="79.9" y1="664.48" x2="83.1" y2="664.48" stroke="#000" stroke-width="2.1" />
<line x1="322.3" y1="664.48" x2="319.1" y2="664.48" stroke="#000" stroke-width="2.1" />
<line x1="79.9" y1="658.66" x2="83.1" y2="658.66" stroke="#000" stroke-width="2.1" />
<line x1="322.3" y1="658.66" x2="319.1" y2="658.66" stroke="#000" stroke-width="2.1" />
<line x1="79.9" y1="653.62" x2="83.1" y2="653.62" stroke="#000" stroke-width="2.1" />
<line x1="322.3" y1="653.62" x2="319.1" y2="653.62" stroke="#000" stroke-width="2.1" />
<line x1="79.9" y1="649.18" x2="83.1" y2="649.18" stroke="#000" stroke-width="2.1" />
<line x1="322.3" y1="649.18" x2="319.1" y2="649.18" stroke="#000" stroke-width="2.1" />
<line x1="79.9" y1="619.04" x2="83.1" y2="619.04" stroke="#000" stroke-width="2.1" />
<line x1="322.3" y1="619.04" x2="319.1" y2="619.04" stroke="#000" stroke-width="2.1" />
<text x="73.4" y="653.1" font-size="22" text-anchor="end" fill="#000" >1</text>
<text x="71.7" y="740" font-size="22" text-anchor="end" fill="#000" >0.1</text>
<text x="71.2" y="827.9" font-size="22" text-anchor="end" fill="#000" >0.01</text>
<text x="69.2" y="913.8" font-size="22" text-anchor="end" fill="#000" >0.001</text>
<text x="79.6" y="929.7" font-size="22" text-anchor="middle" fill="#000" >0.1</text>
<text x="303.8" y="929.6" font-size="22" text-anchor="middle" fill="#000" >1</text>
<text x="97.9" y="645.5" font-size="27.5" text-anchor="start" fill="#000" >c</text>
<text x="174.3" y="823.2" font-size="22" text-anchor="start" fill="#b00000" >β = 1.6 ± 0.1</text>
<text x="172" y="947.1" font-size="26.5" font-style="italic">E</text>
<text x="187.6" y="954.4" font-size="17">T</text>
<text x="197" y="947.1" font-size="26.5">/</text>
<text x="205.2" y="947.1" font-size="26.5" font-style="italic">E</text>
<text x="226.5" y="954.4" font-size="17">T</text>
<text x="227" y="935.4" font-size="17.5">max</text>
<g transform="translate(21.9,797.4) rotate(-90)"><text x="0.2" y="0" font-size="27" font-style="italic">E</text><text x="17.3" y="5.2" font-size="17.5">low</text><text x="47" y="0" font-size="26.5">/</text><text x="62.3" y="0" font-size="27" font-style="italic">E</text><text x="79.6" y="5.2" font-size="17.5">low</text><text x="85.1" y="-11" font-size="17.5">max</text></g>
<circle cx="482.50" cy="709.20" r="6.8" fill="url(#ball)"/>
<circle cx="548.30" cy="677.80" r="6.8" fill="url(#ball)"/>
<circle cx="588.20" cy="660.70" r="6.8" fill="url(#ball)"/>
<circle cx="615.80" cy="654.40" r="6.8" fill="url(#ball)"/>
<circle cx="637.90" cy="644.40" r="6.8" fill="url(#ball)"/>
<line x1="423.8" y1="738.2" x2="650.3" y2="637.8" stroke="#ff0000" stroke-width="2.8" stroke-dasharray="7 5.04"/>
<rect x="415.2" y="616.3" width="240.8" height="289.2" fill="none" stroke="#000" stroke-width="2.6"/>
<line x1="414.4" y1="905.5" x2="414.4" y2="900.1" stroke="#000" stroke-width="2.1" />
<line x1="414.4" y1="616.3" x2="414.4" y2="621.7" stroke="#000" stroke-width="2.1" />
<line x1="638.4" y1="905.5" x2="638.4" y2="900.1" stroke="#000" stroke-width="2.1" />
<line x1="638.4" y1="616.3" x2="638.4" y2="621.7" stroke="#000" stroke-width="2.1" />
<line x1="481.83" y1="905.5" x2="481.83" y2="902.3" stroke="#000" stroke-width="2.1" />
<line x1="481.83" y1="616.3" x2="481.83" y2="619.5" stroke="#000" stroke-width="2.1" />
<line x1="521.28" y1="905.5" x2="521.28" y2="902.3" stroke="#000" stroke-width="2.1" />
<line x1="521.28" y1="616.3" x2="521.28" y2="619.5" stroke="#000" stroke-width="2.1" />
<line x1="549.26" y1="905.5" x2="549.26" y2="902.3" stroke="#000" stroke-width="2.1" />
<line x1="549.26" y1="616.3" x2="549.26" y2="619.5" stroke="#000" stroke-width="2.1" />
<line x1="570.97" y1="905.5" x2="570.97" y2="902.3" stroke="#000" stroke-width="2.1" />
<line x1="570.97" y1="616.3" x2="570.97" y2="619.5" stroke="#000" stroke-width="2.1" />
<line x1="588.71" y1="905.5" x2="588.71" y2="902.3" stroke="#000" stroke-width="2.1" />
<line x1="588.71" y1="616.3" x2="588.71" y2="619.5" stroke="#000" stroke-width="2.1" />
<line x1="603.7" y1="905.5" x2="603.7" y2="902.3" stroke="#000" stroke-width="2.1" />
<line x1="603.7" y1="616.3" x2="603.7" y2="619.5" stroke="#000" stroke-width="2.1" />
<line x1="616.69" y1="905.5" x2="616.69" y2="902.3" stroke="#000" stroke-width="2.1" />
<line x1="616.69" y1="616.3" x2="616.69" y2="619.5" stroke="#000" stroke-width="2.1" />
<line x1="628.15" y1="905.5" x2="628.15" y2="902.3" stroke="#000" stroke-width="2.1" />
<line x1="628.15" y1="616.3" x2="628.15" y2="619.5" stroke="#000" stroke-width="2.1" />
<line x1="415.2" y1="643.8" x2="420.6" y2="643.8" stroke="#000" stroke-width="2.1" />
<line x1="656" y1="643.8" x2="650.6" y2="643.8" stroke="#000" stroke-width="2.1" />
<line x1="415.2" y1="731" x2="420.6" y2="731" stroke="#000" stroke-width="2.1" />
<line x1="656" y1="731" x2="650.6" y2="731" stroke="#000" stroke-width="2.1" />
<line x1="415.2" y1="818.2" x2="420.6" y2="818.2" stroke="#000" stroke-width="2.1" />
<line x1="656" y1="818.2" x2="650.6" y2="818.2" stroke="#000" stroke-width="2.1" />
<line x1="415.2" y1="905.4" x2="420.6" y2="905.4" stroke="#000" stroke-width="2.1" />
<line x1="656" y1="905.4" x2="650.6" y2="905.4" stroke="#000" stroke-width="2.1" />
<line x1="415.2" y1="879.15" x2="418.4" y2="879.15" stroke="#000" stroke-width="2.1" />
<line x1="656" y1="879.15" x2="652.8" y2="879.15" stroke="#000" stroke-width="2.1" />
<line x1="415.2" y1="863.8" x2="418.4" y2="863.8" stroke="#000" stroke-width="2.1" />
<line x1="656" y1="863.8" x2="652.8" y2="863.8" stroke="#000" stroke-width="2.1" />
<line x1="415.2" y1="852.9" x2="418.4" y2="852.9" stroke="#000" stroke-width="2.1" />
<line x1="656" y1="852.9" x2="652.8" y2="852.9" stroke="#000" stroke-width="2.1" />
<line x1="415.2" y1="844.45" x2="418.4" y2="844.45" stroke="#000" stroke-width="2.1" />
<line x1="656" y1="844.45" x2="652.8" y2="844.45" stroke="#000" stroke-width="2.1" />
<line x1="415.2" y1="837.55" x2="418.4" y2="837.55" stroke="#000" stroke-width="2.1" />
<line x1="656" y1="837.55" x2="652.8" y2="837.55" stroke="#000" stroke-width="2.1" />
<line x1="415.2" y1="831.71" x2="418.4" y2="831.71" stroke="#000" stroke-width="2.1" />
<line x1="656" y1="831.71" x2="652.8" y2="831.71" stroke="#000" stroke-width="2.1" />
<line x1="415.2" y1="826.65" x2="418.4" y2="826.65" stroke="#000" stroke-width="2.1" />
<line x1="656" y1="826.65" x2="652.8" y2="826.65" stroke="#000" stroke-width="2.1" />
<line x1="415.2" y1="822.19" x2="418.4" y2="822.19" stroke="#000" stroke-width="2.1" />
<line x1="656" y1="822.19" x2="652.8" y2="822.19" stroke="#000" stroke-width="2.1" />
<line x1="415.2" y1="791.95" x2="418.4" y2="791.95" stroke="#000" stroke-width="2.1" />
<line x1="656" y1="791.95" x2="652.8" y2="791.95" stroke="#000" stroke-width="2.1" />
<line x1="415.2" y1="776.6" x2="418.4" y2="776.6" stroke="#000" stroke-width="2.1" />
<line x1="656" y1="776.6" x2="652.8" y2="776.6" stroke="#000" stroke-width="2.1" />
<line x1="415.2" y1="765.7" x2="418.4" y2="765.7" stroke="#000" stroke-width="2.1" />
<line x1="656" y1="765.7" x2="652.8" y2="765.7" stroke="#000" stroke-width="2.1" />
<line x1="415.2" y1="757.25" x2="418.4" y2="757.25" stroke="#000" stroke-width="2.1" />
<line x1="656" y1="757.25" x2="652.8" y2="757.25" stroke="#000" stroke-width="2.1" />
<line x1="415.2" y1="750.35" x2="418.4" y2="750.35" stroke="#000" stroke-width="2.1" />
<line x1="656" y1="750.35" x2="652.8" y2="750.35" stroke="#000" stroke-width="2.1" />
<line x1="415.2" y1="744.51" x2="418.4" y2="744.51" stroke="#000" stroke-width="2.1" />
<line x1="656" y1="744.51" x2="652.8" y2="744.51" stroke="#000" stroke-width="2.1" />
<line x1="415.2" y1="739.45" x2="418.4" y2="739.45" stroke="#000" stroke-width="2.1" />
<line x1="656" y1="739.45" x2="652.8" y2="739.45" stroke="#000" stroke-width="2.1" />
<line x1="415.2" y1="734.99" x2="418.4" y2="734.99" stroke="#000" stroke-width="2.1" />
<line x1="656" y1="734.99" x2="652.8" y2="734.99" stroke="#000" stroke-width="2.1" />
<line x1="415.2" y1="704.75" x2="418.4" y2="704.75" stroke="#000" stroke-width="2.1" />
<line x1="656" y1="704.75" x2="652.8" y2="704.75" stroke="#000" stroke-width="2.1" />
<line x1="415.2" y1="689.4" x2="418.4" y2="689.4" stroke="#000" stroke-width="2.1" />
<line x1="656" y1="689.4" x2="652.8" y2="689.4" stroke="#000" stroke-width="2.1" />
<line x1="415.2" y1="678.5" x2="418.4" y2="678.5" stroke="#000" stroke-width="2.1" />
<line x1="656" y1="678.5" x2="652.8" y2="678.5" stroke="#000" stroke-width="2.1" />
<line x1="415.2" y1="670.05" x2="418.4" y2="670.05" stroke="#000" stroke-width="2.1" />
<line x1="656" y1="670.05" x2="652.8" y2="670.05" stroke="#000" stroke-width="2.1" />
<line x1="415.2" y1="663.15" x2="418.4" y2="663.15" stroke="#000" stroke-width="2.1" />
<line x1="656" y1="663.15" x2="652.8" y2="663.15" stroke="#000" stroke-width="2.1" />
<line x1="415.2" y1="657.31" x2="418.4" y2="657.31" stroke="#000" stroke-width="2.1" />
<line x1="656" y1="657.31" x2="652.8" y2="657.31" stroke="#000" stroke-width="2.1" />
<line x1="415.2" y1="652.25" x2="418.4" y2="652.25" stroke="#000" stroke-width="2.1" />
<line x1="656" y1="652.25" x2="652.8" y2="652.25" stroke="#000" stroke-width="2.1" />
<line x1="415.2" y1="647.79" x2="418.4" y2="647.79" stroke="#000" stroke-width="2.1" />
<line x1="656" y1="647.79" x2="652.8" y2="647.79" stroke="#000" stroke-width="2.1" />
<line x1="415.2" y1="617.55" x2="418.4" y2="617.55" stroke="#000" stroke-width="2.1" />
<line x1="656" y1="617.55" x2="652.8" y2="617.55" stroke="#000" stroke-width="2.1" />
<text x="405.8" y="651.7" font-size="22" text-anchor="end" fill="#000" >1</text>
<text x="404.8" y="739.4" font-size="22" text-anchor="end" fill="#000" >0.1</text>
<text x="404.3" y="826.6" font-size="22" text-anchor="end" fill="#000" >0.01</text>
<text x="402.3" y="913.3" font-size="22" text-anchor="end" fill="#000" >0.001</text>
<text x="412.8" y="929.1" font-size="22" text-anchor="middle" fill="#000" >0.1</text>
<text x="637.5" y="928.6" font-size="22" text-anchor="middle" fill="#000" >1</text>
<text x="430.9" y="645.1" font-size="27.5" text-anchor="start" fill="#000" >d</text>
<text x="465.6" y="648" font-size="22" text-anchor="start" fill="#b00000" >β = 1.05 ± 0.05</text>
<text x="510.2" y="945" font-size="26.5" font-style="italic">E</text>
<text x="525.8" y="951.5" font-size="17.5">a</text>
<text x="533.5" y="945" font-size="26.5">/</text>
<text x="541.5" y="945" font-size="26.5" font-style="italic">E</text>
<text x="561" y="951.5" font-size="17.5">a</text>
<text x="557.5" y="933.1" font-size="17.5">max</text>
<line x1="470.9" y1="838.1" x2="640.6" y2="838.1" stroke="#000" stroke-width="1.7"/>
<polyline points="480.3,831.2 499.2,810.7 518,815.9 526.7,825 532,827.3 536.7,821.5 541.8,794.4 546.1,780.5 556.1,754.3 565.4,761.3 574.7,827.9 593.8,811.7 612.7,823.1 631.6,828.7" fill="none" stroke="#000" stroke-width="1.6"/>
<circle cx="480.30" cy="831.20" r="5.0" fill="url(#ball)"/>
<circle cx="499.20" cy="810.70" r="5.0" fill="url(#ball)"/>
<circle cx="518.00" cy="815.90" r="5.0" fill="url(#ball)"/>
<circle cx="526.70" cy="825.00" r="5.0" fill="url(#ball)"/>
<circle cx="532.00" cy="827.30" r="5.0" fill="url(#ball)"/>
<circle cx="536.70" cy="821.50" r="5.0" fill="url(#ball)"/>
<circle cx="541.80" cy="794.40" r="5.0" fill="url(#ball)"/>
<circle cx="546.10" cy="780.50" r="5.0" fill="url(#ball)"/>
<circle cx="556.10" cy="754.30" r="5.0" fill="url(#ball)"/>
<circle cx="565.40" cy="761.30" r="5.0" fill="url(#ball)"/>
<circle cx="574.70" cy="827.90" r="5.0" fill="url(#ball)"/>
<circle cx="593.80" cy="811.70" r="5.0" fill="url(#ball)"/>
<circle cx="612.70" cy="823.10" r="5.0" fill="url(#ball)"/>
<circle cx="631.60" cy="828.70" r="5.0" fill="url(#ball)"/>
<rect x="470.9" y="742.6" width="169.7" height="117.6" fill="none" stroke="#000" stroke-width="1.7"/>
<line x1="471.59" y1="860.2" x2="471.59" y2="856.2" stroke="#000" stroke-width="1.5" />
<line x1="471.59" y1="742.6" x2="471.59" y2="746.6" stroke="#000" stroke-width="1.5" />
<line x1="499.76" y1="860.2" x2="499.76" y2="856.2" stroke="#000" stroke-width="1.5" />
<line x1="499.76" y1="742.6" x2="499.76" y2="746.6" stroke="#000" stroke-width="1.5" />
<line x1="527.93" y1="860.2" x2="527.93" y2="856.2" stroke="#000" stroke-width="1.5" />
<line x1="527.93" y1="742.6" x2="527.93" y2="746.6" stroke="#000" stroke-width="1.5" />
<line x1="556.1" y1="860.2" x2="556.1" y2="856.2" stroke="#000" stroke-width="1.5" />
<line x1="556.1" y1="742.6" x2="556.1" y2="746.6" stroke="#000" stroke-width="1.5" />
<line x1="584.27" y1="860.2" x2="584.27" y2="856.2" stroke="#000" stroke-width="1.5" />
<line x1="584.27" y1="742.6" x2="584.27" y2="746.6" stroke="#000" stroke-width="1.5" />
<line x1="612.44" y1="860.2" x2="612.44" y2="856.2" stroke="#000" stroke-width="1.5" />
<line x1="612.44" y1="742.6" x2="612.44" y2="746.6" stroke="#000" stroke-width="1.5" />
<line x1="640.61" y1="860.2" x2="640.61" y2="856.2" stroke="#000" stroke-width="1.5" />
<line x1="640.61" y1="742.6" x2="640.61" y2="746.6" stroke="#000" stroke-width="1.5" />
<line x1="485.68" y1="860.2" x2="485.68" y2="857.7" stroke="#000" stroke-width="1.5" />
<line x1="485.68" y1="742.6" x2="485.68" y2="745.1" stroke="#000" stroke-width="1.5" />
<line x1="513.85" y1="860.2" x2="513.85" y2="857.7" stroke="#000" stroke-width="1.5" />
<line x1="513.85" y1="742.6" x2="513.85" y2="745.1" stroke="#000" stroke-width="1.5" />
<line x1="542.01" y1="860.2" x2="542.01" y2="857.7" stroke="#000" stroke-width="1.5" />
<line x1="542.01" y1="742.6" x2="542.01" y2="745.1" stroke="#000" stroke-width="1.5" />
<line x1="570.19" y1="860.2" x2="570.19" y2="857.7" stroke="#000" stroke-width="1.5" />
<line x1="570.19" y1="742.6" x2="570.19" y2="745.1" stroke="#000" stroke-width="1.5" />
<line x1="598.36" y1="860.2" x2="598.36" y2="857.7" stroke="#000" stroke-width="1.5" />
<line x1="598.36" y1="742.6" x2="598.36" y2="745.1" stroke="#000" stroke-width="1.5" />
<line x1="626.53" y1="860.2" x2="626.53" y2="857.7" stroke="#000" stroke-width="1.5" />
<line x1="626.53" y1="742.6" x2="626.53" y2="745.1" stroke="#000" stroke-width="1.5" />
<line x1="470.9" y1="860.3" x2="475.3" y2="860.3" stroke="#000" stroke-width="1.5" />
<line x1="640.6" y1="860.3" x2="636.2" y2="860.3" stroke="#000" stroke-width="1.5" />
<line x1="470.9" y1="807.5" x2="475.3" y2="807.5" stroke="#000" stroke-width="1.5" />
<line x1="640.6" y1="807.5" x2="636.2" y2="807.5" stroke="#000" stroke-width="1.5" />
<line x1="470.9" y1="754.7" x2="475.3" y2="754.7" stroke="#000" stroke-width="1.5" />
<line x1="640.6" y1="754.7" x2="636.2" y2="754.7" stroke="#000" stroke-width="1.5" />
<line x1="470.9" y1="833.9" x2="473.4" y2="833.9" stroke="#000" stroke-width="1.5" />
<line x1="640.6" y1="833.9" x2="638.1" y2="833.9" stroke="#000" stroke-width="1.5" />
<line x1="470.9" y1="781.1" x2="473.4" y2="781.1" stroke="#000" stroke-width="1.5" />
<line x1="640.6" y1="781.1" x2="638.1" y2="781.1" stroke="#000" stroke-width="1.5" />
<text x="468.3" y="865.1" font-size="18.5" text-anchor="end" fill="#000" >0</text>
<text x="468.3" y="812.3" font-size="18.5" text-anchor="end" fill="#000" >1</text>
<text x="468.3" y="759.5" font-size="18.5" text-anchor="end" fill="#000" >2</text>
<text x="474.59" y="881.3" font-size="18.5" text-anchor="middle" fill="#000" >-30</text>
<text x="501.76" y="881.3" font-size="18.5" text-anchor="middle" fill="#000" >-20</text>
<text x="529.93" y="881.3" font-size="18.5" text-anchor="middle" fill="#000" >-10</text>
<text x="558.1" y="881.3" font-size="18.5" text-anchor="middle" fill="#000" >0</text>
<text x="586.27" y="881.3" font-size="18.5" text-anchor="middle" fill="#000" >10</text>
<text x="614.44" y="881.3" font-size="18.5" text-anchor="middle" fill="#000" >20</text>
<text x="642.61" y="881.3" font-size="18.5" text-anchor="middle" fill="#000" >30</text>
<text x="559" y="849.8" font-size="17.5" text-anchor="start" fill="#000" >noise level</text>
<text x="556.5" y="899.2" font-size="19.8" text-anchor="middle" fill="#000" >Delay Δt (ps)</text>
<text transform="translate(448.6,810.4) rotate(-90)" font-size="19.6" text-anchor="middle">Efficiency, κ (%)</text>
</svg></body></html>
